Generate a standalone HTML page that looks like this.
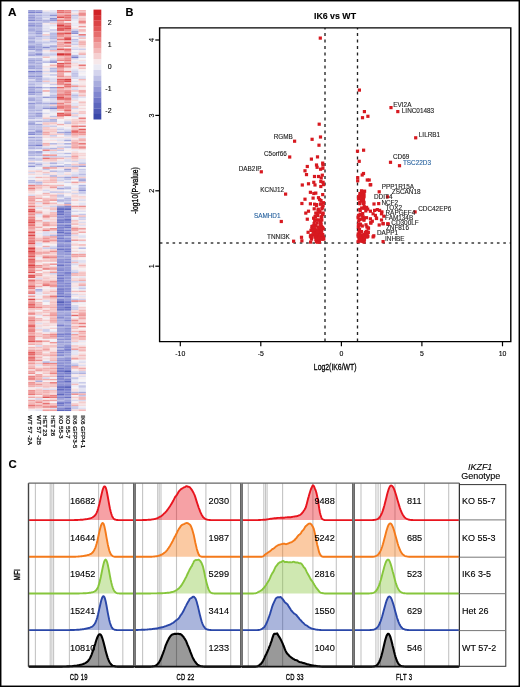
<!DOCTYPE html><html><head><meta charset="utf-8"><style>html,body{margin:0;padding:0;background:#fff;}svg{display:block;filter:blur(0.35px);}text{font-family:"Liberation Sans", sans-serif;stroke:#000;stroke-width:0.12px;}.hm rect{width:7.25px;height:1.65px;}</style></head><body>
<svg width="520" height="687" viewBox="0 0 520 687">
<rect x="0" y="0" width="520" height="687" fill="#fff"/>
<g class="hm"><g transform="translate(28.20,0)"><rect y="10.0" fill="#9a9ed8"/><rect y="11.6" fill="#7c82ce"/><rect y="13.2" fill="#b7bae3"/><rect y="14.8" fill="#999dd7"/><rect y="16.4" fill="#9599d6"/><rect y="18.0" fill="#a6a9dc"/><rect y="19.6" fill="#8186d0"/><rect y="21.2" fill="#c0c2e7"/><rect y="22.8" fill="#9da1d9"/><rect y="24.4" fill="#8b90d3"/><rect y="26.0" fill="#a4a8dc"/><rect y="27.6" fill="#afb3e0"/><rect y="29.2" fill="#9599d6"/><rect y="30.9" fill="#b6b9e3"/><rect y="32.5" fill="#b5b8e2"/><rect y="34.1" fill="#c5c7e9"/><rect y="35.7" fill="#b7b9e3"/><rect y="37.3" fill="#9ea2d9"/><rect y="38.9" fill="#c1c3e7"/><rect y="40.5" fill="#a4a8dc"/><rect y="42.1" fill="#a0a4da"/><rect y="43.7" fill="#c1c4e7"/><rect y="45.3" fill="#9498d6"/><rect y="46.9" fill="#8e93d4"/><rect y="48.5" fill="#969bd6"/><rect y="50.1" fill="#d4d5ed"/><rect y="51.7" fill="#b7bae3"/><rect y="53.3" fill="#a8abdd"/><rect y="54.9" fill="#a2a6db"/><rect y="56.5" fill="#e4e3f2"/><rect y="58.1" fill="#b0b3e0"/><rect y="59.7" fill="#9da2d9"/><rect y="61.3" fill="#9fa3da"/><rect y="62.9" fill="#b1b4e1"/><rect y="64.5" fill="#adb0df"/><rect y="66.1" fill="#9196d5"/><rect y="67.7" fill="#9a9fd8"/><rect y="69.3" fill="#c9cbea"/><rect y="71.0" fill="#747acb"/><rect y="72.6" fill="#adb0df"/><rect y="74.2" fill="#aeb1df"/><rect y="75.8" fill="#8e93d4"/><rect y="77.4" fill="#acafde"/><rect y="79.0" fill="#d9daef"/><rect y="80.6" fill="#b9bbe4"/><rect y="82.2" fill="#bfc2e6"/><rect y="83.8" fill="#b1b4e1"/><rect y="85.4" fill="#bcbfe5"/><rect y="87.0" fill="#9195d5"/><rect y="88.6" fill="#a6aadc"/><rect y="90.2" fill="#a1a4da"/><rect y="91.8" fill="#898ed2"/><rect y="93.4" fill="#9da1d9"/><rect y="95.0" fill="#d8d9ef"/><rect y="96.6" fill="#babce4"/><rect y="98.2" fill="#999dd7"/><rect y="99.8" fill="#a3a7db"/><rect y="101.4" fill="#c8caea"/><rect y="103.0" fill="#8f94d4"/><rect y="104.6" fill="#b7bae3"/><rect y="106.2" fill="#9ea2d9"/><rect y="107.8" fill="#aeb1e0"/><rect y="109.4" fill="#b2b5e1"/><rect y="111.1" fill="#bfc1e6"/><rect y="112.7" fill="#afb2e0"/><rect y="114.3" fill="#b7bae3"/><rect y="115.9" fill="#abaede"/><rect y="117.5" fill="#b1b4e1"/><rect y="119.1" fill="#dedef0"/><rect y="120.7" fill="#b5b8e2"/><rect y="122.3" fill="#9ca0d8"/><rect y="123.9" fill="#a0a4da"/><rect y="125.5" fill="#c0c2e7"/><rect y="127.1" fill="#bbbee5"/><rect y="128.7" fill="#b1b4e1"/><rect y="130.3" fill="#c7c9ea"/><rect y="131.9" fill="#9094d4"/><rect y="133.5" fill="#8489d1"/><rect y="135.1" fill="#e2e2f1"/><rect y="136.7" fill="#9b9fd8"/><rect y="138.3" fill="#c4c6e9"/><rect y="139.9" fill="#b0b3e0"/><rect y="141.5" fill="#b5b8e2"/><rect y="143.1" fill="#b1b4e1"/><rect y="144.7" fill="#9398d6"/><rect y="146.3" fill="#b5b8e2"/><rect y="147.9" fill="#afb2e0"/><rect y="149.5" fill="#e0e0f1"/><rect y="151.2" fill="#9da1d9"/><rect y="152.8" fill="#b3b6e1"/><rect y="154.4" fill="#afb2e0"/><rect y="156.0" fill="#dfdff0"/><rect y="157.6" fill="#afb2e0"/><rect y="159.2" fill="#c1c3e7"/><rect y="160.8" fill="#f6e0e1"/><rect y="162.4" fill="#abaede"/><rect y="164.0" fill="#d7d7ee"/><rect y="165.6" fill="#8c91d3"/><rect y="167.2" fill="#e3e3f2"/><rect y="168.8" fill="#eae9f4"/><rect y="170.4" fill="#f5d4d5"/><rect y="172.0" fill="#d4d5ed"/><rect y="173.6" fill="#f5d7d8"/><rect y="175.2" fill="#f0eff5"/><rect y="176.8" fill="#dedef0"/><rect y="178.4" fill="#eeedf5"/><rect y="180.0" fill="#b4b7e2"/><rect y="181.6" fill="#b2b5e1"/><rect y="183.2" fill="#d6d6ee"/><rect y="184.8" fill="#ea7d7d"/><rect y="186.4" fill="#f1aaaa"/><rect y="188.0" fill="#ea7d7d"/><rect y="189.6" fill="#f4bebe"/><rect y="191.3" fill="#f5d5d6"/><rect y="192.9" fill="#f6e4e6"/><rect y="194.5" fill="#d6d7ee"/><rect y="196.1" fill="#ef9b9b"/><rect y="197.7" fill="#f0a1a1"/><rect y="199.3" fill="#ed9191"/><rect y="200.9" fill="#f3b5b5"/><rect y="202.5" fill="#f0a4a4"/><rect y="204.1" fill="#f4c0c0"/><rect y="205.7" fill="#e77272"/><rect y="207.3" fill="#f4bbbb"/><rect y="208.9" fill="#e35d5e"/><rect y="210.5" fill="#dd494a"/><rect y="212.1" fill="#ed9191"/><rect y="213.7" fill="#ec8a8a"/><rect y="215.3" fill="#f0a6a6"/><rect y="216.9" fill="#ea7f7f"/><rect y="218.5" fill="#ea7d7d"/><rect y="220.1" fill="#e56767"/><rect y="221.7" fill="#df4f50"/><rect y="223.3" fill="#ea7f7f"/><rect y="224.9" fill="#e87373"/><rect y="226.5" fill="#ef9a9a"/><rect y="228.1" fill="#ee9595"/><rect y="229.7" fill="#f3b9b9"/><rect y="231.4" fill="#df5152"/><rect y="233.0" fill="#ee9494"/><rect y="234.6" fill="#dc4648"/><rect y="236.2" fill="#ec8b8b"/><rect y="237.8" fill="#ea8080"/><rect y="239.4" fill="#ea8080"/><rect y="241.0" fill="#e87777"/><rect y="242.6" fill="#e05253"/><rect y="244.2" fill="#f0a6a6"/><rect y="245.8" fill="#f3b6b6"/><rect y="247.4" fill="#da4042"/><rect y="249.0" fill="#e66a6a"/><rect y="250.6" fill="#da4042"/><rect y="252.2" fill="#e25858"/><rect y="253.8" fill="#ea8282"/><rect y="255.4" fill="#e15657"/><rect y="257.0" fill="#ef9f9f"/><rect y="258.6" fill="#e25a5a"/><rect y="260.2" fill="#e35d5d"/><rect y="261.8" fill="#e87373"/><rect y="263.4" fill="#e87474"/><rect y="265.0" fill="#db4244"/><rect y="266.6" fill="#e66a6a"/><rect y="268.2" fill="#eb8787"/><rect y="269.8" fill="#eb8383"/><rect y="271.5" fill="#de4d4e"/><rect y="273.1" fill="#f5c7c7"/><rect y="274.7" fill="#e05253"/><rect y="276.3" fill="#da4043"/><rect y="277.9" fill="#f6dee0"/><rect y="279.5" fill="#e66c6c"/><rect y="281.1" fill="#eb8888"/><rect y="282.7" fill="#f1a6a6"/><rect y="284.3" fill="#ed8f8f"/><rect y="285.9" fill="#e45e5e"/><rect y="287.5" fill="#e97979"/><rect y="289.1" fill="#f4bfbf"/><rect y="290.7" fill="#ed9292"/><rect y="292.3" fill="#e66969"/><rect y="293.9" fill="#e7e6f3"/><rect y="295.5" fill="#ee9696"/><rect y="297.1" fill="#f5dadc"/><rect y="298.7" fill="#dd4a4b"/><rect y="300.3" fill="#f0a3a3"/><rect y="301.9" fill="#ed9292"/><rect y="303.5" fill="#e56262"/><rect y="305.1" fill="#e77070"/><rect y="306.7" fill="#e66969"/><rect y="308.3" fill="#f4bebe"/><rect y="309.9" fill="#f5d7d9"/><rect y="311.6" fill="#f2afaf"/><rect y="313.2" fill="#e87676"/><rect y="314.8" fill="#f6e1e3"/><rect y="316.4" fill="#ef9f9f"/><rect y="318.0" fill="#ee9898"/><rect y="319.6" fill="#e97a7a"/><rect y="321.2" fill="#ee9999"/><rect y="322.8" fill="#f1abab"/><rect y="324.4" fill="#e66969"/><rect y="326.0" fill="#e56363"/><rect y="327.6" fill="#ef9b9b"/><rect y="329.2" fill="#e77070"/><rect y="330.8" fill="#ea7f7f"/><rect y="332.4" fill="#ef9f9f"/><rect y="334.0" fill="#f2b1b1"/><rect y="335.6" fill="#e76e6e"/><rect y="337.2" fill="#e77272"/><rect y="338.8" fill="#eb8686"/><rect y="340.4" fill="#e15657"/><rect y="342.0" fill="#f4baba"/><rect y="343.6" fill="#f1a9a9"/><rect y="345.2" fill="#f6f2f4"/><rect y="346.8" fill="#f2b3b3"/><rect y="348.4" fill="#f4c0c0"/><rect y="350.0" fill="#f0a1a1"/><rect y="351.7" fill="#e45e5e"/><rect y="353.3" fill="#e35c5c"/><rect y="354.9" fill="#ef9f9f"/><rect y="356.5" fill="#e66969"/><rect y="358.1" fill="#e76e6e"/><rect y="359.7" fill="#e87474"/><rect y="361.3" fill="#f3b8b8"/><rect y="362.9" fill="#ef9a9a"/><rect y="364.5" fill="#f5c6c7"/><rect y="366.1" fill="#f2b2b2"/><rect y="367.7" fill="#ef9999"/><rect y="369.3" fill="#f5d3d4"/><rect y="370.9" fill="#f0a4a4"/><rect y="372.5" fill="#ed8f8f"/><rect y="374.1" fill="#f6e9ec"/><rect y="375.7" fill="#ea8383"/><rect y="377.3" fill="#ea7e7e"/><rect y="378.9" fill="#ec8a8a"/><rect y="380.5" fill="#f6ddde"/><rect y="382.1" fill="#ec8888"/><rect y="383.7" fill="#ef9e9e"/><rect y="385.3" fill="#f0a5a5"/><rect y="386.9" fill="#f6e1e3"/><rect y="388.5" fill="#f6e0e1"/><rect y="390.1" fill="#eb8383"/><rect y="391.8" fill="#ef9b9b"/><rect y="393.4" fill="#e87777"/><rect y="395.0" fill="#f5dadc"/><rect y="396.6" fill="#f0a5a5"/><rect y="398.2" fill="#edecf4"/><rect y="399.8" fill="#ef9f9f"/><rect y="401.4" fill="#f4bcbc"/><rect y="403.0" fill="#f3b7b7"/><rect y="404.6" fill="#e87575"/><rect y="406.2" fill="#ef9b9b"/><rect y="407.8" fill="#f5cdcd"/><rect y="409.4" fill="#f2f0f6"/></g><g transform="translate(35.40,0)"><rect y="10.0" fill="#a8acdd"/><rect y="11.6" fill="#8085cf"/><rect y="13.2" fill="#c4c6e9"/><rect y="14.8" fill="#acafdf"/><rect y="16.4" fill="#b9bce4"/><rect y="18.0" fill="#b0b3e0"/><rect y="19.6" fill="#a2a5da"/><rect y="21.2" fill="#bec0e6"/><rect y="22.8" fill="#a5a9dc"/><rect y="24.4" fill="#a0a4da"/><rect y="26.0" fill="#a6a9dc"/><rect y="27.6" fill="#b4b7e2"/><rect y="29.2" fill="#a8acdd"/><rect y="30.9" fill="#9b9fd8"/><rect y="32.5" fill="#969ad6"/><rect y="34.1" fill="#b6b9e3"/><rect y="35.7" fill="#a4a8dc"/><rect y="37.3" fill="#c5c7e9"/><rect y="38.9" fill="#cacceb"/><rect y="40.5" fill="#cfd1ec"/><rect y="42.1" fill="#babde5"/><rect y="43.7" fill="#adb0df"/><rect y="45.3" fill="#a3a7db"/><rect y="46.9" fill="#a7abdd"/><rect y="48.5" fill="#9a9ed8"/><rect y="50.1" fill="#a2a6db"/><rect y="51.7" fill="#c3c5e8"/><rect y="53.3" fill="#7f85cf"/><rect y="54.9" fill="#adb0df"/><rect y="56.5" fill="#ddddf0"/><rect y="58.1" fill="#b3b6e2"/><rect y="59.7" fill="#a4a8db"/><rect y="61.3" fill="#bcbee5"/><rect y="62.9" fill="#aaadde"/><rect y="64.5" fill="#b5b8e2"/><rect y="66.1" fill="#a8acdd"/><rect y="67.7" fill="#a5a8dc"/><rect y="69.3" fill="#babde4"/><rect y="71.0" fill="#8287d0"/><rect y="72.6" fill="#b1b4e1"/><rect y="74.2" fill="#adb0df"/><rect y="75.8" fill="#9196d5"/><rect y="77.4" fill="#abaede"/><rect y="79.0" fill="#aaadde"/><rect y="80.6" fill="#a6aadc"/><rect y="82.2" fill="#c5c7e9"/><rect y="83.8" fill="#c9cbea"/><rect y="85.4" fill="#ccceeb"/><rect y="87.0" fill="#9196d5"/><rect y="88.6" fill="#c8caea"/><rect y="90.2" fill="#afb2e0"/><rect y="91.8" fill="#9b9fd8"/><rect y="93.4" fill="#b5b8e2"/><rect y="95.0" fill="#cacceb"/><rect y="96.6" fill="#bdbfe5"/><rect y="98.2" fill="#b9bce4"/><rect y="99.8" fill="#b5b8e2"/><rect y="101.4" fill="#b1b4e1"/><rect y="103.0" fill="#a7abdd"/><rect y="104.6" fill="#cfd0ec"/><rect y="106.2" fill="#bec1e6"/><rect y="107.8" fill="#c4c6e8"/><rect y="109.4" fill="#adb1df"/><rect y="111.1" fill="#cbcdeb"/><rect y="112.7" fill="#969ad6"/><rect y="114.3" fill="#a0a4da"/><rect y="115.9" fill="#a3a6db"/><rect y="117.5" fill="#c8caea"/><rect y="119.1" fill="#e3e2f2"/><rect y="120.7" fill="#adb0df"/><rect y="122.3" fill="#e6e5f2"/><rect y="123.9" fill="#a0a4da"/><rect y="125.5" fill="#bfc2e6"/><rect y="127.1" fill="#b8bae3"/><rect y="128.7" fill="#b8bbe4"/><rect y="130.3" fill="#8d92d3"/><rect y="131.9" fill="#a2a6db"/><rect y="133.5" fill="#a7abdd"/><rect y="135.1" fill="#d7d7ee"/><rect y="136.7" fill="#afb2e0"/><rect y="138.3" fill="#c3c5e8"/><rect y="139.9" fill="#a7abdd"/><rect y="141.5" fill="#b9bce4"/><rect y="143.1" fill="#b0b3e0"/><rect y="144.7" fill="#767ccc"/><rect y="146.3" fill="#c5c7e9"/><rect y="147.9" fill="#b6b9e3"/><rect y="149.5" fill="#efeef5"/><rect y="151.2" fill="#898ed2"/><rect y="152.8" fill="#b9bce4"/><rect y="154.4" fill="#b1b4e1"/><rect y="156.0" fill="#e3e3f2"/><rect y="157.6" fill="#cbcceb"/><rect y="159.2" fill="#bcbfe5"/><rect y="160.8" fill="#f6eff2"/><rect y="162.4" fill="#c8caea"/><rect y="164.0" fill="#a8abdd"/><rect y="165.6" fill="#d1d2ec"/><rect y="167.2" fill="#f2f0f6"/><rect y="168.8" fill="#e5e4f2"/><rect y="170.4" fill="#f5c7c7"/><rect y="172.0" fill="#f6e1e3"/><rect y="173.6" fill="#f6e0e2"/><rect y="175.2" fill="#eceaf4"/><rect y="176.8" fill="#f3b5b5"/><rect y="178.4" fill="#f6eef1"/><rect y="180.0" fill="#f5d8d9"/><rect y="181.6" fill="#b1b4e1"/><rect y="183.2" fill="#c1c3e7"/><rect y="184.8" fill="#f1abab"/><rect y="186.4" fill="#f4bbbb"/><rect y="188.0" fill="#f5c6c6"/><rect y="189.6" fill="#f6dfe1"/><rect y="191.3" fill="#f6f1f4"/><rect y="192.9" fill="#f6f1f4"/><rect y="194.5" fill="#f5d1d2"/><rect y="196.1" fill="#f5d1d2"/><rect y="197.7" fill="#f0a2a2"/><rect y="199.3" fill="#f6f3f5"/><rect y="200.9" fill="#f3b8b8"/><rect y="202.5" fill="#e0e0f1"/><rect y="204.1" fill="#f6e3e5"/><rect y="205.7" fill="#f5c8c8"/><rect y="207.3" fill="#e2e2f1"/><rect y="208.9" fill="#f6f2f5"/><rect y="210.5" fill="#f4c0c0"/><rect y="212.1" fill="#ef9d9d"/><rect y="213.7" fill="#dedef0"/><rect y="215.3" fill="#e6e6f3"/><rect y="216.9" fill="#f6eaed"/><rect y="218.5" fill="#f6e8ea"/><rect y="220.1" fill="#f0a1a1"/><rect y="221.7" fill="#f5d4d5"/><rect y="223.3" fill="#f5dadb"/><rect y="224.9" fill="#f6e1e3"/><rect y="226.5" fill="#f1a9a9"/><rect y="228.1" fill="#f6e3e5"/><rect y="229.7" fill="#f5cccd"/><rect y="231.4" fill="#f6eaec"/><rect y="233.0" fill="#e7e7f3"/><rect y="234.6" fill="#f6e7e9"/><rect y="236.2" fill="#f6dfe0"/><rect y="237.8" fill="#f5c3c3"/><rect y="239.4" fill="#f1adad"/><rect y="241.0" fill="#f5cfd0"/><rect y="242.6" fill="#dbdbef"/><rect y="244.2" fill="#ddddf0"/><rect y="245.8" fill="#f0eef5"/><rect y="247.4" fill="#f5cbcc"/><rect y="249.0" fill="#f5cdce"/><rect y="250.6" fill="#f5c6c6"/><rect y="252.2" fill="#ee9696"/><rect y="253.8" fill="#f4bdbd"/><rect y="255.4" fill="#f5d7d8"/><rect y="257.0" fill="#eceaf4"/><rect y="258.6" fill="#f6e8ea"/><rect y="260.2" fill="#f2b3b3"/><rect y="261.8" fill="#f6ddde"/><rect y="263.4" fill="#f6e3e5"/><rect y="265.0" fill="#ec8c8c"/><rect y="266.6" fill="#ef9c9c"/><rect y="268.2" fill="#f6e0e1"/><rect y="269.8" fill="#f2aeae"/><rect y="271.5" fill="#f6f3f6"/><rect y="273.1" fill="#f1aaaa"/><rect y="274.7" fill="#f0a2a2"/><rect y="276.3" fill="#f5d4d5"/><rect y="277.9" fill="#dbdbef"/><rect y="279.5" fill="#f2b1b1"/><rect y="281.1" fill="#f5c1c1"/><rect y="282.7" fill="#f4bcbc"/><rect y="284.3" fill="#f5d7d8"/><rect y="285.9" fill="#f1a9a9"/><rect y="287.5" fill="#edecf5"/><rect y="289.1" fill="#a1a5da"/><rect y="290.7" fill="#cbcdeb"/><rect y="292.3" fill="#e5e4f2"/><rect y="293.9" fill="#e5e5f2"/><rect y="295.5" fill="#f6e7e9"/><rect y="297.1" fill="#edecf5"/><rect y="298.7" fill="#f4bfbf"/><rect y="300.3" fill="#f6eff1"/><rect y="301.9" fill="#f3b9b9"/><rect y="303.5" fill="#f3b8b8"/><rect y="305.1" fill="#f3b7b7"/><rect y="306.7" fill="#eb8686"/><rect y="308.3" fill="#f5c2c2"/><rect y="309.9" fill="#f3f1f6"/><rect y="311.6" fill="#f5caca"/><rect y="313.2" fill="#f5c6c6"/><rect y="314.8" fill="#e4e3f2"/><rect y="316.4" fill="#f6ecee"/><rect y="318.0" fill="#f3b7b7"/><rect y="319.6" fill="#f3b6b6"/><rect y="321.2" fill="#f5dadb"/><rect y="322.8" fill="#dfdff0"/><rect y="324.4" fill="#f5dadb"/><rect y="326.0" fill="#f5d8da"/><rect y="327.6" fill="#e2e2f1"/><rect y="329.2" fill="#f5c7c8"/><rect y="330.8" fill="#f6e9ec"/><rect y="332.4" fill="#f5c3c3"/><rect y="334.0" fill="#f5caca"/><rect y="335.6" fill="#f3b8b8"/><rect y="337.2" fill="#f6e0e2"/><rect y="338.8" fill="#f3f1f6"/><rect y="340.4" fill="#e97a7a"/><rect y="342.0" fill="#f4c0c0"/><rect y="343.6" fill="#f4bebe"/><rect y="345.2" fill="#d8d9ef"/><rect y="346.8" fill="#f5c1c1"/><rect y="348.4" fill="#f5cecf"/><rect y="350.0" fill="#f1acac"/><rect y="351.7" fill="#f1acac"/><rect y="353.3" fill="#f0a1a1"/><rect y="354.9" fill="#f5d3d4"/><rect y="356.5" fill="#f2b2b2"/><rect y="358.1" fill="#f5cdce"/><rect y="359.7" fill="#ec8b8b"/><rect y="361.3" fill="#f5dbdd"/><rect y="362.9" fill="#f4bfbf"/><rect y="364.5" fill="#e1e1f1"/><rect y="366.1" fill="#f6e5e7"/><rect y="367.7" fill="#f4bcbc"/><rect y="369.3" fill="#ee9494"/><rect y="370.9" fill="#f5d1d2"/><rect y="372.5" fill="#f6edf0"/><rect y="374.1" fill="#ef9e9e"/><rect y="375.7" fill="#ef9f9f"/><rect y="377.3" fill="#f2aeae"/><rect y="378.9" fill="#f1aaaa"/><rect y="380.5" fill="#abaede"/><rect y="382.1" fill="#f5c9ca"/><rect y="383.7" fill="#ee9797"/><rect y="385.3" fill="#f3b9b9"/><rect y="386.9" fill="#e8e8f3"/><rect y="388.5" fill="#f5cccd"/><rect y="390.1" fill="#f3b7b7"/><rect y="391.8" fill="#f4bdbd"/><rect y="393.4" fill="#f1a8a8"/><rect y="395.0" fill="#f6eef1"/><rect y="396.6" fill="#f3baba"/><rect y="398.2" fill="#cfd1ec"/><rect y="399.8" fill="#f4bcbc"/><rect y="401.4" fill="#ec8989"/><rect y="403.0" fill="#f5cbcb"/><rect y="404.6" fill="#ee9696"/><rect y="406.2" fill="#f1acac"/><rect y="407.8" fill="#f5dadc"/><rect y="409.4" fill="#e2e2f1"/></g><g transform="translate(42.60,0)"><rect y="10.0" fill="#f6ecee"/><rect y="11.6" fill="#d0d2ec"/><rect y="13.2" fill="#cbcdeb"/><rect y="14.8" fill="#c3c5e8"/><rect y="16.4" fill="#cdcfeb"/><rect y="18.0" fill="#e4e3f2"/><rect y="19.6" fill="#adb0df"/><rect y="21.2" fill="#acb0df"/><rect y="22.8" fill="#f6e9eb"/><rect y="24.4" fill="#e7e6f3"/><rect y="26.0" fill="#e7e6f3"/><rect y="27.6" fill="#e0e0f1"/><rect y="29.2" fill="#e0e0f1"/><rect y="30.9" fill="#cecfec"/><rect y="32.5" fill="#f5f3f7"/><rect y="34.1" fill="#f5c7c7"/><rect y="35.7" fill="#cbcdeb"/><rect y="37.3" fill="#d2d3ed"/><rect y="38.9" fill="#f6e0e2"/><rect y="40.5" fill="#d7d8ee"/><rect y="42.1" fill="#c0c2e7"/><rect y="43.7" fill="#e4e3f2"/><rect y="45.3" fill="#cacceb"/><rect y="46.9" fill="#878cd1"/><rect y="48.5" fill="#d0d1ec"/><rect y="50.1" fill="#f6e2e4"/><rect y="51.7" fill="#eeecf5"/><rect y="53.3" fill="#d0d1ec"/><rect y="54.9" fill="#cccdeb"/><rect y="56.5" fill="#f5c3c3"/><rect y="58.1" fill="#f6f4f7"/><rect y="59.7" fill="#e4e4f2"/><rect y="61.3" fill="#b2b5e1"/><rect y="62.9" fill="#f6f4f7"/><rect y="64.5" fill="#f6f3f6"/><rect y="66.1" fill="#f6dfe1"/><rect y="67.7" fill="#eae9f4"/><rect y="69.3" fill="#f6e4e7"/><rect y="71.0" fill="#d5d6ee"/><rect y="72.6" fill="#f6e3e5"/><rect y="74.2" fill="#ddddf0"/><rect y="75.8" fill="#f6eff2"/><rect y="77.4" fill="#d2d3ed"/><rect y="79.0" fill="#cbcceb"/><rect y="80.6" fill="#f5c5c5"/><rect y="82.2" fill="#d4d5ed"/><rect y="83.8" fill="#f6f0f3"/><rect y="85.4" fill="#f6f4f7"/><rect y="87.0" fill="#b9bce4"/><rect y="88.6" fill="#f6f3f6"/><rect y="90.2" fill="#f0a4a4"/><rect y="91.8" fill="#f2f1f6"/><rect y="93.4" fill="#f6ecef"/><rect y="95.0" fill="#f2f0f6"/><rect y="96.6" fill="#9499d6"/><rect y="98.2" fill="#e3e3f2"/><rect y="99.8" fill="#ecebf4"/><rect y="101.4" fill="#d1d2ed"/><rect y="103.0" fill="#adb0df"/><rect y="104.6" fill="#d1d2ec"/><rect y="106.2" fill="#b6b9e3"/><rect y="107.8" fill="#8f94d4"/><rect y="109.4" fill="#f6f2f5"/><rect y="111.1" fill="#f3f1f6"/><rect y="112.7" fill="#dadbef"/><rect y="114.3" fill="#f6ecef"/><rect y="115.9" fill="#f6eaec"/><rect y="117.5" fill="#f5c8c8"/><rect y="119.1" fill="#cacceb"/><rect y="120.7" fill="#bcbee5"/><rect y="122.3" fill="#f5c5c5"/><rect y="123.9" fill="#f5cbcb"/><rect y="125.5" fill="#d2d3ed"/><rect y="127.1" fill="#f5c2c2"/><rect y="128.7" fill="#f5c5c5"/><rect y="130.3" fill="#f5cbcb"/><rect y="131.9" fill="#f0a5a5"/><rect y="133.5" fill="#f2afaf"/><rect y="135.1" fill="#f5dbdd"/><rect y="136.7" fill="#f6dddf"/><rect y="138.3" fill="#f5f3f7"/><rect y="139.9" fill="#f6e3e5"/><rect y="141.5" fill="#f6e7e9"/><rect y="143.1" fill="#f1a7a7"/><rect y="144.7" fill="#f5c5c5"/><rect y="146.3" fill="#e2e2f1"/><rect y="147.9" fill="#c3c5e8"/><rect y="149.5" fill="#eb8383"/><rect y="151.2" fill="#ddddf0"/><rect y="152.8" fill="#f1f0f6"/><rect y="154.4" fill="#ed9090"/><rect y="156.0" fill="#cecfec"/><rect y="157.6" fill="#e77171"/><rect y="159.2" fill="#f5c4c4"/><rect y="160.8" fill="#f6ddde"/><rect y="162.4" fill="#dedef0"/><rect y="164.0" fill="#f6e5e7"/><rect y="165.6" fill="#d8d8ee"/><rect y="167.2" fill="#eb8686"/><rect y="168.8" fill="#c3c5e8"/><rect y="170.4" fill="#f6e6e8"/><rect y="172.0" fill="#f5c3c3"/><rect y="173.6" fill="#d5d6ee"/><rect y="175.2" fill="#f6e4e6"/><rect y="176.8" fill="#f5c6c6"/><rect y="178.4" fill="#f6e0e1"/><rect y="180.0" fill="#f5c8c8"/><rect y="181.6" fill="#f4bdbd"/><rect y="183.2" fill="#f6e5e7"/><rect y="184.8" fill="#f2b1b1"/><rect y="186.4" fill="#f5dadb"/><rect y="188.0" fill="#f6e4e6"/><rect y="189.6" fill="#d8d9ef"/><rect y="191.3" fill="#e6e5f2"/><rect y="192.9" fill="#f2b3b3"/><rect y="194.5" fill="#f5cfd0"/><rect y="196.1" fill="#f4f2f6"/><rect y="197.7" fill="#f5c2c2"/><rect y="199.3" fill="#f1a7a7"/><rect y="200.9" fill="#f4bcbc"/><rect y="202.5" fill="#ee9595"/><rect y="204.1" fill="#f5cecf"/><rect y="205.7" fill="#e7e6f3"/><rect y="207.3" fill="#f5d0d1"/><rect y="208.9" fill="#f6ebee"/><rect y="210.5" fill="#f6e7e9"/><rect y="212.1" fill="#f6e3e5"/><rect y="213.7" fill="#f5cfcf"/><rect y="215.3" fill="#eb8686"/><rect y="216.9" fill="#f1a8a8"/><rect y="218.5" fill="#f5d8d9"/><rect y="220.1" fill="#e8e7f3"/><rect y="221.7" fill="#f1aaaa"/><rect y="223.3" fill="#ee9898"/><rect y="224.9" fill="#ee9898"/><rect y="226.5" fill="#f6eaed"/><rect y="228.1" fill="#f3b8b8"/><rect y="229.7" fill="#e97878"/><rect y="231.4" fill="#dbdbef"/><rect y="233.0" fill="#dcdcf0"/><rect y="234.6" fill="#d4d5ed"/><rect y="236.2" fill="#f2afaf"/><rect y="237.8" fill="#ee9595"/><rect y="239.4" fill="#ef9d9d"/><rect y="241.0" fill="#eb8383"/><rect y="242.6" fill="#f6e7e9"/><rect y="244.2" fill="#f5f3f7"/><rect y="245.8" fill="#f1abab"/><rect y="247.4" fill="#cdceeb"/><rect y="249.0" fill="#f6dfe1"/><rect y="250.6" fill="#f4c1c1"/><rect y="252.2" fill="#ee9696"/><rect y="253.8" fill="#f6e0e1"/><rect y="255.4" fill="#ef9c9c"/><rect y="257.0" fill="#e97d7d"/><rect y="258.6" fill="#f5d5d6"/><rect y="260.2" fill="#f4bbbb"/><rect y="261.8" fill="#f6f3f6"/><rect y="263.4" fill="#f3b9b9"/><rect y="265.0" fill="#f3b6b6"/><rect y="266.6" fill="#f4bebe"/><rect y="268.2" fill="#e76f6f"/><rect y="269.8" fill="#f6f2f5"/><rect y="271.5" fill="#f5c7c7"/><rect y="273.1" fill="#f5d2d3"/><rect y="274.7" fill="#f6eaec"/><rect y="276.3" fill="#f5d1d2"/><rect y="277.9" fill="#f5c8c8"/><rect y="279.5" fill="#f5cccd"/><rect y="281.1" fill="#f2aeae"/><rect y="282.7" fill="#f0a0a0"/><rect y="284.3" fill="#e46060"/><rect y="285.9" fill="#f5dadc"/><rect y="287.5" fill="#f6f0f3"/><rect y="289.1" fill="#f6e3e5"/><rect y="290.7" fill="#f5d6d7"/><rect y="292.3" fill="#f5c1c1"/><rect y="293.9" fill="#edecf4"/><rect y="295.5" fill="#f3b4b4"/><rect y="297.1" fill="#f2b3b3"/><rect y="298.7" fill="#f5dbdd"/><rect y="300.3" fill="#d6d7ee"/><rect y="301.9" fill="#f6f2f5"/><rect y="303.5" fill="#f3f1f6"/><rect y="305.1" fill="#f3b5b5"/><rect y="306.7" fill="#f3baba"/><rect y="308.3" fill="#f6e3e5"/><rect y="309.9" fill="#f3b6b6"/><rect y="311.6" fill="#f5c4c4"/><rect y="313.2" fill="#f6e0e2"/><rect y="314.8" fill="#f2afaf"/><rect y="316.4" fill="#f6e6e8"/><rect y="318.0" fill="#f6eff2"/><rect y="319.6" fill="#f5cecf"/><rect y="321.2" fill="#f6e5e7"/><rect y="322.8" fill="#f5d8d9"/><rect y="324.4" fill="#f5d1d2"/><rect y="326.0" fill="#f6e9eb"/><rect y="327.6" fill="#f6e1e3"/><rect y="329.2" fill="#c5c7e9"/><rect y="330.8" fill="#d2d3ed"/><rect y="332.4" fill="#f6e3e5"/><rect y="334.0" fill="#f0a2a2"/><rect y="335.6" fill="#f3b5b5"/><rect y="337.2" fill="#ef9f9f"/><rect y="338.8" fill="#f1eff5"/><rect y="340.4" fill="#f0a6a6"/><rect y="342.0" fill="#f6e7e9"/><rect y="343.6" fill="#f6eef0"/><rect y="345.2" fill="#f3b9b9"/><rect y="346.8" fill="#f5c4c4"/><rect y="348.4" fill="#f0a0a0"/><rect y="350.0" fill="#f4bdbd"/><rect y="351.7" fill="#f6eaec"/><rect y="353.3" fill="#f5c7c7"/><rect y="354.9" fill="#f3b7b7"/><rect y="356.5" fill="#f6eef1"/><rect y="358.1" fill="#f5d7d8"/><rect y="359.7" fill="#f1eff6"/><rect y="361.3" fill="#b4b7e2"/><rect y="362.9" fill="#ea7e7e"/><rect y="364.5" fill="#f3b5b5"/><rect y="366.1" fill="#f6dcde"/><rect y="367.7" fill="#f1acac"/><rect y="369.3" fill="#f3b4b4"/><rect y="370.9" fill="#f5cdcd"/><rect y="372.5" fill="#f5c3c3"/><rect y="374.1" fill="#f6e9eb"/><rect y="375.7" fill="#f4bcbc"/><rect y="377.3" fill="#d3d4ed"/><rect y="378.9" fill="#f1acac"/><rect y="380.5" fill="#f6f0f3"/><rect y="382.1" fill="#f3baba"/><rect y="383.7" fill="#f5cccc"/><rect y="385.3" fill="#f4bcbc"/><rect y="386.9" fill="#f5cecf"/><rect y="388.5" fill="#dbdcef"/><rect y="390.1" fill="#f1a7a7"/><rect y="391.8" fill="#f2b2b2"/><rect y="393.4" fill="#f4bdbd"/><rect y="395.0" fill="#f0a5a5"/><rect y="396.6" fill="#e2595a"/><rect y="398.2" fill="#f6f3f6"/><rect y="399.8" fill="#ee9898"/><rect y="401.4" fill="#f5c6c7"/><rect y="403.0" fill="#e77171"/><rect y="404.6" fill="#f4bbbb"/><rect y="406.2" fill="#e97a7a"/><rect y="407.8" fill="#f6dfe0"/><rect y="409.4" fill="#ef9d9d"/></g><g transform="translate(49.80,0)"><rect y="10.0" fill="#e6e6f3"/><rect y="11.6" fill="#d7d8ee"/><rect y="13.2" fill="#c3c6e8"/><rect y="14.8" fill="#8f94d4"/><rect y="16.4" fill="#d0d1ec"/><rect y="18.0" fill="#8b90d3"/><rect y="19.6" fill="#9196d5"/><rect y="21.2" fill="#cacceb"/><rect y="22.8" fill="#f5d0d1"/><rect y="24.4" fill="#dedff0"/><rect y="26.0" fill="#eeedf5"/><rect y="27.6" fill="#f6f4f7"/><rect y="29.2" fill="#c5c7e9"/><rect y="30.9" fill="#e5e5f2"/><rect y="32.5" fill="#b6b9e3"/><rect y="34.1" fill="#b3b6e1"/><rect y="35.7" fill="#b7bae3"/><rect y="37.3" fill="#abaede"/><rect y="38.9" fill="#d3d4ed"/><rect y="40.5" fill="#b6b9e3"/><rect y="42.1" fill="#cbcdeb"/><rect y="43.7" fill="#e7e7f3"/><rect y="45.3" fill="#9fa3da"/><rect y="46.9" fill="#c1c3e7"/><rect y="48.5" fill="#bec1e6"/><rect y="50.1" fill="#f3b4b4"/><rect y="51.7" fill="#e0e0f1"/><rect y="53.3" fill="#c3c5e8"/><rect y="54.9" fill="#d7d7ee"/><rect y="56.5" fill="#f6eaec"/><rect y="58.1" fill="#e1e1f1"/><rect y="59.7" fill="#b9bce4"/><rect y="61.3" fill="#8085cf"/><rect y="62.9" fill="#f6f1f3"/><rect y="64.5" fill="#f2b3b3"/><rect y="66.1" fill="#f5d7d8"/><rect y="67.7" fill="#b5b8e2"/><rect y="69.3" fill="#c1c4e7"/><rect y="71.0" fill="#b4b7e2"/><rect y="72.6" fill="#f6eff2"/><rect y="74.2" fill="#c0c2e7"/><rect y="75.8" fill="#f1eff6"/><rect y="77.4" fill="#dfdff1"/><rect y="79.0" fill="#d8d9ef"/><rect y="80.6" fill="#d8d9ef"/><rect y="82.2" fill="#f6dedf"/><rect y="83.8" fill="#c7c9ea"/><rect y="85.4" fill="#f6f1f4"/><rect y="87.0" fill="#9599d6"/><rect y="88.6" fill="#d1d2ec"/><rect y="90.2" fill="#b7bae3"/><rect y="91.8" fill="#c8caea"/><rect y="93.4" fill="#d4d5ed"/><rect y="95.0" fill="#b9bce4"/><rect y="96.6" fill="#a7abdd"/><rect y="98.2" fill="#d1d2ed"/><rect y="99.8" fill="#dfdff0"/><rect y="101.4" fill="#cbcdeb"/><rect y="103.0" fill="#989cd7"/><rect y="104.6" fill="#f5d1d2"/><rect y="106.2" fill="#aaaede"/><rect y="107.8" fill="#7d83ce"/><rect y="109.4" fill="#d8d9ef"/><rect y="111.1" fill="#e0e0f1"/><rect y="112.7" fill="#efeef5"/><rect y="114.3" fill="#edebf4"/><rect y="115.9" fill="#bec1e6"/><rect y="117.5" fill="#f5d1d2"/><rect y="119.1" fill="#a5a9dc"/><rect y="120.7" fill="#b7bae3"/><rect y="122.3" fill="#f5c4c4"/><rect y="123.9" fill="#f6dfe1"/><rect y="125.5" fill="#caccea"/><rect y="127.1" fill="#f6dedf"/><rect y="128.7" fill="#f5c9c9"/><rect y="130.3" fill="#f5c3c3"/><rect y="131.9" fill="#f5d8d9"/><rect y="133.5" fill="#f5c6c6"/><rect y="135.1" fill="#c6c8e9"/><rect y="136.7" fill="#f5d8d9"/><rect y="138.3" fill="#ebeaf4"/><rect y="139.9" fill="#f6e0e1"/><rect y="141.5" fill="#f6f2f5"/><rect y="143.1" fill="#b0b3e0"/><rect y="144.7" fill="#f6e6e8"/><rect y="146.3" fill="#e7e6f3"/><rect y="147.9" fill="#b0b3e0"/><rect y="149.5" fill="#f4bfbf"/><rect y="151.2" fill="#d8d9ef"/><rect y="152.8" fill="#dedef0"/><rect y="154.4" fill="#ef9d9d"/><rect y="156.0" fill="#c9cbea"/><rect y="157.6" fill="#f0a5a5"/><rect y="159.2" fill="#f3b8b8"/><rect y="160.8" fill="#f5dbdc"/><rect y="162.4" fill="#afb2e0"/><rect y="164.0" fill="#e3e3f2"/><rect y="165.6" fill="#afb2e0"/><rect y="167.2" fill="#ef9c9c"/><rect y="168.8" fill="#f6e8eb"/><rect y="170.4" fill="#b6b9e3"/><rect y="172.0" fill="#f6e0e2"/><rect y="173.6" fill="#f6dfe0"/><rect y="175.2" fill="#adb0df"/><rect y="176.8" fill="#f3b8b8"/><rect y="178.4" fill="#f5c1c1"/><rect y="180.0" fill="#f3b6b6"/><rect y="181.6" fill="#f4bbbb"/><rect y="183.2" fill="#f6ebed"/><rect y="184.8" fill="#f4c0c0"/><rect y="186.4" fill="#ef9e9e"/><rect y="188.0" fill="#f5d8d9"/><rect y="189.6" fill="#f6e8ea"/><rect y="191.3" fill="#c1c3e7"/><rect y="192.9" fill="#f6e9eb"/><rect y="194.5" fill="#f3baba"/><rect y="196.1" fill="#f5c4c4"/><rect y="197.7" fill="#f5caca"/><rect y="199.3" fill="#ee9494"/><rect y="200.9" fill="#f6f2f5"/><rect y="202.5" fill="#f4bcbc"/><rect y="204.1" fill="#f5dbdc"/><rect y="205.7" fill="#d1d2ec"/><rect y="207.3" fill="#f5c2c2"/><rect y="208.9" fill="#f4c0c0"/><rect y="210.5" fill="#e2e2f1"/><rect y="212.1" fill="#f3b6b6"/><rect y="213.7" fill="#f3b9b9"/><rect y="215.3" fill="#f1a9a9"/><rect y="216.9" fill="#f6dddf"/><rect y="218.5" fill="#f5d4d5"/><rect y="220.1" fill="#f5dadc"/><rect y="221.7" fill="#f5c3c3"/><rect y="223.3" fill="#f4c1c1"/><rect y="224.9" fill="#f3b6b6"/><rect y="226.5" fill="#f6eef0"/><rect y="228.1" fill="#ea8181"/><rect y="229.7" fill="#f4bbbb"/><rect y="231.4" fill="#e0e0f1"/><rect y="233.0" fill="#f5dbdd"/><rect y="234.6" fill="#b6b9e3"/><rect y="236.2" fill="#ee9999"/><rect y="237.8" fill="#f5c5c5"/><rect y="239.4" fill="#ef9b9b"/><rect y="241.0" fill="#f5c7c7"/><rect y="242.6" fill="#f6dfe0"/><rect y="244.2" fill="#f6eef1"/><rect y="245.8" fill="#d8d8ee"/><rect y="247.4" fill="#bec1e6"/><rect y="249.0" fill="#f5d0d0"/><rect y="250.6" fill="#ec8c8c"/><rect y="252.2" fill="#f4c0c0"/><rect y="253.8" fill="#f5d9db"/><rect y="255.4" fill="#f0a3a3"/><rect y="257.0" fill="#ec8d8d"/><rect y="258.6" fill="#f5c5c5"/><rect y="260.2" fill="#f2b2b2"/><rect y="261.8" fill="#f4f3f7"/><rect y="263.4" fill="#ee9898"/><rect y="265.0" fill="#eeedf5"/><rect y="266.6" fill="#f3b5b5"/><rect y="268.2" fill="#ed9191"/><rect y="269.8" fill="#f5dcdd"/><rect y="271.5" fill="#ef9999"/><rect y="273.1" fill="#cdcfeb"/><rect y="274.7" fill="#f6dcde"/><rect y="276.3" fill="#f5d7d8"/><rect y="277.9" fill="#f6e1e3"/><rect y="279.5" fill="#f5c7c8"/><rect y="281.1" fill="#ec8b8b"/><rect y="282.7" fill="#f3b4b4"/><rect y="284.3" fill="#ec8d8d"/><rect y="285.9" fill="#ef9b9b"/><rect y="287.5" fill="#ebeaf4"/><rect y="289.1" fill="#f5d9db"/><rect y="290.7" fill="#f2b2b2"/><rect y="292.3" fill="#f5d4d5"/><rect y="293.9" fill="#f5dadb"/><rect y="295.5" fill="#e97979"/><rect y="297.1" fill="#f0a5a5"/><rect y="298.7" fill="#f5d0d1"/><rect y="300.3" fill="#f5cbcb"/><rect y="301.9" fill="#f4c0c0"/><rect y="303.5" fill="#f5c5c5"/><rect y="305.1" fill="#f4bebe"/><rect y="306.7" fill="#f1adad"/><rect y="308.3" fill="#f5c3c3"/><rect y="309.9" fill="#f5cdcd"/><rect y="311.6" fill="#f2b2b2"/><rect y="313.2" fill="#ee9797"/><rect y="314.8" fill="#ee9898"/><rect y="316.4" fill="#f5c1c1"/><rect y="318.0" fill="#f2b2b2"/><rect y="319.6" fill="#f1a8a8"/><rect y="321.2" fill="#f1a8a8"/><rect y="322.8" fill="#f5d9da"/><rect y="324.4" fill="#f6dddf"/><rect y="326.0" fill="#f6f2f5"/><rect y="327.6" fill="#f5cece"/><rect y="329.2" fill="#f5f3f7"/><rect y="330.8" fill="#e5e5f2"/><rect y="332.4" fill="#f5c2c2"/><rect y="334.0" fill="#ec8c8c"/><rect y="335.6" fill="#ee9696"/><rect y="337.2" fill="#f1aaaa"/><rect y="338.8" fill="#f4f2f6"/><rect y="340.4" fill="#efeef5"/><rect y="342.0" fill="#ee9797"/><rect y="343.6" fill="#f6e2e4"/><rect y="345.2" fill="#f3b6b6"/><rect y="346.8" fill="#f5d3d4"/><rect y="348.4" fill="#f6e3e5"/><rect y="350.0" fill="#f6e1e2"/><rect y="351.7" fill="#f2b0b0"/><rect y="353.3" fill="#f3b5b5"/><rect y="354.9" fill="#f0a4a4"/><rect y="356.5" fill="#f5d1d2"/><rect y="358.1" fill="#f4c0c0"/><rect y="359.7" fill="#f3b6b6"/><rect y="361.3" fill="#d2d3ed"/><rect y="362.9" fill="#eb8585"/><rect y="364.5" fill="#f4bbbb"/><rect y="366.1" fill="#f5c9c9"/><rect y="367.7" fill="#f0a2a2"/><rect y="369.3" fill="#f4bebe"/><rect y="370.9" fill="#f2b2b2"/><rect y="372.5" fill="#eb8484"/><rect y="374.1" fill="#f5caca"/><rect y="375.7" fill="#f3b9b9"/><rect y="377.3" fill="#f3f1f6"/><rect y="378.9" fill="#f0a4a4"/><rect y="380.5" fill="#f6eef0"/><rect y="382.1" fill="#e87676"/><rect y="383.7" fill="#f5c6c6"/><rect y="385.3" fill="#f3b8b8"/><rect y="386.9" fill="#f6e3e5"/><rect y="388.5" fill="#dcdcf0"/><rect y="390.1" fill="#f3b9b9"/><rect y="391.8" fill="#f5cbcb"/><rect y="393.4" fill="#f5d2d3"/><rect y="395.0" fill="#ea8282"/><rect y="396.6" fill="#e97b7b"/><rect y="398.2" fill="#f5dbdc"/><rect y="399.8" fill="#f0a1a1"/><rect y="401.4" fill="#f6f4f7"/><rect y="403.0" fill="#f4c1c1"/><rect y="404.6" fill="#f2aeae"/><rect y="406.2" fill="#e66c6c"/><rect y="407.8" fill="#dedef0"/><rect y="409.4" fill="#f0a0a0"/></g><g transform="translate(57.00,0)"><rect y="10.0" fill="#e77070"/><rect y="11.6" fill="#e77070"/><rect y="13.2" fill="#f1a9a9"/><rect y="14.8" fill="#ef9a9a"/><rect y="16.4" fill="#e05253"/><rect y="18.0" fill="#f5c2c2"/><rect y="19.6" fill="#e87777"/><rect y="21.2" fill="#f0a1a1"/><rect y="22.8" fill="#ed8f8f"/><rect y="24.4" fill="#d93f41"/><rect y="26.0" fill="#e66c6c"/><rect y="27.6" fill="#e25858"/><rect y="29.2" fill="#da4042"/><rect y="30.9" fill="#f4c0c0"/><rect y="32.5" fill="#e46161"/><rect y="34.1" fill="#e77070"/><rect y="35.7" fill="#ee9494"/><rect y="37.3" fill="#f2aeae"/><rect y="38.9" fill="#e77272"/><rect y="40.5" fill="#f5cdcd"/><rect y="42.1" fill="#ef9a9a"/><rect y="43.7" fill="#f0a3a3"/><rect y="45.3" fill="#ef9c9c"/><rect y="46.9" fill="#f5c9c9"/><rect y="48.5" fill="#e25959"/><rect y="50.1" fill="#f2afaf"/><rect y="51.7" fill="#f5c2c2"/><rect y="53.3" fill="#cf2024"/><rect y="54.9" fill="#e87777"/><rect y="56.5" fill="#f5c6c6"/><rect y="58.1" fill="#f1aaaa"/><rect y="59.7" fill="#eb8686"/><rect y="61.3" fill="#f6e4e6"/><rect y="62.9" fill="#e05152"/><rect y="64.5" fill="#e77171"/><rect y="66.1" fill="#e2595a"/><rect y="67.7" fill="#f0a4a4"/><rect y="69.3" fill="#ef9d9d"/><rect y="71.0" fill="#e97b7b"/><rect y="72.6" fill="#f1a8a8"/><rect y="74.2" fill="#ee9898"/><rect y="75.8" fill="#ec8d8d"/><rect y="77.4" fill="#f2b3b3"/><rect y="79.0" fill="#e35b5b"/><rect y="80.6" fill="#e87777"/><rect y="82.2" fill="#e87474"/><rect y="83.8" fill="#ed9191"/><rect y="85.4" fill="#f5d1d1"/><rect y="87.0" fill="#e66969"/><rect y="88.6" fill="#f3b7b7"/><rect y="90.2" fill="#ed8f8f"/><rect y="91.8" fill="#f1adad"/><rect y="93.4" fill="#eb8383"/><rect y="95.0" fill="#ec8c8c"/><rect y="96.6" fill="#df5051"/><rect y="98.2" fill="#df5051"/><rect y="99.8" fill="#f4bfbf"/><rect y="101.4" fill="#f3b9b9"/><rect y="103.0" fill="#ea7f7f"/><rect y="104.6" fill="#ef9b9b"/><rect y="106.2" fill="#e45e5e"/><rect y="107.8" fill="#eb8686"/><rect y="109.4" fill="#f4bbbb"/><rect y="111.1" fill="#f6eef0"/><rect y="112.7" fill="#e25858"/><rect y="114.3" fill="#e35c5d"/><rect y="115.9" fill="#ef9e9e"/><rect y="117.5" fill="#f5cecf"/><rect y="119.1" fill="#f6f2f5"/><rect y="120.7" fill="#edecf5"/><rect y="122.3" fill="#efedf5"/><rect y="123.9" fill="#f2adad"/><rect y="125.5" fill="#f6f2f4"/><rect y="127.1" fill="#e4e4f2"/><rect y="128.7" fill="#c7c9ea"/><rect y="130.3" fill="#e2e1f1"/><rect y="131.9" fill="#a4a7db"/><rect y="133.5" fill="#f5cccd"/><rect y="135.1" fill="#f4f2f7"/><rect y="136.7" fill="#f5dcdd"/><rect y="138.3" fill="#e6e5f2"/><rect y="139.9" fill="#dedef0"/><rect y="141.5" fill="#f6e7e9"/><rect y="143.1" fill="#d5d6ee"/><rect y="144.7" fill="#f6e4e6"/><rect y="146.3" fill="#c9cbea"/><rect y="147.9" fill="#f5c2c2"/><rect y="149.5" fill="#c5c7e9"/><rect y="151.2" fill="#f6ebee"/><rect y="152.8" fill="#d5d6ee"/><rect y="154.4" fill="#e7e6f3"/><rect y="156.0" fill="#d2d3ed"/><rect y="157.6" fill="#f2aeae"/><rect y="159.2" fill="#f6e4e6"/><rect y="160.8" fill="#e4e3f2"/><rect y="162.4" fill="#dbdbef"/><rect y="164.0" fill="#f4f2f7"/><rect y="165.6" fill="#999dd7"/><rect y="167.2" fill="#f5d8da"/><rect y="168.8" fill="#edecf5"/><rect y="170.4" fill="#d0d1ec"/><rect y="172.0" fill="#dcdcf0"/><rect y="173.6" fill="#e2e2f1"/><rect y="175.2" fill="#f6dee0"/><rect y="176.8" fill="#bdbfe5"/><rect y="178.4" fill="#ddddf0"/><rect y="180.0" fill="#d1d2ec"/><rect y="181.6" fill="#f6e3e4"/><rect y="183.2" fill="#ecebf4"/><rect y="184.8" fill="#f3baba"/><rect y="186.4" fill="#d5d5ee"/><rect y="188.0" fill="#9ea2d9"/><rect y="189.6" fill="#f6e8ea"/><rect y="191.3" fill="#c7c9ea"/><rect y="192.9" fill="#f5d9da"/><rect y="194.5" fill="#bec0e6"/><rect y="196.1" fill="#c1c3e7"/><rect y="197.7" fill="#e9e8f3"/><rect y="199.3" fill="#aeb1e0"/><rect y="200.9" fill="#bfc1e6"/><rect y="202.5" fill="#ebeaf4"/><rect y="204.1" fill="#f5cfcf"/><rect y="205.7" fill="#9a9ed8"/><rect y="207.3" fill="#6971c5"/><rect y="208.9" fill="#626bc1"/><rect y="210.5" fill="#6971c5"/><rect y="212.1" fill="#6d74c7"/><rect y="213.7" fill="#6970c4"/><rect y="215.3" fill="#8d92d4"/><rect y="216.9" fill="#888dd2"/><rect y="218.5" fill="#8388d0"/><rect y="220.1" fill="#6a72c5"/><rect y="221.7" fill="#7279ca"/><rect y="223.3" fill="#9a9ed8"/><rect y="224.9" fill="#7e84cf"/><rect y="226.5" fill="#7b81ce"/><rect y="228.1" fill="#8186cf"/><rect y="229.7" fill="#7379ca"/><rect y="231.4" fill="#666ec3"/><rect y="233.0" fill="#959ad6"/><rect y="234.6" fill="#797fcd"/><rect y="236.2" fill="#8e93d4"/><rect y="237.8" fill="#767ccc"/><rect y="239.4" fill="#888dd2"/><rect y="241.0" fill="#868bd1"/><rect y="242.6" fill="#9fa3d9"/><rect y="244.2" fill="#7f85cf"/><rect y="245.8" fill="#8086cf"/><rect y="247.4" fill="#8f94d4"/><rect y="249.0" fill="#6c74c6"/><rect y="250.6" fill="#979cd7"/><rect y="252.2" fill="#8b90d3"/><rect y="253.8" fill="#9da1d9"/><rect y="255.4" fill="#979cd7"/><rect y="257.0" fill="#a4a7db"/><rect y="258.6" fill="#8f93d4"/><rect y="260.2" fill="#7e84cf"/><rect y="261.8" fill="#888dd2"/><rect y="263.4" fill="#8a8fd2"/><rect y="265.0" fill="#6b73c6"/><rect y="266.6" fill="#9b9fd8"/><rect y="268.2" fill="#797fcd"/><rect y="269.8" fill="#8388d0"/><rect y="271.5" fill="#8b90d3"/><rect y="273.1" fill="#8d92d4"/><rect y="274.7" fill="#747acb"/><rect y="276.3" fill="#8d92d3"/><rect y="277.9" fill="#747acb"/><rect y="279.5" fill="#7c82ce"/><rect y="281.1" fill="#7b81ce"/><rect y="282.7" fill="#8b90d3"/><rect y="284.3" fill="#888dd2"/><rect y="285.9" fill="#8489d0"/><rect y="287.5" fill="#8489d0"/><rect y="289.1" fill="#6971c5"/><rect y="290.7" fill="#7e83ce"/><rect y="292.3" fill="#7279ca"/><rect y="293.9" fill="#9196d5"/><rect y="295.5" fill="#656dc2"/><rect y="297.1" fill="#a8acdd"/><rect y="298.7" fill="#8489d0"/><rect y="300.3" fill="#646cc2"/><rect y="301.9" fill="#5660b9"/><rect y="303.5" fill="#7177c9"/><rect y="305.1" fill="#757bcb"/><rect y="306.7" fill="#7c82ce"/><rect y="308.3" fill="#676fc3"/><rect y="309.9" fill="#8c91d3"/><rect y="311.6" fill="#a5a8dc"/><rect y="313.2" fill="#9ea2d9"/><rect y="314.8" fill="#989cd7"/><rect y="316.4" fill="#888dd2"/><rect y="318.0" fill="#9b9fd8"/><rect y="319.6" fill="#a2a6db"/><rect y="321.2" fill="#a3a7db"/><rect y="322.8" fill="#aeb1df"/><rect y="324.4" fill="#7a7fcd"/><rect y="326.0" fill="#a4a8db"/><rect y="327.6" fill="#9b9fd8"/><rect y="329.2" fill="#8e93d4"/><rect y="330.8" fill="#9da1d9"/><rect y="332.4" fill="#989dd7"/><rect y="334.0" fill="#797fcd"/><rect y="335.6" fill="#868bd1"/><rect y="337.2" fill="#a6a9dc"/><rect y="338.8" fill="#8a8fd3"/><rect y="340.4" fill="#a4a8db"/><rect y="342.0" fill="#989cd7"/><rect y="343.6" fill="#a9acdd"/><rect y="345.2" fill="#a4a8db"/><rect y="346.8" fill="#8b90d3"/><rect y="348.4" fill="#adb0df"/><rect y="350.0" fill="#8388d0"/><rect y="351.7" fill="#7d83ce"/><rect y="353.3" fill="#9599d6"/><rect y="354.9" fill="#858ad1"/><rect y="356.5" fill="#babde4"/><rect y="358.1" fill="#8f94d4"/><rect y="359.7" fill="#8b90d3"/><rect y="361.3" fill="#9599d6"/><rect y="362.9" fill="#8e93d4"/><rect y="364.5" fill="#868bd1"/><rect y="366.1" fill="#9095d4"/><rect y="367.7" fill="#7379ca"/><rect y="369.3" fill="#777dcc"/><rect y="370.9" fill="#6e75c7"/><rect y="372.5" fill="#858ad1"/><rect y="374.1" fill="#8a8fd2"/><rect y="375.7" fill="#6e75c7"/><rect y="377.3" fill="#7f85cf"/><rect y="378.9" fill="#8489d1"/><rect y="380.5" fill="#8388d0"/><rect y="382.1" fill="#8489d0"/><rect y="383.7" fill="#8e93d4"/><rect y="385.3" fill="#6f76c8"/><rect y="386.9" fill="#6870c4"/><rect y="388.5" fill="#636cc1"/><rect y="390.1" fill="#767ccc"/><rect y="391.8" fill="#8c90d3"/><rect y="393.4" fill="#5f68bf"/><rect y="395.0" fill="#9196d5"/><rect y="396.6" fill="#8287d0"/><rect y="398.2" fill="#9095d4"/><rect y="399.8" fill="#babde4"/><rect y="401.4" fill="#7f85cf"/><rect y="403.0" fill="#6b72c6"/><rect y="404.6" fill="#7d83ce"/><rect y="406.2" fill="#9ea2d9"/><rect y="407.8" fill="#868bd1"/><rect y="409.4" fill="#6069bf"/></g><g transform="translate(64.20,0)"><rect y="10.0" fill="#ec8a8a"/><rect y="11.6" fill="#e97c7c"/><rect y="13.2" fill="#f0a2a2"/><rect y="14.8" fill="#e77171"/><rect y="16.4" fill="#e76f6f"/><rect y="18.0" fill="#ed9292"/><rect y="19.6" fill="#e77171"/><rect y="21.2" fill="#f6ecee"/><rect y="22.8" fill="#eb8686"/><rect y="24.4" fill="#e97d7d"/><rect y="26.0" fill="#e35d5e"/><rect y="27.6" fill="#dd494a"/><rect y="29.2" fill="#e77272"/><rect y="30.9" fill="#f2afaf"/><rect y="32.5" fill="#dd4b4c"/><rect y="34.1" fill="#ee9797"/><rect y="35.7" fill="#f0a2a2"/><rect y="37.3" fill="#de4d4f"/><rect y="38.9" fill="#dc4648"/><rect y="40.5" fill="#f3b5b5"/><rect y="42.1" fill="#dc4547"/><rect y="43.7" fill="#f4c0c0"/><rect y="45.3" fill="#ea7f7f"/><rect y="46.9" fill="#f6eef1"/><rect y="48.5" fill="#e66c6c"/><rect y="50.1" fill="#ea7e7e"/><rect y="51.7" fill="#f2b0b0"/><rect y="53.3" fill="#d83a3d"/><rect y="54.9" fill="#e97a7a"/><rect y="56.5" fill="#f1a7a7"/><rect y="58.1" fill="#ec8989"/><rect y="59.7" fill="#e97c7c"/><rect y="61.3" fill="#f0a3a3"/><rect y="62.9" fill="#e66b6b"/><rect y="64.5" fill="#f1a9a9"/><rect y="66.1" fill="#e97a7a"/><rect y="67.7" fill="#f5dadb"/><rect y="69.3" fill="#f5d4d5"/><rect y="71.0" fill="#ea7e7e"/><rect y="72.6" fill="#f6ecef"/><rect y="74.2" fill="#f6e9eb"/><rect y="75.8" fill="#f2aeae"/><rect y="77.4" fill="#f1acac"/><rect y="79.0" fill="#d93d40"/><rect y="80.6" fill="#de4e4f"/><rect y="82.2" fill="#f2b0b0"/><rect y="83.8" fill="#e66a6a"/><rect y="85.4" fill="#e77272"/><rect y="87.0" fill="#f0a2a2"/><rect y="88.6" fill="#f5c7c7"/><rect y="90.2" fill="#eb8383"/><rect y="91.8" fill="#eb8585"/><rect y="93.4" fill="#e77272"/><rect y="95.0" fill="#ee9797"/><rect y="96.6" fill="#ee9696"/><rect y="98.2" fill="#e15657"/><rect y="99.8" fill="#f0a2a2"/><rect y="101.4" fill="#ee9898"/><rect y="103.0" fill="#f5c5c5"/><rect y="104.6" fill="#ed9191"/><rect y="106.2" fill="#e97b7b"/><rect y="107.8" fill="#ef9b9b"/><rect y="109.4" fill="#e66c6c"/><rect y="111.1" fill="#f0a6a6"/><rect y="112.7" fill="#ec8c8c"/><rect y="114.3" fill="#dc4749"/><rect y="115.9" fill="#f6dfe1"/><rect y="117.5" fill="#f6f4f7"/><rect y="119.1" fill="#f6e1e3"/><rect y="120.7" fill="#d3d4ed"/><rect y="122.3" fill="#b4b7e2"/><rect y="123.9" fill="#f6e2e3"/><rect y="125.5" fill="#f6e6e8"/><rect y="127.1" fill="#f3f1f6"/><rect y="128.7" fill="#ddddf0"/><rect y="130.3" fill="#c8caea"/><rect y="131.9" fill="#9498d6"/><rect y="133.5" fill="#b8bbe4"/><rect y="135.1" fill="#d5d6ee"/><rect y="136.7" fill="#f6e6e8"/><rect y="138.3" fill="#dcdcf0"/><rect y="139.9" fill="#a4a8dc"/><rect y="141.5" fill="#f6f1f4"/><rect y="143.1" fill="#a3a7db"/><rect y="144.7" fill="#ebeaf4"/><rect y="146.3" fill="#b5b8e2"/><rect y="147.9" fill="#ebeaf4"/><rect y="149.5" fill="#f6ecee"/><rect y="151.2" fill="#f6f3f6"/><rect y="152.8" fill="#b5b8e2"/><rect y="154.4" fill="#edebf4"/><rect y="156.0" fill="#c4c6e8"/><rect y="157.6" fill="#f5d9da"/><rect y="159.2" fill="#d7d7ee"/><rect y="160.8" fill="#ddddf0"/><rect y="162.4" fill="#f6f2f5"/><rect y="164.0" fill="#c4c6e8"/><rect y="165.6" fill="#c1c3e7"/><rect y="167.2" fill="#f5d1d1"/><rect y="168.8" fill="#979cd7"/><rect y="170.4" fill="#bfc1e6"/><rect y="172.0" fill="#f6e8ea"/><rect y="173.6" fill="#f5d9da"/><rect y="175.2" fill="#dedef0"/><rect y="176.8" fill="#9da1d9"/><rect y="178.4" fill="#bfc2e7"/><rect y="180.0" fill="#e7e6f3"/><rect y="181.6" fill="#d0d1ec"/><rect y="183.2" fill="#f6f3f6"/><rect y="184.8" fill="#f4f2f6"/><rect y="186.4" fill="#bec0e6"/><rect y="188.0" fill="#b3b6e1"/><rect y="189.6" fill="#f6f4f7"/><rect y="191.3" fill="#d6d7ee"/><rect y="192.9" fill="#f6e6e8"/><rect y="194.5" fill="#f6f0f3"/><rect y="196.1" fill="#dadaef"/><rect y="197.7" fill="#b4b7e2"/><rect y="199.3" fill="#b3b6e1"/><rect y="200.9" fill="#d2d3ed"/><rect y="202.5" fill="#a7aadd"/><rect y="204.1" fill="#f1a8a8"/><rect y="205.7" fill="#7f84cf"/><rect y="207.3" fill="#7178c9"/><rect y="208.9" fill="#5e67be"/><rect y="210.5" fill="#9fa3d9"/><rect y="212.1" fill="#8288d0"/><rect y="213.7" fill="#8e93d4"/><rect y="215.3" fill="#797fcd"/><rect y="216.9" fill="#8e92d4"/><rect y="218.5" fill="#676fc4"/><rect y="220.1" fill="#6a71c5"/><rect y="221.7" fill="#7f85cf"/><rect y="223.3" fill="#9da1d9"/><rect y="224.9" fill="#6f76c8"/><rect y="226.5" fill="#6f76c8"/><rect y="228.1" fill="#9fa3da"/><rect y="229.7" fill="#7c81ce"/><rect y="231.4" fill="#8d92d4"/><rect y="233.0" fill="#747acb"/><rect y="234.6" fill="#858ad1"/><rect y="236.2" fill="#aaaede"/><rect y="237.8" fill="#8e93d4"/><rect y="239.4" fill="#7e84cf"/><rect y="241.0" fill="#747bcb"/><rect y="242.6" fill="#a9acdd"/><rect y="244.2" fill="#8287d0"/><rect y="245.8" fill="#878cd2"/><rect y="247.4" fill="#8f94d4"/><rect y="249.0" fill="#787ecd"/><rect y="250.6" fill="#737acb"/><rect y="252.2" fill="#8f94d4"/><rect y="253.8" fill="#9195d5"/><rect y="255.4" fill="#a8acdd"/><rect y="257.0" fill="#9ea2d9"/><rect y="258.6" fill="#868bd1"/><rect y="260.2" fill="#8d92d3"/><rect y="261.8" fill="#7c82ce"/><rect y="263.4" fill="#999dd7"/><rect y="265.0" fill="#8a8fd2"/><rect y="266.6" fill="#9398d6"/><rect y="268.2" fill="#848ad1"/><rect y="269.8" fill="#9195d5"/><rect y="271.5" fill="#787ecd"/><rect y="273.1" fill="#7076c8"/><rect y="274.7" fill="#8d92d3"/><rect y="276.3" fill="#8f94d4"/><rect y="277.9" fill="#9196d5"/><rect y="279.5" fill="#9296d5"/><rect y="281.1" fill="#9499d6"/><rect y="282.7" fill="#8187d0"/><rect y="284.3" fill="#858ad1"/><rect y="285.9" fill="#8a8fd2"/><rect y="287.5" fill="#868bd1"/><rect y="289.1" fill="#7e83cf"/><rect y="290.7" fill="#888dd2"/><rect y="292.3" fill="#9ea2d9"/><rect y="293.9" fill="#8e93d4"/><rect y="295.5" fill="#7379ca"/><rect y="297.1" fill="#8f94d4"/><rect y="298.7" fill="#979bd7"/><rect y="300.3" fill="#7f85cf"/><rect y="301.9" fill="#787ecd"/><rect y="303.5" fill="#767ccc"/><rect y="305.1" fill="#7d83ce"/><rect y="306.7" fill="#6169c0"/><rect y="308.3" fill="#646cc2"/><rect y="309.9" fill="#9095d4"/><rect y="311.6" fill="#a8acdd"/><rect y="313.2" fill="#9398d6"/><rect y="314.8" fill="#9195d5"/><rect y="316.4" fill="#a2a6db"/><rect y="318.0" fill="#999dd7"/><rect y="319.6" fill="#8287d0"/><rect y="321.2" fill="#9ca0d8"/><rect y="322.8" fill="#b1b4e1"/><rect y="324.4" fill="#9599d6"/><rect y="326.0" fill="#a1a5da"/><rect y="327.6" fill="#898ed2"/><rect y="329.2" fill="#858ad1"/><rect y="330.8" fill="#959ad6"/><rect y="332.4" fill="#888dd2"/><rect y="334.0" fill="#7d82ce"/><rect y="335.6" fill="#8e93d4"/><rect y="337.2" fill="#9296d5"/><rect y="338.8" fill="#888dd2"/><rect y="340.4" fill="#aeb1df"/><rect y="342.0" fill="#9ba0d8"/><rect y="343.6" fill="#abaede"/><rect y="345.2" fill="#7f84cf"/><rect y="346.8" fill="#7f85cf"/><rect y="348.4" fill="#787ecd"/><rect y="350.0" fill="#8186cf"/><rect y="351.7" fill="#9498d6"/><rect y="353.3" fill="#9da1d9"/><rect y="354.9" fill="#a9acdd"/><rect y="356.5" fill="#a4a7db"/><rect y="358.1" fill="#858ad1"/><rect y="359.7" fill="#7f84cf"/><rect y="361.3" fill="#9196d5"/><rect y="362.9" fill="#979cd7"/><rect y="364.5" fill="#9095d5"/><rect y="366.1" fill="#7d83ce"/><rect y="367.7" fill="#888dd2"/><rect y="369.3" fill="#747acb"/><rect y="370.9" fill="#525db7"/><rect y="372.5" fill="#767ccc"/><rect y="374.1" fill="#9398d6"/><rect y="375.7" fill="#7b81ce"/><rect y="377.3" fill="#a0a4da"/><rect y="378.9" fill="#7e83ce"/><rect y="380.5" fill="#626bc1"/><rect y="382.1" fill="#8186cf"/><rect y="383.7" fill="#9195d5"/><rect y="385.3" fill="#6a71c5"/><rect y="386.9" fill="#5a64bc"/><rect y="388.5" fill="#777ccc"/><rect y="390.1" fill="#7b81ce"/><rect y="391.8" fill="#7a80cd"/><rect y="393.4" fill="#8186cf"/><rect y="395.0" fill="#999dd7"/><rect y="396.6" fill="#6a72c5"/><rect y="398.2" fill="#a4a8dc"/><rect y="399.8" fill="#9da1d9"/><rect y="401.4" fill="#7b81ce"/><rect y="403.0" fill="#8e92d4"/><rect y="404.6" fill="#9498d6"/><rect y="406.2" fill="#9397d5"/><rect y="407.8" fill="#6971c5"/><rect y="409.4" fill="#646cc1"/></g><g transform="translate(71.40,0)"><rect y="10.0" fill="#d3d4ed"/><rect y="11.6" fill="#edecf5"/><rect y="13.2" fill="#f5d7d8"/><rect y="14.8" fill="#bcbfe5"/><rect y="16.4" fill="#d3d4ed"/><rect y="18.0" fill="#d6d7ee"/><rect y="19.6" fill="#e9e8f3"/><rect y="21.2" fill="#efeef5"/><rect y="22.8" fill="#eae9f4"/><rect y="24.4" fill="#e8e7f3"/><rect y="26.0" fill="#f6f1f4"/><rect y="27.6" fill="#f6dcde"/><rect y="29.2" fill="#c8caea"/><rect y="30.9" fill="#999ed8"/><rect y="32.5" fill="#8a8fd3"/><rect y="34.1" fill="#f6eaed"/><rect y="35.7" fill="#d0d1ec"/><rect y="37.3" fill="#f6eff2"/><rect y="38.9" fill="#babce4"/><rect y="40.5" fill="#c9cbea"/><rect y="42.1" fill="#dcdcf0"/><rect y="43.7" fill="#c8caea"/><rect y="45.3" fill="#f6e9eb"/><rect y="46.9" fill="#e2e2f1"/><rect y="48.5" fill="#d1d2ed"/><rect y="50.1" fill="#f6f2f4"/><rect y="51.7" fill="#e7e7f3"/><rect y="53.3" fill="#efedf5"/><rect y="54.9" fill="#b5b8e2"/><rect y="56.5" fill="#7a80cd"/><rect y="58.1" fill="#cfd1ec"/><rect y="59.7" fill="#f6edef"/><rect y="61.3" fill="#e4e3f2"/><rect y="62.9" fill="#f5dbdc"/><rect y="64.5" fill="#f6dcde"/><rect y="66.1" fill="#f6e5e7"/><rect y="67.7" fill="#edecf4"/><rect y="69.3" fill="#dbdcef"/><rect y="71.0" fill="#cecfec"/><rect y="72.6" fill="#bec0e6"/><rect y="74.2" fill="#bec0e6"/><rect y="75.8" fill="#c3c5e8"/><rect y="77.4" fill="#d6d7ee"/><rect y="79.0" fill="#f6f1f4"/><rect y="80.6" fill="#e2e2f1"/><rect y="82.2" fill="#f6eef1"/><rect y="83.8" fill="#dedef0"/><rect y="85.4" fill="#ee9696"/><rect y="87.0" fill="#dedef0"/><rect y="88.6" fill="#d7d8ee"/><rect y="90.2" fill="#f4bdbd"/><rect y="91.8" fill="#f0eff5"/><rect y="93.4" fill="#d2d3ed"/><rect y="95.0" fill="#b9bce4"/><rect y="96.6" fill="#cdcfeb"/><rect y="98.2" fill="#ddddf0"/><rect y="99.8" fill="#f5dbdd"/><rect y="101.4" fill="#efedf5"/><rect y="103.0" fill="#e1e1f1"/><rect y="104.6" fill="#dfdff1"/><rect y="106.2" fill="#f3b7b7"/><rect y="107.8" fill="#d1d2ed"/><rect y="109.4" fill="#f6e9eb"/><rect y="111.1" fill="#f6e2e3"/><rect y="112.7" fill="#cdceeb"/><rect y="114.3" fill="#f5cbcb"/><rect y="115.9" fill="#d5d6ee"/><rect y="117.5" fill="#f6ebed"/><rect y="119.1" fill="#f5cece"/><rect y="120.7" fill="#f5c7c7"/><rect y="122.3" fill="#f3baba"/><rect y="123.9" fill="#f5d7d8"/><rect y="125.5" fill="#e97b7b"/><rect y="127.1" fill="#f4c0c0"/><rect y="128.7" fill="#f4bebe"/><rect y="130.3" fill="#e46060"/><rect y="131.9" fill="#e87575"/><rect y="133.5" fill="#f0a4a4"/><rect y="135.1" fill="#f3b5b5"/><rect y="136.7" fill="#f5d4d5"/><rect y="138.3" fill="#f6e4e6"/><rect y="139.9" fill="#f5c2c2"/><rect y="141.5" fill="#f1abab"/><rect y="143.1" fill="#f0a0a0"/><rect y="144.7" fill="#f2b2b2"/><rect y="146.3" fill="#ef9999"/><rect y="147.9" fill="#f5c3c3"/><rect y="149.5" fill="#edecf5"/><rect y="151.2" fill="#f5dbdd"/><rect y="152.8" fill="#f5c7c7"/><rect y="154.4" fill="#f4c0c0"/><rect y="156.0" fill="#f0a0a0"/><rect y="157.6" fill="#f4bfbf"/><rect y="159.2" fill="#f5d0d0"/><rect y="160.8" fill="#d2d3ed"/><rect y="162.4" fill="#f6e3e5"/><rect y="164.0" fill="#f5c7c8"/><rect y="165.6" fill="#b3b6e1"/><rect y="167.2" fill="#f4bbbb"/><rect y="168.8" fill="#f5d8da"/><rect y="170.4" fill="#f6e5e7"/><rect y="172.0" fill="#e5e5f2"/><rect y="173.6" fill="#d7d8ee"/><rect y="175.2" fill="#c8caea"/><rect y="176.8" fill="#ee9797"/><rect y="178.4" fill="#dfdff1"/><rect y="180.0" fill="#f6f4f7"/><rect y="181.6" fill="#ef9e9e"/><rect y="183.2" fill="#f5dbdc"/><rect y="184.8" fill="#ecebf4"/><rect y="186.4" fill="#edecf4"/><rect y="188.0" fill="#f6e4e6"/><rect y="189.6" fill="#dedef0"/><rect y="191.3" fill="#f6e0e2"/><rect y="192.9" fill="#d4d5ed"/><rect y="194.5" fill="#f5d7d8"/><rect y="196.1" fill="#f5d0d0"/><rect y="197.7" fill="#f6e6e8"/><rect y="199.3" fill="#f5c6c6"/><rect y="200.9" fill="#f6eff2"/><rect y="202.5" fill="#f6e8eb"/><rect y="204.1" fill="#f2f0f6"/><rect y="205.7" fill="#ee9696"/><rect y="207.3" fill="#f5d1d1"/><rect y="208.9" fill="#f0eef5"/><rect y="210.5" fill="#d4d5ed"/><rect y="212.1" fill="#f3f1f6"/><rect y="213.7" fill="#e2e1f1"/><rect y="215.3" fill="#ef9d9d"/><rect y="216.9" fill="#f3f2f6"/><rect y="218.5" fill="#e8e8f3"/><rect y="220.1" fill="#f4bdbd"/><rect y="221.7" fill="#f5dadb"/><rect y="223.3" fill="#f3b6b6"/><rect y="224.9" fill="#f6eef0"/><rect y="226.5" fill="#f5c2c2"/><rect y="228.1" fill="#eb8686"/><rect y="229.7" fill="#f0a6a6"/><rect y="231.4" fill="#f5d4d5"/><rect y="233.0" fill="#f3b9b9"/><rect y="234.6" fill="#d9daef"/><rect y="236.2" fill="#f5d8d9"/><rect y="237.8" fill="#f6e5e7"/><rect y="239.4" fill="#ef9d9d"/><rect y="241.0" fill="#efeef5"/><rect y="242.6" fill="#f6dfe1"/><rect y="244.2" fill="#f5c7c7"/><rect y="245.8" fill="#f6f1f4"/><rect y="247.4" fill="#f6ddde"/><rect y="249.0" fill="#f6f0f3"/><rect y="250.6" fill="#f5d6d7"/><rect y="252.2" fill="#f3f1f6"/><rect y="253.8" fill="#ef9b9b"/><rect y="255.4" fill="#f0a5a5"/><rect y="257.0" fill="#f5d3d4"/><rect y="258.6" fill="#f6e4e6"/><rect y="260.2" fill="#d1d2ed"/><rect y="261.8" fill="#f4bcbc"/><rect y="263.4" fill="#d9daef"/><rect y="265.0" fill="#edecf4"/><rect y="266.6" fill="#f6eaec"/><rect y="268.2" fill="#f6e7e9"/><rect y="269.8" fill="#dadaef"/><rect y="271.5" fill="#c0c2e7"/><rect y="273.1" fill="#f1acac"/><rect y="274.7" fill="#f3b8b8"/><rect y="276.3" fill="#ebeaf4"/><rect y="277.9" fill="#f5d9da"/><rect y="279.5" fill="#f5cbcb"/><rect y="281.1" fill="#ccceeb"/><rect y="282.7" fill="#f6e3e5"/><rect y="284.3" fill="#f6e2e4"/><rect y="285.9" fill="#f6e2e4"/><rect y="287.5" fill="#e8e7f3"/><rect y="289.1" fill="#f3f2f6"/><rect y="290.7" fill="#f4bebe"/><rect y="292.3" fill="#f6e9eb"/><rect y="293.9" fill="#d6d7ee"/><rect y="295.5" fill="#f6e5e7"/><rect y="297.1" fill="#f6f4f7"/><rect y="298.7" fill="#bfc2e7"/><rect y="300.3" fill="#eb8484"/><rect y="301.9" fill="#dbdbef"/><rect y="303.5" fill="#f6eff2"/><rect y="305.1" fill="#d1d2ec"/><rect y="306.7" fill="#caccea"/><rect y="308.3" fill="#c6c8e9"/><rect y="309.9" fill="#f5d8d9"/><rect y="311.6" fill="#f3b6b6"/><rect y="313.2" fill="#f6ddde"/><rect y="314.8" fill="#e56666"/><rect y="316.4" fill="#f1eff5"/><rect y="318.0" fill="#f5dcdd"/><rect y="319.6" fill="#ed9191"/><rect y="321.2" fill="#f3b7b7"/><rect y="322.8" fill="#f2aeae"/><rect y="324.4" fill="#f6dcde"/><rect y="326.0" fill="#f3b6b6"/><rect y="327.6" fill="#f5c1c1"/><rect y="329.2" fill="#f6e4e6"/><rect y="330.8" fill="#f4baba"/><rect y="332.4" fill="#e2e1f1"/><rect y="334.0" fill="#ef9c9c"/><rect y="335.6" fill="#f5cdce"/><rect y="337.2" fill="#f2b3b3"/><rect y="338.8" fill="#f5cecf"/><rect y="340.4" fill="#f5cbcc"/><rect y="342.0" fill="#e2e2f1"/><rect y="343.6" fill="#efeef5"/><rect y="345.2" fill="#f5c2c2"/><rect y="346.8" fill="#f5d9db"/><rect y="348.4" fill="#ef9d9d"/><rect y="350.0" fill="#d9daef"/><rect y="351.7" fill="#e6e6f3"/><rect y="353.3" fill="#e2e1f1"/><rect y="354.9" fill="#f6e2e4"/><rect y="356.5" fill="#f5cece"/><rect y="358.1" fill="#ee9595"/><rect y="359.7" fill="#f6f3f6"/><rect y="361.3" fill="#eeecf5"/><rect y="362.9" fill="#d6d7ee"/><rect y="364.5" fill="#b1b4e1"/><rect y="366.1" fill="#f0a0a0"/><rect y="367.7" fill="#f5c3c3"/><rect y="369.3" fill="#f6eaed"/><rect y="370.9" fill="#d9d9ef"/><rect y="372.5" fill="#babde4"/><rect y="374.1" fill="#f6eaec"/><rect y="375.7" fill="#f6e7e9"/><rect y="377.3" fill="#bdbfe6"/><rect y="378.9" fill="#e3e3f2"/><rect y="380.5" fill="#e8e8f3"/><rect y="382.1" fill="#d9d9ef"/><rect y="383.7" fill="#f4bebe"/><rect y="385.3" fill="#edecf5"/><rect y="386.9" fill="#f5f3f7"/><rect y="388.5" fill="#f6e0e1"/><rect y="390.1" fill="#f6dddf"/><rect y="391.8" fill="#b3b6e1"/><rect y="393.4" fill="#ed9292"/><rect y="395.0" fill="#f4f2f7"/><rect y="396.6" fill="#f5cbcc"/><rect y="398.2" fill="#f6e5e7"/><rect y="399.8" fill="#d6d7ee"/><rect y="401.4" fill="#f6f1f4"/><rect y="403.0" fill="#f5d3d4"/><rect y="404.6" fill="#f1adad"/><rect y="406.2" fill="#c4c6e8"/><rect y="407.8" fill="#c7c9e9"/><rect y="409.4" fill="#f5d9da"/></g><g transform="translate(78.60,0)"><rect y="10.0" fill="#f3b5b5"/><rect y="11.6" fill="#f3b6b6"/><rect y="13.2" fill="#e87676"/><rect y="14.8" fill="#ee9999"/><rect y="16.4" fill="#f5d8d9"/><rect y="18.0" fill="#f5c5c5"/><rect y="19.6" fill="#f3b5b5"/><rect y="21.2" fill="#e66b6b"/><rect y="22.8" fill="#f3b5b5"/><rect y="24.4" fill="#f6e2e4"/><rect y="26.0" fill="#ef9a9a"/><rect y="27.6" fill="#f6f1f4"/><rect y="29.2" fill="#f2aeae"/><rect y="30.9" fill="#f5c9c9"/><rect y="32.5" fill="#f2f0f6"/><rect y="34.1" fill="#e76d6d"/><rect y="35.7" fill="#ced0ec"/><rect y="37.3" fill="#f4bbbb"/><rect y="38.9" fill="#f6f1f4"/><rect y="40.5" fill="#f4bcbc"/><rect y="42.1" fill="#f1aaaa"/><rect y="43.7" fill="#f2b2b2"/><rect y="45.3" fill="#f5d1d1"/><rect y="46.9" fill="#f6e3e4"/><rect y="48.5" fill="#cbcdeb"/><rect y="50.1" fill="#f6e8ea"/><rect y="51.7" fill="#f5d7d8"/><rect y="53.3" fill="#f1a9a9"/><rect y="54.9" fill="#e3e3f2"/><rect y="56.5" fill="#d8d8ee"/><rect y="58.1" fill="#f6f3f5"/><rect y="59.7" fill="#f6e2e4"/><rect y="61.3" fill="#e4e4f2"/><rect y="62.9" fill="#efeef5"/><rect y="64.5" fill="#e87575"/><rect y="66.1" fill="#f5d1d2"/><rect y="67.7" fill="#f4bdbd"/><rect y="69.3" fill="#f6eff1"/><rect y="71.0" fill="#ebeaf4"/><rect y="72.6" fill="#f6f0f3"/><rect y="74.2" fill="#f4f3f7"/><rect y="75.8" fill="#e1e0f1"/><rect y="77.4" fill="#d8d8ee"/><rect y="79.0" fill="#f3b9b9"/><rect y="80.6" fill="#f6e5e7"/><rect y="82.2" fill="#f6e6e8"/><rect y="83.8" fill="#f6e6e8"/><rect y="85.4" fill="#f5c2c2"/><rect y="87.0" fill="#f6e5e7"/><rect y="88.6" fill="#f6e6e9"/><rect y="90.2" fill="#ef9a9a"/><rect y="91.8" fill="#f3b9b9"/><rect y="93.4" fill="#f5d1d2"/><rect y="95.0" fill="#f4bcbc"/><rect y="96.6" fill="#dfdff1"/><rect y="98.2" fill="#f4f2f6"/><rect y="99.8" fill="#f6f1f4"/><rect y="101.4" fill="#f4c1c1"/><rect y="103.0" fill="#f5dadb"/><rect y="104.6" fill="#f5d6d7"/><rect y="106.2" fill="#f6eef0"/><rect y="107.8" fill="#f5d9da"/><rect y="109.4" fill="#f6ecee"/><rect y="111.1" fill="#f5c4c4"/><rect y="112.7" fill="#f5c7c8"/><rect y="114.3" fill="#eeedf5"/><rect y="115.9" fill="#f6ecef"/><rect y="117.5" fill="#e97d7d"/><rect y="119.1" fill="#f5cccc"/><rect y="120.7" fill="#f2b2b2"/><rect y="122.3" fill="#f5c7c7"/><rect y="123.9" fill="#eeedf5"/><rect y="125.5" fill="#e87878"/><rect y="127.1" fill="#f6edf0"/><rect y="128.7" fill="#e35d5d"/><rect y="130.3" fill="#f0a2a2"/><rect y="131.9" fill="#eb8484"/><rect y="133.5" fill="#ef9b9b"/><rect y="135.1" fill="#f5cdce"/><rect y="136.7" fill="#e4e3f2"/><rect y="138.3" fill="#f2b1b1"/><rect y="139.9" fill="#f1adad"/><rect y="141.5" fill="#f5d6d7"/><rect y="143.1" fill="#e66b6b"/><rect y="144.7" fill="#f5d1d2"/><rect y="146.3" fill="#ea8181"/><rect y="147.9" fill="#f1acac"/><rect y="149.5" fill="#f6eff2"/><rect y="151.2" fill="#f6f1f4"/><rect y="152.8" fill="#f5d5d6"/><rect y="154.4" fill="#f5d4d5"/><rect y="156.0" fill="#f6e6e8"/><rect y="157.6" fill="#f6ddde"/><rect y="159.2" fill="#dcdcf0"/><rect y="160.8" fill="#e3e3f2"/><rect y="162.4" fill="#c2c4e7"/><rect y="164.0" fill="#f4bdbd"/><rect y="165.6" fill="#9498d6"/><rect y="167.2" fill="#f6f2f4"/><rect y="168.8" fill="#c6c8e9"/><rect y="170.4" fill="#d5d6ee"/><rect y="172.0" fill="#dadaef"/><rect y="173.6" fill="#b9bbe4"/><rect y="175.2" fill="#cecfec"/><rect y="176.8" fill="#f5cacb"/><rect y="178.4" fill="#abafde"/><rect y="180.0" fill="#a3a7db"/><rect y="181.6" fill="#f5cccd"/><rect y="183.2" fill="#eeedf5"/><rect y="184.8" fill="#afb2e0"/><rect y="186.4" fill="#c6c8e9"/><rect y="188.0" fill="#b5b8e2"/><rect y="189.6" fill="#8c91d3"/><rect y="191.3" fill="#c5c7e9"/><rect y="192.9" fill="#ced0ec"/><rect y="194.5" fill="#ebeaf4"/><rect y="196.1" fill="#f5cfd0"/><rect y="197.7" fill="#f6e0e2"/><rect y="199.3" fill="#dadbef"/><rect y="200.9" fill="#f6ecee"/><rect y="202.5" fill="#e3e3f2"/><rect y="204.1" fill="#e3e3f2"/><rect y="205.7" fill="#ec8d8d"/><rect y="207.3" fill="#f5d1d1"/><rect y="208.9" fill="#f6e3e5"/><rect y="210.5" fill="#dfdff1"/><rect y="212.1" fill="#f6f4f7"/><rect y="213.7" fill="#c3c5e8"/><rect y="215.3" fill="#f4bfbf"/><rect y="216.9" fill="#cacceb"/><rect y="218.5" fill="#cfd0ec"/><rect y="220.1" fill="#f6e6e8"/><rect y="221.7" fill="#dadaef"/><rect y="223.3" fill="#f5dcdd"/><rect y="224.9" fill="#e0dff1"/><rect y="226.5" fill="#f6e5e7"/><rect y="228.1" fill="#ed9292"/><rect y="229.7" fill="#f6e3e5"/><rect y="231.4" fill="#f1abab"/><rect y="233.0" fill="#f6f2f5"/><rect y="234.6" fill="#e5e5f2"/><rect y="236.2" fill="#d9daef"/><rect y="237.8" fill="#f6eef0"/><rect y="239.4" fill="#f3b6b6"/><rect y="241.0" fill="#e8e7f3"/><rect y="242.6" fill="#f4f2f6"/><rect y="244.2" fill="#f3b4b4"/><rect y="245.8" fill="#f6e9eb"/><rect y="247.4" fill="#b8bbe4"/><rect y="249.0" fill="#f5f3f7"/><rect y="250.6" fill="#f6e5e7"/><rect y="252.2" fill="#e8e7f3"/><rect y="253.8" fill="#f0a1a1"/><rect y="255.4" fill="#f0a4a4"/><rect y="257.0" fill="#f6ecee"/><rect y="258.6" fill="#f6f0f3"/><rect y="260.2" fill="#dbdbef"/><rect y="261.8" fill="#e4e3f2"/><rect y="263.4" fill="#f5d6d7"/><rect y="265.0" fill="#f3b5b5"/><rect y="266.6" fill="#f6dee0"/><rect y="268.2" fill="#f6ebee"/><rect y="269.8" fill="#eeedf5"/><rect y="271.5" fill="#f5c8c9"/><rect y="273.1" fill="#f4bcbc"/><rect y="274.7" fill="#f5c1c1"/><rect y="276.3" fill="#e5e5f2"/><rect y="277.9" fill="#f5d5d6"/><rect y="279.5" fill="#f1adad"/><rect y="281.1" fill="#d4d5ed"/><rect y="282.7" fill="#f5cacb"/><rect y="284.3" fill="#f0a1a1"/><rect y="285.9" fill="#dfdff0"/><rect y="287.5" fill="#c5c7e9"/><rect y="289.1" fill="#e5e5f2"/><rect y="290.7" fill="#f2b3b3"/><rect y="292.3" fill="#f6ecef"/><rect y="293.9" fill="#f5dadc"/><rect y="295.5" fill="#e3e3f2"/><rect y="297.1" fill="#f6e3e4"/><rect y="298.7" fill="#cdceeb"/><rect y="300.3" fill="#ee9999"/><rect y="301.9" fill="#ecebf4"/><rect y="303.5" fill="#f6edef"/><rect y="305.1" fill="#f6f2f5"/><rect y="306.7" fill="#f5cccd"/><rect y="308.3" fill="#f5d6d7"/><rect y="309.9" fill="#f3b9b9"/><rect y="311.6" fill="#f3b6b6"/><rect y="313.2" fill="#ee9494"/><rect y="314.8" fill="#ee9898"/><rect y="316.4" fill="#f3b5b5"/><rect y="318.0" fill="#f0a4a4"/><rect y="319.6" fill="#f5d7d9"/><rect y="321.2" fill="#f5d2d3"/><rect y="322.8" fill="#ea7e7e"/><rect y="324.4" fill="#f5d1d2"/><rect y="326.0" fill="#e97d7d"/><rect y="327.6" fill="#f6f2f5"/><rect y="329.2" fill="#f6e3e5"/><rect y="330.8" fill="#ee9898"/><rect y="332.4" fill="#f3b5b5"/><rect y="334.0" fill="#f5cccd"/><rect y="335.6" fill="#ef9a9a"/><rect y="337.2" fill="#f2aeae"/><rect y="338.8" fill="#f3b6b6"/><rect y="340.4" fill="#e9e8f3"/><rect y="342.0" fill="#f6ebed"/><rect y="343.6" fill="#efeef5"/><rect y="345.2" fill="#f6dddf"/><rect y="346.8" fill="#f1aaaa"/><rect y="348.4" fill="#f5c2c2"/><rect y="350.0" fill="#f3b6b6"/><rect y="351.7" fill="#f6ecee"/><rect y="353.3" fill="#f5d9da"/><rect y="354.9" fill="#f4bcbc"/><rect y="356.5" fill="#f5d6d7"/><rect y="358.1" fill="#f5c2c2"/><rect y="359.7" fill="#edecf4"/><rect y="361.3" fill="#dbdbef"/><rect y="362.9" fill="#f6eaec"/><rect y="364.5" fill="#ddddf0"/><rect y="366.1" fill="#f6e0e2"/><rect y="367.7" fill="#f1a8a8"/><rect y="369.3" fill="#f5cdce"/><rect y="370.9" fill="#cdceeb"/><rect y="372.5" fill="#afb2e0"/><rect y="374.1" fill="#f6dedf"/><rect y="375.7" fill="#dcdcf0"/><rect y="377.3" fill="#f6edef"/><rect y="378.9" fill="#f4f2f6"/><rect y="380.5" fill="#f4f2f6"/><rect y="382.1" fill="#c4c6e8"/><rect y="383.7" fill="#f1eff6"/><rect y="385.3" fill="#bfc2e6"/><rect y="386.9" fill="#d1d2ed"/><rect y="388.5" fill="#e3e2f2"/><rect y="390.1" fill="#e0e0f1"/><rect y="391.8" fill="#a8abdd"/><rect y="393.4" fill="#f2b0b0"/><rect y="395.0" fill="#c2c4e8"/><rect y="396.6" fill="#f3b7b7"/><rect y="398.2" fill="#f1aaaa"/><rect y="399.8" fill="#d7d8ee"/><rect y="401.4" fill="#f5cdcd"/><rect y="403.0" fill="#f6dedf"/><rect y="404.6" fill="#f5dadb"/><rect y="406.2" fill="#ebeaf4"/><rect y="407.8" fill="#dfdff1"/><rect y="409.4" fill="#f4baba"/></g></g>
<rect x="93.50" y="9.60" width="7.80" height="5.59" fill="#d02226"/>
<rect x="93.50" y="15.09" width="7.80" height="5.59" fill="#d63336"/>
<rect x="93.50" y="20.58" width="7.80" height="5.59" fill="#db4547"/>
<rect x="93.50" y="26.07" width="7.80" height="5.59" fill="#e15657"/>
<rect x="93.50" y="31.56" width="7.80" height="5.59" fill="#e66d6d"/>
<rect x="93.50" y="37.05" width="7.80" height="5.59" fill="#ec8888"/>
<rect x="93.50" y="42.54" width="7.80" height="5.59" fill="#f0a2a2"/>
<rect x="93.50" y="48.03" width="7.80" height="5.59" fill="#f3b8b8"/>
<rect x="93.50" y="53.52" width="7.80" height="5.59" fill="#f5d0d1"/>
<rect x="93.50" y="59.01" width="7.80" height="5.59" fill="#f6e8ea"/>
<rect x="93.50" y="64.50" width="7.80" height="5.59" fill="#eaeaf4"/>
<rect x="93.50" y="69.99" width="7.80" height="5.59" fill="#d4d4ed"/>
<rect x="93.50" y="75.48" width="7.80" height="5.59" fill="#bec0e6"/>
<rect x="93.50" y="80.97" width="7.80" height="5.59" fill="#a8acdd"/>
<rect x="93.50" y="86.46" width="7.80" height="5.59" fill="#9498d6"/>
<rect x="93.50" y="91.95" width="7.80" height="5.59" fill="#8086cf"/>
<rect x="93.50" y="97.44" width="7.80" height="5.59" fill="#6e75c7"/>
<rect x="93.50" y="102.93" width="7.80" height="5.59" fill="#5c66bd"/>
<rect x="93.50" y="108.42" width="7.80" height="5.59" fill="#4c57b4"/>
<rect x="93.50" y="113.91" width="7.80" height="5.59" fill="#3a48aa"/>
<text x="111.6" y="24.7" font-size="7" text-anchor="end">2</text>
<text x="111.6" y="47.0" font-size="7" text-anchor="end">1</text>
<text x="111.6" y="68.9" font-size="7" text-anchor="end">0</text>
<text x="111.6" y="91.0" font-size="7" text-anchor="end">-1</text>
<text x="111.6" y="113.0" font-size="7" text-anchor="end">-2</text>
<text transform="translate(28.0,415.2) rotate(90)" font-size="6.25" style="stroke-width:0.2px">WT 57 -2A</text>
<text transform="translate(36.5,415.2) rotate(90)" font-size="6.25" style="stroke-width:0.2px">WT 57 -2B</text>
<text transform="translate(43.1,415.2) rotate(90)" font-size="6.25" style="stroke-width:0.2px">HET 23</text>
<text transform="translate(51.1,415.2) rotate(90)" font-size="6.25" style="stroke-width:0.2px">HET 26</text>
<text transform="translate(58.8,415.2) rotate(90)" font-size="6.25" style="stroke-width:0.2px">KO 55-3</text>
<text transform="translate(65.5,415.2) rotate(90)" font-size="6.25" style="stroke-width:0.2px">KO 55-7</text>
<text transform="translate(73.1,415.2) rotate(90)" font-size="6.25" style="stroke-width:0.2px">IK6 GFP3-5</text>
<text transform="translate(81.3,415.2) rotate(90)" font-size="6.25" style="stroke-width:0.2px">IK6 GFP4-1</text>
<text x="8" y="16.4" font-size="11.8" font-weight="bold">A</text>
<text x="125.6" y="16.4" font-size="11" font-weight="bold">B</text>
<text x="8.5" y="467.5" font-size="11.4" font-weight="bold">C</text>
<text x="335" y="19.1" font-size="8.8" font-weight="bold" text-anchor="middle">IK6 vs WT</text>
<line x1="325.00" y1="27.90" x2="325.00" y2="341.60" stroke="#222" stroke-width="1.35" stroke-dasharray="2.8 3.7" stroke-dashoffset="1.3"/>
<line x1="357.50" y1="27.90" x2="357.50" y2="341.60" stroke="#222" stroke-width="1.35" stroke-dasharray="2.8 3.7" stroke-dashoffset="1.3"/>
<line x1="159.60" y1="243.0" x2="510.80" y2="243.0" stroke="#3a3a3a" stroke-width="1.35" stroke-dasharray="2.6 3.76" stroke-dashoffset="-0.24"/>
<g fill="#d71920">
<rect x="318.7" y="36.5" width="3.2" height="3.2"/>
<rect x="317.6" y="122.6" width="3.2" height="3.2"/>
<rect x="318.9" y="135.4" width="3.2" height="3.2"/>
<rect x="310.5" y="137.7" width="3.2" height="3.2"/>
<rect x="293.0" y="139.6" width="3.2" height="3.2"/>
<rect x="317.4" y="143.6" width="3.2" height="3.2"/>
<rect x="288.1" y="155.4" width="3.2" height="3.2"/>
<rect x="259.7" y="170.2" width="3.2" height="3.2"/>
<rect x="284.0" y="192.5" width="3.2" height="3.2"/>
<rect x="279.7" y="219.9" width="3.2" height="3.2"/>
<rect x="292.0" y="239.6" width="3.2" height="3.2"/>
<rect x="309.8" y="157.5" width="3.2" height="3.2"/>
<rect x="315.9" y="155.3" width="3.2" height="3.2"/>
<rect x="321.1" y="161.5" width="3.2" height="3.2"/>
<rect x="321.3" y="163.4" width="3.2" height="3.2"/>
<rect x="314.9" y="163.4" width="3.2" height="3.2"/>
<rect x="315.5" y="165.7" width="3.2" height="3.2"/>
<rect x="305.7" y="164.9" width="3.2" height="3.2"/>
<rect x="319.0" y="167.6" width="3.2" height="3.2"/>
<rect x="321.3" y="166.7" width="3.2" height="3.2"/>
<rect x="303.4" y="169.2" width="3.2" height="3.2"/>
<rect x="304.9" y="173.0" width="3.2" height="3.2"/>
<rect x="312.9" y="174.9" width="3.2" height="3.2"/>
<rect x="317.0" y="174.9" width="3.2" height="3.2"/>
<rect x="320.7" y="173.6" width="3.2" height="3.2"/>
<rect x="319.6" y="176.4" width="3.2" height="3.2"/>
<rect x="312.2" y="180.7" width="3.2" height="3.2"/>
<rect x="319.2" y="179.9" width="3.2" height="3.2"/>
<rect x="321.5" y="180.7" width="3.2" height="3.2"/>
<rect x="300.7" y="183.4" width="3.2" height="3.2"/>
<rect x="306.9" y="182.2" width="3.2" height="3.2"/>
<rect x="313.4" y="183.4" width="3.2" height="3.2"/>
<rect x="319.2" y="184.9" width="3.2" height="3.2"/>
<rect x="321.9" y="183.0" width="3.2" height="3.2"/>
<rect x="308.8" y="190.7" width="3.2" height="3.2"/>
<rect x="312.2" y="191.9" width="3.2" height="3.2"/>
<rect x="314.2" y="191.5" width="3.2" height="3.2"/>
<rect x="321.1" y="193.0" width="3.2" height="3.2"/>
<rect x="311.5" y="196.5" width="3.2" height="3.2"/>
<rect x="316.9" y="196.1" width="3.2" height="3.2"/>
<rect x="303.4" y="197.6" width="3.2" height="3.2"/>
<rect x="318.0" y="198.0" width="3.2" height="3.2"/>
<rect x="300.3" y="201.9" width="3.2" height="3.2"/>
<rect x="308.8" y="202.2" width="3.2" height="3.2"/>
<rect x="313.0" y="202.6" width="3.2" height="3.2"/>
<rect x="314.9" y="203.0" width="3.2" height="3.2"/>
<rect x="319.6" y="202.2" width="3.2" height="3.2"/>
<rect x="321.9" y="201.1" width="3.2" height="3.2"/>
<rect x="321.5" y="204.2" width="3.2" height="3.2"/>
<rect x="312.6" y="207.2" width="3.2" height="3.2"/>
<rect x="320.3" y="207.2" width="3.2" height="3.2"/>
<rect x="306.9" y="209.6" width="3.2" height="3.2"/>
<rect x="304.2" y="211.5" width="3.2" height="3.2"/>
<rect x="314.2" y="211.5" width="3.2" height="3.2"/>
<rect x="318.4" y="210.3" width="3.2" height="3.2"/>
<rect x="321.5" y="211.5" width="3.2" height="3.2"/>
<rect x="305.7" y="217.6" width="3.2" height="3.2"/>
<rect x="306.5" y="230.7" width="3.2" height="3.2"/>
<rect x="299.9" y="235.7" width="3.2" height="3.2"/>
<rect x="300.3" y="239.2" width="3.2" height="3.2"/>
<rect x="308.8" y="234.6" width="3.2" height="3.2"/>
<rect x="357.8" y="88.5" width="3.2" height="3.2"/>
<rect x="362.8" y="110.0" width="3.2" height="3.2"/>
<rect x="360.9" y="116.1" width="3.2" height="3.2"/>
<rect x="366.3" y="114.7" width="3.2" height="3.2"/>
<rect x="389.4" y="106.0" width="3.2" height="3.2"/>
<rect x="396.2" y="110.0" width="3.2" height="3.2"/>
<rect x="414.1" y="136.2" width="3.2" height="3.2"/>
<rect x="355.9" y="149.6" width="3.2" height="3.2"/>
<rect x="362.0" y="148.6" width="3.2" height="3.2"/>
<rect x="357.6" y="159.7" width="3.2" height="3.2"/>
<rect x="361.9" y="171.9" width="3.2" height="3.2"/>
<rect x="360.6" y="173.4" width="3.2" height="3.2"/>
<rect x="356.1" y="176.1" width="3.2" height="3.2"/>
<rect x="356.1" y="179.2" width="3.2" height="3.2"/>
<rect x="365.7" y="178.4" width="3.2" height="3.2"/>
<rect x="367.6" y="178.4" width="3.2" height="3.2"/>
<rect x="368.6" y="183.2" width="3.2" height="3.2"/>
<rect x="377.6" y="190.2" width="3.2" height="3.2"/>
<rect x="359.9" y="189.2" width="3.2" height="3.2"/>
<rect x="363.0" y="189.6" width="3.2" height="3.2"/>
<rect x="358.4" y="191.9" width="3.2" height="3.2"/>
<rect x="361.4" y="191.4" width="3.2" height="3.2"/>
<rect x="388.9" y="160.7" width="3.2" height="3.2"/>
<rect x="397.9" y="164.1" width="3.2" height="3.2"/>
<rect x="369.1" y="183.1" width="3.2" height="3.2"/>
<rect x="385.9" y="195.2" width="3.2" height="3.2"/>
<rect x="372.4" y="202.4" width="3.2" height="3.2"/>
<rect x="377.1" y="202.0" width="3.2" height="3.2"/>
<rect x="413.5" y="210.3" width="3.2" height="3.2"/>
<rect x="386.6" y="222.5" width="3.2" height="3.2"/>
<rect x="381.5" y="240.0" width="3.2" height="3.2"/>
<rect x="362.6" y="204.6" width="3.2" height="3.2"/>
<rect x="368.8" y="209.6" width="3.2" height="3.2"/>
<rect x="373.0" y="208.8" width="3.2" height="3.2"/>
<rect x="375.7" y="208.0" width="3.2" height="3.2"/>
<rect x="378.0" y="208.8" width="3.2" height="3.2"/>
<rect x="380.3" y="210.3" width="3.2" height="3.2"/>
<rect x="371.5" y="212.2" width="3.2" height="3.2"/>
<rect x="373.8" y="213.8" width="3.2" height="3.2"/>
<rect x="379.9" y="212.2" width="3.2" height="3.2"/>
<rect x="382.2" y="214.6" width="3.2" height="3.2"/>
<rect x="374.9" y="216.9" width="3.2" height="3.2"/>
<rect x="368.8" y="217.2" width="3.2" height="3.2"/>
<rect x="364.9" y="216.1" width="3.2" height="3.2"/>
<rect x="379.9" y="218.4" width="3.2" height="3.2"/>
<rect x="369.2" y="221.5" width="3.2" height="3.2"/>
<rect x="377.6" y="223.4" width="3.2" height="3.2"/>
<rect x="381.5" y="221.9" width="3.2" height="3.2"/>
<rect x="386.1" y="222.2" width="3.2" height="3.2"/>
<rect x="366.9" y="226.5" width="3.2" height="3.2"/>
<rect x="365.3" y="225.3" width="3.2" height="3.2"/>
<rect x="366.5" y="226.5" width="3.2" height="3.2"/>
<rect x="372.2" y="234.2" width="3.2" height="3.2"/>
<rect x="371.5" y="235.3" width="3.2" height="3.2"/>
<rect x="369.2" y="221.1" width="3.2" height="3.2"/>
<rect x="370.7" y="219.6" width="3.2" height="3.2"/>
<rect x="374.9" y="216.5" width="3.2" height="3.2"/>
<rect x="381.5" y="222.2" width="3.2" height="3.2"/>
<rect x="315.5" y="218.5" width="3.2" height="3.2"/>
<rect x="313.5" y="214.8" width="3.2" height="3.2"/>
<rect x="320.5" y="234.4" width="3.2" height="3.2"/>
<rect x="321.2" y="212.9" width="3.2" height="3.2"/>
<rect x="318.9" y="220.9" width="3.2" height="3.2"/>
<rect x="318.4" y="227.5" width="3.2" height="3.2"/>
<rect x="314.8" y="239.9" width="3.2" height="3.2"/>
<rect x="311.4" y="233.3" width="3.2" height="3.2"/>
<rect x="320.6" y="226.3" width="3.2" height="3.2"/>
<rect x="317.8" y="240.5" width="3.2" height="3.2"/>
<rect x="313.9" y="229.8" width="3.2" height="3.2"/>
<rect x="319.4" y="222.5" width="3.2" height="3.2"/>
<rect x="319.1" y="222.9" width="3.2" height="3.2"/>
<rect x="317.1" y="229.4" width="3.2" height="3.2"/>
<rect x="318.7" y="220.8" width="3.2" height="3.2"/>
<rect x="318.2" y="227.3" width="3.2" height="3.2"/>
<rect x="313.8" y="229.3" width="3.2" height="3.2"/>
<rect x="314.3" y="238.0" width="3.2" height="3.2"/>
<rect x="316.5" y="232.5" width="3.2" height="3.2"/>
<rect x="317.0" y="225.4" width="3.2" height="3.2"/>
<rect x="313.8" y="215.6" width="3.2" height="3.2"/>
<rect x="321.4" y="226.9" width="3.2" height="3.2"/>
<rect x="317.1" y="226.9" width="3.2" height="3.2"/>
<rect x="320.2" y="218.4" width="3.2" height="3.2"/>
<rect x="313.3" y="235.5" width="3.2" height="3.2"/>
<rect x="316.4" y="230.2" width="3.2" height="3.2"/>
<rect x="320.3" y="237.6" width="3.2" height="3.2"/>
<rect x="320.8" y="212.7" width="3.2" height="3.2"/>
<rect x="315.5" y="235.8" width="3.2" height="3.2"/>
<rect x="320.2" y="215.0" width="3.2" height="3.2"/>
<rect x="313.1" y="218.8" width="3.2" height="3.2"/>
<rect x="312.5" y="221.8" width="3.2" height="3.2"/>
<rect x="320.1" y="226.7" width="3.2" height="3.2"/>
<rect x="316.3" y="214.0" width="3.2" height="3.2"/>
<rect x="315.7" y="240.6" width="3.2" height="3.2"/>
<rect x="318.9" y="224.6" width="3.2" height="3.2"/>
<rect x="316.6" y="234.8" width="3.2" height="3.2"/>
<rect x="319.6" y="215.8" width="3.2" height="3.2"/>
<rect x="318.7" y="222.2" width="3.2" height="3.2"/>
<rect x="317.0" y="218.4" width="3.2" height="3.2"/>
<rect x="315.4" y="221.4" width="3.2" height="3.2"/>
<rect x="315.5" y="211.9" width="3.2" height="3.2"/>
<rect x="313.6" y="228.1" width="3.2" height="3.2"/>
<rect x="312.0" y="216.6" width="3.2" height="3.2"/>
<rect x="319.2" y="219.4" width="3.2" height="3.2"/>
<rect x="313.2" y="227.6" width="3.2" height="3.2"/>
<rect x="320.0" y="225.0" width="3.2" height="3.2"/>
<rect x="317.4" y="238.3" width="3.2" height="3.2"/>
<rect x="311.6" y="230.7" width="3.2" height="3.2"/>
<rect x="319.4" y="234.1" width="3.2" height="3.2"/>
<rect x="313.8" y="224.2" width="3.2" height="3.2"/>
<rect x="314.8" y="229.8" width="3.2" height="3.2"/>
<rect x="318.4" y="228.5" width="3.2" height="3.2"/>
<rect x="314.3" y="234.6" width="3.2" height="3.2"/>
<rect x="319.7" y="229.5" width="3.2" height="3.2"/>
<rect x="314.0" y="233.4" width="3.2" height="3.2"/>
<rect x="321.2" y="226.7" width="3.2" height="3.2"/>
<rect x="321.8" y="235.7" width="3.2" height="3.2"/>
<rect x="313.9" y="234.9" width="3.2" height="3.2"/>
<rect x="313.3" y="224.6" width="3.2" height="3.2"/>
<rect x="319.0" y="230.0" width="3.2" height="3.2"/>
<rect x="315.9" y="232.0" width="3.2" height="3.2"/>
<rect x="320.9" y="236.5" width="3.2" height="3.2"/>
<rect x="309.2" y="233.7" width="3.2" height="3.2"/>
<rect x="315.1" y="231.4" width="3.2" height="3.2"/>
<rect x="320.1" y="230.6" width="3.2" height="3.2"/>
<rect x="315.2" y="238.8" width="3.2" height="3.2"/>
<rect x="314.7" y="231.9" width="3.2" height="3.2"/>
<rect x="315.7" y="237.7" width="3.2" height="3.2"/>
<rect x="317.8" y="236.2" width="3.2" height="3.2"/>
<rect x="314.2" y="224.1" width="3.2" height="3.2"/>
<rect x="317.9" y="233.0" width="3.2" height="3.2"/>
<rect x="319.1" y="236.7" width="3.2" height="3.2"/>
<rect x="310.5" y="227.2" width="3.2" height="3.2"/>
<rect x="309.9" y="237.5" width="3.2" height="3.2"/>
<rect x="310.3" y="224.9" width="3.2" height="3.2"/>
<rect x="318.9" y="233.2" width="3.2" height="3.2"/>
<rect x="309.6" y="235.2" width="3.2" height="3.2"/>
<rect x="318.4" y="231.8" width="3.2" height="3.2"/>
<rect x="309.6" y="235.4" width="3.2" height="3.2"/>
<rect x="314.5" y="233.5" width="3.2" height="3.2"/>
<rect x="322.2" y="237.5" width="3.2" height="3.2"/>
<rect x="320.5" y="225.9" width="3.2" height="3.2"/>
<rect x="313.3" y="232.4" width="3.2" height="3.2"/>
<rect x="309.0" y="240.5" width="3.2" height="3.2"/>
<rect x="312.6" y="227.9" width="3.2" height="3.2"/>
<rect x="313.1" y="227.8" width="3.2" height="3.2"/>
<rect x="320.3" y="233.0" width="3.2" height="3.2"/>
<rect x="315.7" y="230.7" width="3.2" height="3.2"/>
<rect x="309.6" y="228.7" width="3.2" height="3.2"/>
<rect x="320.4" y="237.3" width="3.2" height="3.2"/>
<rect x="320.3" y="227.8" width="3.2" height="3.2"/>
<rect x="311.6" y="224.3" width="3.2" height="3.2"/>
<rect x="316.0" y="229.9" width="3.2" height="3.2"/>
<rect x="315.1" y="231.9" width="3.2" height="3.2"/>
<rect x="316.7" y="229.7" width="3.2" height="3.2"/>
<rect x="319.6" y="226.9" width="3.2" height="3.2"/>
<rect x="321.1" y="233.0" width="3.2" height="3.2"/>
<rect x="309.6" y="228.8" width="3.2" height="3.2"/>
<rect x="316.0" y="230.5" width="3.2" height="3.2"/>
<rect x="318.8" y="202.6" width="3.2" height="3.2"/>
<rect x="316.5" y="208.7" width="3.2" height="3.2"/>
<rect x="316.7" y="207.6" width="3.2" height="3.2"/>
<rect x="320.7" y="206.1" width="3.2" height="3.2"/>
<rect x="317.9" y="210.6" width="3.2" height="3.2"/>
<rect x="317.9" y="209.8" width="3.2" height="3.2"/>
<rect x="314.9" y="204.0" width="3.2" height="3.2"/>
<rect x="319.4" y="199.0" width="3.2" height="3.2"/>
<rect x="362.0" y="194.0" width="3.2" height="3.2"/>
<rect x="360.2" y="199.5" width="3.2" height="3.2"/>
<rect x="362.4" y="218.6" width="3.2" height="3.2"/>
<rect x="361.6" y="215.5" width="3.2" height="3.2"/>
<rect x="360.7" y="224.4" width="3.2" height="3.2"/>
<rect x="358.2" y="201.0" width="3.2" height="3.2"/>
<rect x="361.8" y="197.7" width="3.2" height="3.2"/>
<rect x="362.4" y="200.8" width="3.2" height="3.2"/>
<rect x="357.0" y="195.2" width="3.2" height="3.2"/>
<rect x="361.5" y="238.2" width="3.2" height="3.2"/>
<rect x="359.0" y="223.5" width="3.2" height="3.2"/>
<rect x="358.0" y="236.0" width="3.2" height="3.2"/>
<rect x="360.8" y="198.2" width="3.2" height="3.2"/>
<rect x="356.7" y="225.4" width="3.2" height="3.2"/>
<rect x="356.6" y="232.5" width="3.2" height="3.2"/>
<rect x="358.2" y="202.1" width="3.2" height="3.2"/>
<rect x="360.1" y="206.4" width="3.2" height="3.2"/>
<rect x="360.0" y="198.1" width="3.2" height="3.2"/>
<rect x="362.3" y="206.7" width="3.2" height="3.2"/>
<rect x="361.9" y="198.0" width="3.2" height="3.2"/>
<rect x="361.6" y="239.7" width="3.2" height="3.2"/>
<rect x="358.9" y="192.1" width="3.2" height="3.2"/>
<rect x="358.8" y="222.6" width="3.2" height="3.2"/>
<rect x="357.8" y="217.8" width="3.2" height="3.2"/>
<rect x="356.9" y="213.8" width="3.2" height="3.2"/>
<rect x="361.1" y="212.0" width="3.2" height="3.2"/>
<rect x="360.8" y="196.2" width="3.2" height="3.2"/>
<rect x="361.8" y="196.5" width="3.2" height="3.2"/>
<rect x="362.4" y="240.5" width="3.2" height="3.2"/>
<rect x="362.5" y="216.9" width="3.2" height="3.2"/>
<rect x="358.2" y="207.9" width="3.2" height="3.2"/>
<rect x="361.3" y="215.4" width="3.2" height="3.2"/>
<rect x="362.4" y="195.1" width="3.2" height="3.2"/>
<rect x="359.5" y="233.9" width="3.2" height="3.2"/>
<rect x="360.2" y="217.6" width="3.2" height="3.2"/>
<rect x="356.9" y="197.4" width="3.2" height="3.2"/>
<rect x="358.1" y="235.3" width="3.2" height="3.2"/>
<rect x="361.9" y="201.8" width="3.2" height="3.2"/>
<rect x="362.4" y="192.0" width="3.2" height="3.2"/>
<rect x="360.3" y="239.1" width="3.2" height="3.2"/>
<rect x="358.6" y="237.9" width="3.2" height="3.2"/>
<rect x="360.6" y="192.9" width="3.2" height="3.2"/>
<rect x="358.5" y="213.0" width="3.2" height="3.2"/>
<rect x="357.9" y="227.7" width="3.2" height="3.2"/>
<rect x="357.5" y="230.0" width="3.2" height="3.2"/>
<rect x="358.3" y="193.9" width="3.2" height="3.2"/>
<rect x="360.0" y="195.2" width="3.2" height="3.2"/>
<rect x="359.9" y="230.0" width="3.2" height="3.2"/>
<rect x="360.2" y="213.6" width="3.2" height="3.2"/>
<rect x="356.5" y="216.2" width="3.2" height="3.2"/>
<rect x="356.9" y="222.9" width="3.2" height="3.2"/>
<rect x="357.2" y="219.5" width="3.2" height="3.2"/>
<rect x="358.6" y="209.2" width="3.2" height="3.2"/>
<rect x="360.7" y="198.6" width="3.2" height="3.2"/>
<rect x="357.4" y="237.8" width="3.2" height="3.2"/>
<rect x="359.8" y="239.1" width="3.2" height="3.2"/>
<rect x="365.6" y="235.3" width="3.2" height="3.2"/>
<rect x="357.9" y="231.4" width="3.2" height="3.2"/>
<rect x="365.6" y="231.6" width="3.2" height="3.2"/>
<rect x="361.6" y="235.9" width="3.2" height="3.2"/>
<rect x="357.5" y="235.2" width="3.2" height="3.2"/>
<rect x="358.0" y="235.9" width="3.2" height="3.2"/>
<rect x="361.7" y="234.2" width="3.2" height="3.2"/>
<rect x="358.4" y="234.6" width="3.2" height="3.2"/>
<rect x="358.5" y="231.7" width="3.2" height="3.2"/>
<rect x="358.8" y="239.4" width="3.2" height="3.2"/>
<rect x="361.6" y="239.6" width="3.2" height="3.2"/>
<rect x="356.5" y="240.1" width="3.2" height="3.2"/>
<rect x="361.5" y="238.5" width="3.2" height="3.2"/>
<rect x="362.3" y="237.5" width="3.2" height="3.2"/>
<rect x="358.7" y="238.1" width="3.2" height="3.2"/>
<rect x="357.9" y="233.1" width="3.2" height="3.2"/>
<rect x="356.6" y="234.5" width="3.2" height="3.2"/>
<rect x="361.8" y="233.4" width="3.2" height="3.2"/>
<rect x="365.7" y="231.3" width="3.2" height="3.2"/>
<rect x="362.4" y="232.8" width="3.2" height="3.2"/>
<rect x="362.6" y="238.5" width="3.2" height="3.2"/>
<rect x="363.8" y="231.0" width="3.2" height="3.2"/>
<rect x="358.9" y="236.6" width="3.2" height="3.2"/>
<rect x="366.7" y="230.8" width="3.2" height="3.2"/>
<rect x="362.9" y="237.5" width="3.2" height="3.2"/>
<rect x="364.9" y="233.9" width="3.2" height="3.2"/>
<rect x="364.9" y="235.2" width="3.2" height="3.2"/>
<rect x="366.1" y="230.5" width="3.2" height="3.2"/>
<rect x="366.3" y="234.6" width="3.2" height="3.2"/>
<rect x="365.0" y="205.8" width="3.2" height="3.2"/>
<rect x="364.4" y="223.2" width="3.2" height="3.2"/>
<rect x="366.1" y="207.5" width="3.2" height="3.2"/>
<rect x="364.8" y="207.2" width="3.2" height="3.2"/>
<rect x="364.2" y="209.3" width="3.2" height="3.2"/>
<rect x="364.7" y="229.8" width="3.2" height="3.2"/>
</g>
<text x="273.7" y="138.9" font-size="6.4" style="fill:#222;stroke:#222">RGMB</text>
<text x="264.0" y="155.9" font-size="6.4" style="fill:#222;stroke:#222">C5orf66</text>
<text x="238.7" y="170.9" font-size="6.4" style="fill:#222;stroke:#222">DAB2IP</text>
<text x="260.3" y="192.3" font-size="6.4" style="fill:#222;stroke:#222">KCNJ12</text>
<text x="253.9" y="217.9" font-size="6.4" style="fill:#2a64a0;stroke:#2a64a0">SAMHD1</text>
<text x="267.0" y="239.4" font-size="6.4" style="fill:#222;stroke:#222">TNNI3K</text>
<text x="393.3" y="106.5" font-size="6.4" style="fill:#222;stroke:#222">EVI2A</text>
<text x="401.8" y="113.0" font-size="6.4" style="fill:#222;stroke:#222">LINC01483</text>
<text x="418.8" y="137.3" font-size="6.4" style="fill:#222;stroke:#222">LILRB1</text>
<text x="393.0" y="159.4" font-size="6.4" style="fill:#222;stroke:#222">CD69</text>
<text x="402.9" y="164.9" font-size="6.4" style="fill:#2a64a0;stroke:#2a64a0">TSC22D3</text>
<text x="381.8" y="188.6" font-size="6.4" style="fill:#222;stroke:#222">PPP1R15A</text>
<text x="391.8" y="194.3" font-size="6.4" style="fill:#222;stroke:#222">ZSCAN18</text>
<text x="374.0" y="199.3" font-size="6.4" style="fill:#222;stroke:#222">DDIT4</text>
<text x="381.4" y="204.8" font-size="6.4" style="fill:#222;stroke:#222">NCF2</text>
<text x="385.5" y="210.2" font-size="6.4" style="fill:#222;stroke:#222">TOX2</text>
<text x="385.5" y="214.6" font-size="6.4" style="fill:#222;stroke:#222">RAPGEF4</text>
<text x="418.2" y="210.8" font-size="6.4" style="fill:#222;stroke:#222">CDC42EP6</text>
<text x="385.1" y="219.6" font-size="6.4" style="fill:#222;stroke:#222">FAM134B</text>
<text x="391.3" y="225.1" font-size="6.4" style="fill:#222;stroke:#222">CD300LF</text>
<text x="385.9" y="230.2" font-size="6.4" style="fill:#222;stroke:#222">ZNF816</text>
<text x="377.0" y="235.1" font-size="6.4" style="fill:#222;stroke:#222">DAPP1</text>
<text x="385.1" y="240.8" font-size="6.4" style="fill:#222;stroke:#222">INHBE</text>
<path d="M159.6 27.9 H510.8 V341.6 H159.6 Z" fill="none" stroke="#000" stroke-width="1.4"/>
<line x1="155.3" y1="266.2" x2="159.6" y2="266.2" stroke="#000" stroke-width="1.2"/>
<text transform="translate(153.5,266.2) rotate(-90)" font-size="7.2" text-anchor="middle">1</text>
<line x1="155.3" y1="190.8" x2="159.6" y2="190.8" stroke="#000" stroke-width="1.2"/>
<text transform="translate(153.5,190.8) rotate(-90)" font-size="7.2" text-anchor="middle">2</text>
<line x1="155.3" y1="115.4" x2="159.6" y2="115.4" stroke="#000" stroke-width="1.2"/>
<text transform="translate(153.5,115.4) rotate(-90)" font-size="7.2" text-anchor="middle">3</text>
<line x1="155.3" y1="40.0" x2="159.6" y2="40.0" stroke="#000" stroke-width="1.2"/>
<text transform="translate(153.5,40.0) rotate(-90)" font-size="7.2" text-anchor="middle">4</text>
<line x1="180.3" y1="341.6" x2="180.3" y2="346.3" stroke="#000" stroke-width="1.2"/>
<text transform="translate(180.3,355.5) scale(0.95,1)" font-size="7.3" text-anchor="middle">-10</text>
<line x1="260.8" y1="341.6" x2="260.8" y2="346.3" stroke="#000" stroke-width="1.2"/>
<text transform="translate(260.8,355.5) scale(0.95,1)" font-size="7.3" text-anchor="middle">-5</text>
<line x1="341.4" y1="341.6" x2="341.4" y2="346.3" stroke="#000" stroke-width="1.2"/>
<text transform="translate(341.4,355.5) scale(0.95,1)" font-size="7.3" text-anchor="middle">0</text>
<line x1="421.9" y1="341.6" x2="421.9" y2="346.3" stroke="#000" stroke-width="1.2"/>
<text transform="translate(421.9,355.5) scale(0.95,1)" font-size="7.3" text-anchor="middle">5</text>
<line x1="502.5" y1="341.6" x2="502.5" y2="346.3" stroke="#000" stroke-width="1.2"/>
<text transform="translate(502.5,355.5) scale(0.95,1)" font-size="7.3" text-anchor="middle">10</text>
<text transform="translate(335.2,370) scale(0.73,1)" font-size="9.4" text-anchor="middle" style="stroke-width:0.3px">Log2(IK6/WT)</text>
<text transform="translate(138.4,190.5) rotate(-90) scale(0.8,1)" font-size="8.5" text-anchor="middle" style="stroke-width:0.3px">-log10(P-value)</text>
<line x1="35.4" y1="483.2" x2="35.4" y2="666.6" stroke="#c4c4c4" stroke-width="1.1"/>
<line x1="50.2" y1="483.2" x2="50.2" y2="666.6" stroke="#c4c4c4" stroke-width="1.1"/>
<line x1="51.9" y1="483.2" x2="51.9" y2="666.6" stroke="#c4c4c4" stroke-width="1.1"/>
<line x1="53.6" y1="483.2" x2="53.6" y2="666.6" stroke="#c4c4c4" stroke-width="1.1"/>
<line x1="69.4" y1="483.2" x2="69.4" y2="666.6" stroke="#c4c4c4" stroke-width="1.1"/>
<line x1="98.6" y1="483.2" x2="98.6" y2="666.6" stroke="#c4c4c4" stroke-width="1.1"/>
<line x1="122.8" y1="483.2" x2="122.8" y2="666.6" stroke="#c4c4c4" stroke-width="1.1"/>
<line x1="142.6" y1="483.2" x2="142.6" y2="666.6" stroke="#c4c4c4" stroke-width="1.1"/>
<line x1="157.7" y1="483.2" x2="157.7" y2="666.6" stroke="#c4c4c4" stroke-width="1.1"/>
<line x1="159.2" y1="483.2" x2="159.2" y2="666.6" stroke="#c4c4c4" stroke-width="1.1"/>
<line x1="161.0" y1="483.2" x2="161.0" y2="666.6" stroke="#c4c4c4" stroke-width="1.1"/>
<line x1="176.5" y1="483.2" x2="176.5" y2="666.6" stroke="#c4c4c4" stroke-width="1.1"/>
<line x1="205.9" y1="483.2" x2="205.9" y2="666.6" stroke="#c4c4c4" stroke-width="1.1"/>
<line x1="230.7" y1="483.2" x2="230.7" y2="666.6" stroke="#c4c4c4" stroke-width="1.1"/>
<line x1="248.3" y1="483.2" x2="248.3" y2="666.6" stroke="#c4c4c4" stroke-width="1.1"/>
<line x1="263.8" y1="483.2" x2="263.8" y2="666.6" stroke="#c4c4c4" stroke-width="1.1"/>
<line x1="265.5" y1="483.2" x2="265.5" y2="666.6" stroke="#c4c4c4" stroke-width="1.1"/>
<line x1="267.1" y1="483.2" x2="267.1" y2="666.6" stroke="#c4c4c4" stroke-width="1.1"/>
<line x1="282.6" y1="483.2" x2="282.6" y2="666.6" stroke="#c4c4c4" stroke-width="1.1"/>
<line x1="312.9" y1="483.2" x2="312.9" y2="666.6" stroke="#c4c4c4" stroke-width="1.1"/>
<line x1="336.3" y1="483.2" x2="336.3" y2="666.6" stroke="#c4c4c4" stroke-width="1.1"/>
<line x1="361.0" y1="483.2" x2="361.0" y2="666.6" stroke="#c4c4c4" stroke-width="1.1"/>
<line x1="375.9" y1="483.2" x2="375.9" y2="666.6" stroke="#c4c4c4" stroke-width="1.1"/>
<line x1="378.1" y1="483.2" x2="378.1" y2="666.6" stroke="#c4c4c4" stroke-width="1.1"/>
<line x1="380.4" y1="483.2" x2="380.4" y2="666.6" stroke="#c4c4c4" stroke-width="1.1"/>
<line x1="395.0" y1="483.2" x2="395.0" y2="666.6" stroke="#c4c4c4" stroke-width="1.1"/>
<line x1="424.5" y1="483.2" x2="424.5" y2="666.6" stroke="#c4c4c4" stroke-width="1.1"/>
<line x1="448.7" y1="483.2" x2="448.7" y2="666.6" stroke="#c4c4c4" stroke-width="1.1"/>
<path d="M29.1 520.1L29.1 520.1L29.8 520.1L30.5 520.1L31.2 520.1L31.9 520.1L32.6 520.1L33.3 520.1L34.0 520.1L34.7 520.1L35.4 520.1L36.1 520.1L36.8 520.1L37.5 520.1L38.2 520.1L38.9 520.1L39.6 520.1L40.3 520.1L41.0 520.1L41.7 520.1L42.5 520.1L43.2 520.1L43.9 520.1L44.6 520.1L45.3 520.1L46.0 520.1L46.7 520.1L47.4 520.1L48.1 520.1L48.8 520.1L49.5 520.1L50.2 520.1L50.9 520.1L51.6 520.1L52.3 520.1L53.0 520.1L53.7 520.1L54.4 520.1L55.1 520.1L55.8 520.1L56.5 520.1L57.2 520.1L57.9 520.1L58.6 520.1L59.3 520.1L60.0 520.1L60.7 520.1L61.4 520.1L62.1 520.1L62.8 520.1L63.5 520.1L64.2 520.1L64.9 520.1L65.6 520.1L66.3 520.1L67.0 520.1L67.7 520.1L68.5 520.1L69.2 520.1L69.9 520.1L70.6 520.1L71.3 520.1L72.0 520.1L72.7 520.1L73.4 520.1L74.1 520.1L74.8 520.0L75.5 520.0L76.2 520.0L76.9 520.0L77.6 520.0L78.3 519.9L79.0 519.9L79.7 519.9L80.4 519.8L81.1 519.8L81.8 519.7L82.5 519.7L83.2 519.6L83.9 519.5L84.6 519.4L85.3 519.3L86.0 519.2L86.7 519.1L87.4 519.0L88.1 518.8L88.8 518.6L89.5 518.5L90.2 518.3L90.9 518.1L91.6 517.8L92.3 517.5L93.0 517.1L93.7 516.6L94.4 516.0L95.2 515.2L95.9 514.2L96.6 512.8L97.3 511.1L98.0 509.1L98.7 506.6L99.4 503.9L100.1 500.8L100.8 497.6L101.5 494.5L102.2 491.6L102.9 489.1L103.6 487.4L104.3 486.4L105.0 486.4L105.7 487.5L106.4 489.8L107.1 493.0L107.8 496.7L108.5 500.7L109.2 504.6L109.9 508.2L110.6 511.3L111.3 513.8L112.0 515.8L112.7 517.3L113.4 518.3L114.1 519.0L114.8 519.5L115.5 519.7L116.2 519.9L116.9 520.0L117.6 520.0L118.3 520.1L119.0 520.1L119.7 520.1L120.4 520.1L121.2 520.1L121.9 520.1L122.6 520.1L123.3 520.1L124.0 520.1L124.7 520.1L125.4 520.1L126.1 520.1L126.8 520.1L127.5 520.1L128.2 520.1L128.9 520.1L129.6 520.1L130.3 520.1L131.0 520.1L131.7 520.1L132.4 520.1L133.1 520.1L133.8 520.1L133.8 520.1Z" fill="#e8141e" fill-opacity="0.4"/>
<path d="M29.1 520.1L29.8 520.1L30.5 520.1L31.2 520.1L31.9 520.1L32.6 520.1L33.3 520.1L34.0 520.1L34.7 520.1L35.4 520.1L36.1 520.1L36.8 520.1L37.5 520.1L38.2 520.1L38.9 520.1L39.6 520.1L40.3 520.1L41.0 520.1L41.7 520.1L42.5 520.1L43.2 520.1L43.9 520.1L44.6 520.1L45.3 520.1L46.0 520.1L46.7 520.1L47.4 520.1L48.1 520.1L48.8 520.1L49.5 520.1L50.2 520.1L50.9 520.1L51.6 520.1L52.3 520.1L53.0 520.1L53.7 520.1L54.4 520.1L55.1 520.1L55.8 520.1L56.5 520.1L57.2 520.1L57.9 520.1L58.6 520.1L59.3 520.1L60.0 520.1L60.7 520.1L61.4 520.1L62.1 520.1L62.8 520.1L63.5 520.1L64.2 520.1L64.9 520.1L65.6 520.1L66.3 520.1L67.0 520.1L67.7 520.1L68.5 520.1L69.2 520.1L69.9 520.1L70.6 520.1L71.3 520.1L72.0 520.1L72.7 520.1L73.4 520.1L74.1 520.1L74.8 520.0L75.5 520.0L76.2 520.0L76.9 520.0L77.6 520.0L78.3 519.9L79.0 519.9L79.7 519.9L80.4 519.8L81.1 519.8L81.8 519.7L82.5 519.7L83.2 519.6L83.9 519.5L84.6 519.4L85.3 519.3L86.0 519.2L86.7 519.1L87.4 519.0L88.1 518.8L88.8 518.6L89.5 518.5L90.2 518.3L90.9 518.1L91.6 517.8L92.3 517.5L93.0 517.1L93.7 516.6L94.4 516.0L95.2 515.2L95.9 514.2L96.6 512.8L97.3 511.1L98.0 509.1L98.7 506.6L99.4 503.9L100.1 500.8L100.8 497.6L101.5 494.5L102.2 491.6L102.9 489.1L103.6 487.4L104.3 486.4L105.0 486.4L105.7 487.5L106.4 489.8L107.1 493.0L107.8 496.7L108.5 500.7L109.2 504.6L109.9 508.2L110.6 511.3L111.3 513.8L112.0 515.8L112.7 517.3L113.4 518.3L114.1 519.0L114.8 519.5L115.5 519.7L116.2 519.9L116.9 520.0L117.6 520.0L118.3 520.1L119.0 520.1L119.7 520.1L120.4 520.1L121.2 520.1L121.9 520.1L122.6 520.1L123.3 520.1L124.0 520.1L124.7 520.1L125.4 520.1L126.1 520.1L126.8 520.1L127.5 520.1L128.2 520.1L128.9 520.1L129.6 520.1L130.3 520.1L131.0 520.1L131.7 520.1L132.4 520.1L133.1 520.1L133.8 520.1" fill="none" stroke="#e8141e" stroke-width="1.9" stroke-linejoin="round"/>
<path d="M29.1 556.8L29.1 556.8L29.8 556.8L30.5 556.8L31.2 556.8L31.9 556.8L32.6 556.8L33.3 556.8L34.0 556.8L34.7 556.8L35.4 556.8L36.1 556.8L36.8 556.8L37.5 556.8L38.2 556.8L38.9 556.8L39.6 556.8L40.3 556.8L41.0 556.8L41.7 556.8L42.5 556.8L43.2 556.8L43.9 556.8L44.6 556.8L45.3 556.8L46.0 556.8L46.7 556.8L47.4 556.8L48.1 556.8L48.8 556.8L49.5 556.8L50.2 556.8L50.9 556.8L51.6 556.8L52.3 556.8L53.0 556.8L53.7 556.8L54.4 556.8L55.1 556.8L55.8 556.8L56.5 556.8L57.2 556.8L57.9 556.8L58.6 556.8L59.3 556.8L60.0 556.8L60.7 556.8L61.4 556.8L62.1 556.8L62.8 556.8L63.5 556.8L64.2 556.8L64.9 556.8L65.6 556.8L66.3 556.8L67.0 556.8L67.7 556.8L68.5 556.8L69.2 556.8L69.9 556.8L70.6 556.8L71.3 556.8L72.0 556.8L72.7 556.7L73.4 556.7L74.1 556.7L74.8 556.7L75.5 556.7L76.2 556.6L76.9 556.6L77.6 556.6L78.3 556.5L79.0 556.5L79.7 556.4L80.4 556.4L81.1 556.3L81.8 556.2L82.5 556.1L83.2 556.0L83.9 555.9L84.6 555.8L85.3 555.7L86.0 555.5L86.7 555.4L87.4 555.2L88.1 555.0L88.8 554.8L89.5 554.5L90.2 554.2L90.9 553.9L91.6 553.4L92.3 552.8L93.0 552.0L93.7 551.0L94.4 549.7L95.2 548.1L95.9 546.1L96.6 543.7L97.3 541.0L98.0 538.0L98.7 534.8L99.4 531.6L100.1 528.7L100.8 526.2L101.5 524.3L102.2 523.2L102.9 523.0L103.6 523.9L104.3 526.0L105.0 529.1L105.7 532.8L106.4 536.8L107.1 540.7L107.8 544.4L108.5 547.6L109.2 550.2L109.9 552.2L110.6 553.8L111.3 554.9L112.0 555.6L112.7 556.1L113.4 556.4L114.1 556.6L114.8 556.7L115.5 556.7L116.2 556.8L116.9 556.8L117.6 556.8L118.3 556.8L119.0 556.8L119.7 556.8L120.4 556.8L121.2 556.8L121.9 556.8L122.6 556.8L123.3 556.8L124.0 556.8L124.7 556.8L125.4 556.8L126.1 556.8L126.8 556.8L127.5 556.8L128.2 556.8L128.9 556.8L129.6 556.8L130.3 556.8L131.0 556.8L131.7 556.8L132.4 556.8L133.1 556.8L133.8 556.8L133.8 556.8Z" fill="#f47a1a" fill-opacity="0.4"/>
<path d="M29.1 556.8L29.8 556.8L30.5 556.8L31.2 556.8L31.9 556.8L32.6 556.8L33.3 556.8L34.0 556.8L34.7 556.8L35.4 556.8L36.1 556.8L36.8 556.8L37.5 556.8L38.2 556.8L38.9 556.8L39.6 556.8L40.3 556.8L41.0 556.8L41.7 556.8L42.5 556.8L43.2 556.8L43.9 556.8L44.6 556.8L45.3 556.8L46.0 556.8L46.7 556.8L47.4 556.8L48.1 556.8L48.8 556.8L49.5 556.8L50.2 556.8L50.9 556.8L51.6 556.8L52.3 556.8L53.0 556.8L53.7 556.8L54.4 556.8L55.1 556.8L55.8 556.8L56.5 556.8L57.2 556.8L57.9 556.8L58.6 556.8L59.3 556.8L60.0 556.8L60.7 556.8L61.4 556.8L62.1 556.8L62.8 556.8L63.5 556.8L64.2 556.8L64.9 556.8L65.6 556.8L66.3 556.8L67.0 556.8L67.7 556.8L68.5 556.8L69.2 556.8L69.9 556.8L70.6 556.8L71.3 556.8L72.0 556.8L72.7 556.7L73.4 556.7L74.1 556.7L74.8 556.7L75.5 556.7L76.2 556.6L76.9 556.6L77.6 556.6L78.3 556.5L79.0 556.5L79.7 556.4L80.4 556.4L81.1 556.3L81.8 556.2L82.5 556.1L83.2 556.0L83.9 555.9L84.6 555.8L85.3 555.7L86.0 555.5L86.7 555.4L87.4 555.2L88.1 555.0L88.8 554.8L89.5 554.5L90.2 554.2L90.9 553.9L91.6 553.4L92.3 552.8L93.0 552.0L93.7 551.0L94.4 549.7L95.2 548.1L95.9 546.1L96.6 543.7L97.3 541.0L98.0 538.0L98.7 534.8L99.4 531.6L100.1 528.7L100.8 526.2L101.5 524.3L102.2 523.2L102.9 523.0L103.6 523.9L104.3 526.0L105.0 529.1L105.7 532.8L106.4 536.8L107.1 540.7L107.8 544.4L108.5 547.6L109.2 550.2L109.9 552.2L110.6 553.8L111.3 554.9L112.0 555.6L112.7 556.1L113.4 556.4L114.1 556.6L114.8 556.7L115.5 556.7L116.2 556.8L116.9 556.8L117.6 556.8L118.3 556.8L119.0 556.8L119.7 556.8L120.4 556.8L121.2 556.8L121.9 556.8L122.6 556.8L123.3 556.8L124.0 556.8L124.7 556.8L125.4 556.8L126.1 556.8L126.8 556.8L127.5 556.8L128.2 556.8L128.9 556.8L129.6 556.8L130.3 556.8L131.0 556.8L131.7 556.8L132.4 556.8L133.1 556.8L133.8 556.8" fill="none" stroke="#f47a1a" stroke-width="1.9" stroke-linejoin="round"/>
<path d="M29.1 593.5L29.1 593.5L29.8 593.5L30.5 593.5L31.2 593.5L31.9 593.5L32.6 593.5L33.3 593.5L34.0 593.5L34.7 593.5L35.4 593.5L36.1 593.5L36.8 593.5L37.5 593.5L38.2 593.5L38.9 593.5L39.6 593.5L40.3 593.5L41.0 593.5L41.7 593.5L42.5 593.5L43.2 593.5L43.9 593.5L44.6 593.5L45.3 593.5L46.0 593.5L46.7 593.5L47.4 593.5L48.1 593.5L48.8 593.5L49.5 593.5L50.2 593.5L50.9 593.5L51.6 593.5L52.3 593.5L53.0 593.5L53.7 593.5L54.4 593.5L55.1 593.5L55.8 593.5L56.5 593.5L57.2 593.5L57.9 593.5L58.6 593.5L59.3 593.5L60.0 593.5L60.7 593.5L61.4 593.5L62.1 593.5L62.8 593.5L63.5 593.5L64.2 593.5L64.9 593.5L65.6 593.5L66.3 593.5L67.0 593.5L67.7 593.5L68.5 593.5L69.2 593.5L69.9 593.5L70.6 593.5L71.3 593.5L72.0 593.5L72.7 593.5L73.4 593.5L74.1 593.5L74.8 593.5L75.5 593.5L76.2 593.5L76.9 593.5L77.6 593.5L78.3 593.5L79.0 593.5L79.7 593.4L80.4 593.4L81.1 593.4L81.8 593.4L82.5 593.4L83.2 593.3L83.9 593.3L84.6 593.3L85.3 593.2L86.0 593.2L86.7 593.1L87.4 593.1L88.1 593.0L88.8 592.9L89.5 592.8L90.2 592.7L90.9 592.6L91.6 592.4L92.3 592.3L93.0 592.1L93.7 591.8L94.4 591.5L95.2 591.1L95.9 590.5L96.6 589.7L97.3 588.6L98.0 587.1L98.7 585.2L99.4 582.9L100.1 580.1L100.8 577.0L101.5 573.5L102.2 570.0L102.9 566.7L103.6 563.7L104.3 561.4L105.0 560.0L105.7 559.6L106.4 560.4L107.1 562.1L107.8 564.8L108.5 568.1L109.2 571.8L109.9 575.6L110.6 579.2L111.3 582.4L112.0 585.2L112.7 587.5L113.4 589.3L114.1 590.7L114.8 591.7L115.5 592.3L116.2 592.8L116.9 593.1L117.6 593.3L118.3 593.4L119.0 593.4L119.7 593.5L120.4 593.5L121.2 593.5L121.9 593.5L122.6 593.5L123.3 593.5L124.0 593.5L124.7 593.5L125.4 593.5L126.1 593.5L126.8 593.5L127.5 593.5L128.2 593.5L128.9 593.5L129.6 593.5L130.3 593.5L131.0 593.5L131.7 593.5L132.4 593.5L133.1 593.5L133.8 593.5L133.8 593.5Z" fill="#86c63c" fill-opacity="0.4"/>
<path d="M29.1 593.5L29.8 593.5L30.5 593.5L31.2 593.5L31.9 593.5L32.6 593.5L33.3 593.5L34.0 593.5L34.7 593.5L35.4 593.5L36.1 593.5L36.8 593.5L37.5 593.5L38.2 593.5L38.9 593.5L39.6 593.5L40.3 593.5L41.0 593.5L41.7 593.5L42.5 593.5L43.2 593.5L43.9 593.5L44.6 593.5L45.3 593.5L46.0 593.5L46.7 593.5L47.4 593.5L48.1 593.5L48.8 593.5L49.5 593.5L50.2 593.5L50.9 593.5L51.6 593.5L52.3 593.5L53.0 593.5L53.7 593.5L54.4 593.5L55.1 593.5L55.8 593.5L56.5 593.5L57.2 593.5L57.9 593.5L58.6 593.5L59.3 593.5L60.0 593.5L60.7 593.5L61.4 593.5L62.1 593.5L62.8 593.5L63.5 593.5L64.2 593.5L64.9 593.5L65.6 593.5L66.3 593.5L67.0 593.5L67.7 593.5L68.5 593.5L69.2 593.5L69.9 593.5L70.6 593.5L71.3 593.5L72.0 593.5L72.7 593.5L73.4 593.5L74.1 593.5L74.8 593.5L75.5 593.5L76.2 593.5L76.9 593.5L77.6 593.5L78.3 593.5L79.0 593.5L79.7 593.4L80.4 593.4L81.1 593.4L81.8 593.4L82.5 593.4L83.2 593.3L83.9 593.3L84.6 593.3L85.3 593.2L86.0 593.2L86.7 593.1L87.4 593.1L88.1 593.0L88.8 592.9L89.5 592.8L90.2 592.7L90.9 592.6L91.6 592.4L92.3 592.3L93.0 592.1L93.7 591.8L94.4 591.5L95.2 591.1L95.9 590.5L96.6 589.7L97.3 588.6L98.0 587.1L98.7 585.2L99.4 582.9L100.1 580.1L100.8 577.0L101.5 573.5L102.2 570.0L102.9 566.7L103.6 563.7L104.3 561.4L105.0 560.0L105.7 559.6L106.4 560.4L107.1 562.1L107.8 564.8L108.5 568.1L109.2 571.8L109.9 575.6L110.6 579.2L111.3 582.4L112.0 585.2L112.7 587.5L113.4 589.3L114.1 590.7L114.8 591.7L115.5 592.3L116.2 592.8L116.9 593.1L117.6 593.3L118.3 593.4L119.0 593.4L119.7 593.5L120.4 593.5L121.2 593.5L121.9 593.5L122.6 593.5L123.3 593.5L124.0 593.5L124.7 593.5L125.4 593.5L126.1 593.5L126.8 593.5L127.5 593.5L128.2 593.5L128.9 593.5L129.6 593.5L130.3 593.5L131.0 593.5L131.7 593.5L132.4 593.5L133.1 593.5L133.8 593.5" fill="none" stroke="#86c63c" stroke-width="1.9" stroke-linejoin="round"/>
<path d="M29.1 630.1L29.1 630.1L29.8 630.1L30.5 630.1L31.2 630.1L31.9 630.1L32.6 630.1L33.3 630.1L34.0 630.1L34.7 630.1L35.4 630.1L36.1 630.1L36.8 630.1L37.5 630.1L38.2 630.1L38.9 630.1L39.6 630.1L40.3 630.1L41.0 630.1L41.7 630.1L42.5 630.1L43.2 630.1L43.9 630.1L44.6 630.1L45.3 630.1L46.0 630.1L46.7 630.1L47.4 630.1L48.1 630.1L48.8 630.1L49.5 630.1L50.2 630.1L50.9 630.1L51.6 630.1L52.3 630.1L53.0 630.1L53.7 630.1L54.4 630.1L55.1 630.1L55.8 630.1L56.5 630.1L57.2 630.1L57.9 630.1L58.6 630.1L59.3 630.1L60.0 630.1L60.7 630.1L61.4 630.1L62.1 630.1L62.8 630.1L63.5 630.1L64.2 630.1L64.9 630.1L65.6 630.1L66.3 630.1L67.0 630.1L67.7 630.1L68.5 630.1L69.2 630.1L69.9 630.1L70.6 630.0L71.3 630.0L72.0 630.0L72.7 630.0L73.4 630.0L74.1 630.0L74.8 629.9L75.5 629.9L76.2 629.9L76.9 629.8L77.6 629.8L78.3 629.7L79.0 629.7L79.7 629.6L80.4 629.5L81.1 629.5L81.8 629.4L82.5 629.3L83.2 629.2L83.9 629.1L84.6 628.9L85.3 628.8L86.0 628.7L86.7 628.5L87.4 628.3L88.1 628.2L88.8 628.0L89.5 627.8L90.2 627.5L90.9 627.2L91.6 626.9L92.3 626.5L93.0 625.9L93.7 625.2L94.4 624.2L95.2 623.0L95.9 621.4L96.6 619.5L97.3 617.2L98.0 614.5L98.7 611.5L99.4 608.4L100.1 605.2L100.8 602.2L101.5 599.6L102.2 597.6L102.9 596.4L103.6 596.1L104.3 596.8L105.0 598.7L105.7 601.5L106.4 605.0L107.1 608.9L107.8 612.8L108.5 616.4L109.2 619.7L109.9 622.5L110.6 624.7L111.3 626.4L112.0 627.7L112.7 628.6L113.4 629.2L114.1 629.5L114.8 629.8L115.5 629.9L116.2 630.0L116.9 630.1L117.6 630.1L118.3 630.1L119.0 630.1L119.7 630.1L120.4 630.1L121.2 630.1L121.9 630.1L122.6 630.1L123.3 630.1L124.0 630.1L124.7 630.1L125.4 630.1L126.1 630.1L126.8 630.1L127.5 630.1L128.2 630.1L128.9 630.1L129.6 630.1L130.3 630.1L131.0 630.1L131.7 630.1L132.4 630.1L133.1 630.1L133.8 630.1L133.8 630.1Z" fill="#2a47a8" fill-opacity="0.4"/>
<path d="M29.1 630.1L29.8 630.1L30.5 630.1L31.2 630.1L31.9 630.1L32.6 630.1L33.3 630.1L34.0 630.1L34.7 630.1L35.4 630.1L36.1 630.1L36.8 630.1L37.5 630.1L38.2 630.1L38.9 630.1L39.6 630.1L40.3 630.1L41.0 630.1L41.7 630.1L42.5 630.1L43.2 630.1L43.9 630.1L44.6 630.1L45.3 630.1L46.0 630.1L46.7 630.1L47.4 630.1L48.1 630.1L48.8 630.1L49.5 630.1L50.2 630.1L50.9 630.1L51.6 630.1L52.3 630.1L53.0 630.1L53.7 630.1L54.4 630.1L55.1 630.1L55.8 630.1L56.5 630.1L57.2 630.1L57.9 630.1L58.6 630.1L59.3 630.1L60.0 630.1L60.7 630.1L61.4 630.1L62.1 630.1L62.8 630.1L63.5 630.1L64.2 630.1L64.9 630.1L65.6 630.1L66.3 630.1L67.0 630.1L67.7 630.1L68.5 630.1L69.2 630.1L69.9 630.1L70.6 630.0L71.3 630.0L72.0 630.0L72.7 630.0L73.4 630.0L74.1 630.0L74.8 629.9L75.5 629.9L76.2 629.9L76.9 629.8L77.6 629.8L78.3 629.7L79.0 629.7L79.7 629.6L80.4 629.5L81.1 629.5L81.8 629.4L82.5 629.3L83.2 629.2L83.9 629.1L84.6 628.9L85.3 628.8L86.0 628.7L86.7 628.5L87.4 628.3L88.1 628.2L88.8 628.0L89.5 627.8L90.2 627.5L90.9 627.2L91.6 626.9L92.3 626.5L93.0 625.9L93.7 625.2L94.4 624.2L95.2 623.0L95.9 621.4L96.6 619.5L97.3 617.2L98.0 614.5L98.7 611.5L99.4 608.4L100.1 605.2L100.8 602.2L101.5 599.6L102.2 597.6L102.9 596.4L103.6 596.1L104.3 596.8L105.0 598.7L105.7 601.5L106.4 605.0L107.1 608.9L107.8 612.8L108.5 616.4L109.2 619.7L109.9 622.5L110.6 624.7L111.3 626.4L112.0 627.7L112.7 628.6L113.4 629.2L114.1 629.5L114.8 629.8L115.5 629.9L116.2 630.0L116.9 630.1L117.6 630.1L118.3 630.1L119.0 630.1L119.7 630.1L120.4 630.1L121.2 630.1L121.9 630.1L122.6 630.1L123.3 630.1L124.0 630.1L124.7 630.1L125.4 630.1L126.1 630.1L126.8 630.1L127.5 630.1L128.2 630.1L128.9 630.1L129.6 630.1L130.3 630.1L131.0 630.1L131.7 630.1L132.4 630.1L133.1 630.1L133.8 630.1" fill="none" stroke="#2a47a8" stroke-width="1.9" stroke-linejoin="round"/>
<path d="M29.1 666.6L29.1 666.6L29.8 666.6L30.5 666.6L31.2 666.6L31.9 666.6L32.6 666.6L33.3 666.6L34.0 666.6L34.7 666.6L35.4 666.6L36.1 666.6L36.8 666.6L37.5 666.6L38.2 666.6L38.9 666.6L39.6 666.6L40.3 666.6L41.0 666.6L41.7 666.6L42.5 666.6L43.2 666.6L43.9 666.6L44.6 666.6L45.3 666.6L46.0 666.6L46.7 666.6L47.4 666.6L48.1 666.6L48.8 666.6L49.5 666.6L50.2 666.6L50.9 666.6L51.6 666.6L52.3 666.6L53.0 666.6L53.7 666.6L54.4 666.6L55.1 666.6L55.8 666.6L56.5 666.6L57.2 666.6L57.9 666.6L58.6 666.6L59.3 666.6L60.0 666.6L60.7 666.6L61.4 666.6L62.1 666.6L62.8 666.5L63.5 666.5L64.2 666.5L64.9 666.5L65.6 666.5L66.3 666.5L67.0 666.4L67.7 666.4L68.5 666.4L69.2 666.4L69.9 666.3L70.6 666.3L71.3 666.2L72.0 666.2L72.7 666.1L73.4 666.0L74.1 665.9L74.8 665.9L75.5 665.8L76.2 665.7L76.9 665.6L77.6 665.4L78.3 665.3L79.0 665.2L79.7 665.0L80.4 664.8L81.1 664.7L81.8 664.5L82.5 664.2L83.2 664.0L83.9 663.7L84.6 663.4L85.3 663.1L86.0 662.7L86.7 662.2L87.4 661.6L88.1 660.9L88.8 660.0L89.5 659.0L90.2 657.7L90.9 656.3L91.6 654.6L92.3 652.7L93.0 650.7L93.7 648.4L94.4 646.1L95.2 643.8L95.9 641.5L96.6 639.3L97.3 637.5L98.0 636.0L98.7 634.9L99.4 634.3L100.1 634.2L100.8 634.8L101.5 636.0L102.2 637.8L102.9 640.0L103.6 642.6L104.3 645.3L105.0 648.1L105.7 650.9L106.4 653.5L107.1 655.9L107.8 658.1L108.5 659.9L109.2 661.5L109.9 662.7L110.6 663.8L111.3 664.6L112.0 665.2L112.7 665.6L113.4 665.9L114.1 666.1L114.8 666.3L115.5 666.4L116.2 666.5L116.9 666.5L117.6 666.6L118.3 666.6L119.0 666.6L119.7 666.6L120.4 666.6L121.2 666.6L121.9 666.6L122.6 666.6L123.3 666.6L124.0 666.6L124.7 666.6L125.4 666.6L126.1 666.6L126.8 666.6L127.5 666.6L128.2 666.6L128.9 666.6L129.6 666.6L130.3 666.6L131.0 666.6L131.7 666.6L132.4 666.6L133.1 666.6L133.8 666.6L133.8 666.6Z" fill="#000000" fill-opacity="0.4"/>
<path d="M29.1 666.6L29.8 666.6L30.5 666.6L31.2 666.6L31.9 666.6L32.6 666.6L33.3 666.6L34.0 666.6L34.7 666.6L35.4 666.6L36.1 666.6L36.8 666.6L37.5 666.6L38.2 666.6L38.9 666.6L39.6 666.6L40.3 666.6L41.0 666.6L41.7 666.6L42.5 666.6L43.2 666.6L43.9 666.6L44.6 666.6L45.3 666.6L46.0 666.6L46.7 666.6L47.4 666.6L48.1 666.6L48.8 666.6L49.5 666.6L50.2 666.6L50.9 666.6L51.6 666.6L52.3 666.6L53.0 666.6L53.7 666.6L54.4 666.6L55.1 666.6L55.8 666.6L56.5 666.6L57.2 666.6L57.9 666.6L58.6 666.6L59.3 666.6L60.0 666.6L60.7 666.6L61.4 666.6L62.1 666.6L62.8 666.5L63.5 666.5L64.2 666.5L64.9 666.5L65.6 666.5L66.3 666.5L67.0 666.4L67.7 666.4L68.5 666.4L69.2 666.4L69.9 666.3L70.6 666.3L71.3 666.2L72.0 666.2L72.7 666.1L73.4 666.0L74.1 665.9L74.8 665.9L75.5 665.8L76.2 665.7L76.9 665.6L77.6 665.4L78.3 665.3L79.0 665.2L79.7 665.0L80.4 664.8L81.1 664.7L81.8 664.5L82.5 664.2L83.2 664.0L83.9 663.7L84.6 663.4L85.3 663.1L86.0 662.7L86.7 662.2L87.4 661.6L88.1 660.9L88.8 660.0L89.5 659.0L90.2 657.7L90.9 656.3L91.6 654.6L92.3 652.7L93.0 650.7L93.7 648.4L94.4 646.1L95.2 643.8L95.9 641.5L96.6 639.3L97.3 637.5L98.0 636.0L98.7 634.9L99.4 634.3L100.1 634.2L100.8 634.8L101.5 636.0L102.2 637.8L102.9 640.0L103.6 642.6L104.3 645.3L105.0 648.1L105.7 650.9L106.4 653.5L107.1 655.9L107.8 658.1L108.5 659.9L109.2 661.5L109.9 662.7L110.6 663.8L111.3 664.6L112.0 665.2L112.7 665.6L113.4 665.9L114.1 666.1L114.8 666.3L115.5 666.4L116.2 666.5L116.9 666.5L117.6 666.6L118.3 666.6L119.0 666.6L119.7 666.6L120.4 666.6L121.2 666.6L121.9 666.6L122.6 666.6L123.3 666.6L124.0 666.6L124.7 666.6L125.4 666.6L126.1 666.6L126.8 666.6L127.5 666.6L128.2 666.6L128.9 666.6L129.6 666.6L130.3 666.6L131.0 666.6L131.7 666.6L132.4 666.6L133.1 666.6L133.8 666.6" fill="none" stroke="#000000" stroke-width="2.1" stroke-linejoin="round"/>
<path d="M135.0 520.1L135.0 520.1L135.7 520.1L136.4 520.1L137.1 520.1L137.8 520.1L138.5 520.1L139.2 520.1L139.9 520.1L140.6 520.1L141.3 520.1L142.0 520.1L142.7 520.0L143.4 520.0L144.1 520.0L144.8 520.0L145.5 520.0L146.2 520.0L146.9 519.9L147.6 519.9L148.3 519.8L149.0 519.8L149.7 519.7L150.4 519.7L151.1 519.6L151.8 519.5L152.5 519.4L153.2 519.3L153.9 519.1L154.6 519.0L155.3 518.8L156.0 518.6L156.7 518.4L157.4 518.1L158.1 517.8L158.8 517.3L159.5 517.0L160.2 516.6L160.9 516.3L161.6 515.9L162.3 515.3L163.0 514.6L163.7 513.9L164.4 513.2L165.1 512.7L165.8 511.9L166.5 511.1L167.2 510.2L167.9 509.2L168.6 508.2L169.3 507.2L170.0 506.2L170.7 505.1L171.4 503.9L172.1 502.7L172.8 501.5L173.5 500.2L174.2 498.8L174.9 497.4L175.6 496.4L176.3 495.6L177.0 494.6L177.7 493.5L178.4 492.1L179.1 491.2L179.8 490.2L180.5 489.7L181.2 489.0L181.9 488.6L182.6 488.2L183.3 487.8L184.0 487.4L184.7 487.1L185.4 486.8L186.1 486.3L186.8 486.2L187.5 486.5L188.3 486.8L189.0 486.9L189.7 487.1L190.4 488.0L191.1 488.9L191.8 489.8L192.5 491.0L193.2 492.2L193.9 493.7L194.6 495.1L195.3 497.1L196.0 499.4L196.7 501.6L197.4 503.8L198.1 505.9L198.8 508.0L199.5 509.7L200.2 511.6L200.9 513.2L201.6 514.7L202.3 515.8L203.0 517.0L203.7 517.7L204.4 518.4L205.1 518.8L205.8 519.2L206.5 519.5L207.2 519.7L207.9 519.9L208.6 519.9L209.3 520.0L210.0 520.0L210.7 520.1L211.4 520.1L212.1 520.1L212.8 520.1L213.5 520.1L214.2 520.1L214.9 520.1L215.6 520.1L216.3 520.1L217.0 520.1L217.7 520.1L218.4 520.1L219.1 520.1L219.8 520.1L220.5 520.1L221.2 520.1L221.9 520.1L222.6 520.1L223.3 520.1L224.0 520.1L224.7 520.1L225.4 520.1L226.1 520.1L226.8 520.1L227.5 520.1L228.2 520.1L228.9 520.1L229.6 520.1L230.3 520.1L231.0 520.1L231.7 520.1L232.4 520.1L233.1 520.1L233.8 520.1L234.5 520.1L235.2 520.1L235.9 520.1L236.6 520.1L237.3 520.1L238.0 520.1L238.7 520.1L239.4 520.1L240.1 520.1L240.8 520.1L240.8 520.1Z" fill="#e8141e" fill-opacity="0.4"/>
<path d="M135.0 520.1L135.7 520.1L136.4 520.1L137.1 520.1L137.8 520.1L138.5 520.1L139.2 520.1L139.9 520.1L140.6 520.1L141.3 520.1L142.0 520.1L142.7 520.0L143.4 520.0L144.1 520.0L144.8 520.0L145.5 520.0L146.2 520.0L146.9 519.9L147.6 519.9L148.3 519.8L149.0 519.8L149.7 519.7L150.4 519.7L151.1 519.6L151.8 519.5L152.5 519.4L153.2 519.3L153.9 519.1L154.6 519.0L155.3 518.8L156.0 518.6L156.7 518.4L157.4 518.1L158.1 517.8L158.8 517.3L159.5 517.0L160.2 516.6L160.9 516.3L161.6 515.9L162.3 515.3L163.0 514.6L163.7 513.9L164.4 513.2L165.1 512.7L165.8 511.9L166.5 511.1L167.2 510.2L167.9 509.2L168.6 508.2L169.3 507.2L170.0 506.2L170.7 505.1L171.4 503.9L172.1 502.7L172.8 501.5L173.5 500.2L174.2 498.8L174.9 497.4L175.6 496.4L176.3 495.6L177.0 494.6L177.7 493.5L178.4 492.1L179.1 491.2L179.8 490.2L180.5 489.7L181.2 489.0L181.9 488.6L182.6 488.2L183.3 487.8L184.0 487.4L184.7 487.1L185.4 486.8L186.1 486.3L186.8 486.2L187.5 486.5L188.3 486.8L189.0 486.9L189.7 487.1L190.4 488.0L191.1 488.9L191.8 489.8L192.5 491.0L193.2 492.2L193.9 493.7L194.6 495.1L195.3 497.1L196.0 499.4L196.7 501.6L197.4 503.8L198.1 505.9L198.8 508.0L199.5 509.7L200.2 511.6L200.9 513.2L201.6 514.7L202.3 515.8L203.0 517.0L203.7 517.7L204.4 518.4L205.1 518.8L205.8 519.2L206.5 519.5L207.2 519.7L207.9 519.9L208.6 519.9L209.3 520.0L210.0 520.0L210.7 520.1L211.4 520.1L212.1 520.1L212.8 520.1L213.5 520.1L214.2 520.1L214.9 520.1L215.6 520.1L216.3 520.1L217.0 520.1L217.7 520.1L218.4 520.1L219.1 520.1L219.8 520.1L220.5 520.1L221.2 520.1L221.9 520.1L222.6 520.1L223.3 520.1L224.0 520.1L224.7 520.1L225.4 520.1L226.1 520.1L226.8 520.1L227.5 520.1L228.2 520.1L228.9 520.1L229.6 520.1L230.3 520.1L231.0 520.1L231.7 520.1L232.4 520.1L233.1 520.1L233.8 520.1L234.5 520.1L235.2 520.1L235.9 520.1L236.6 520.1L237.3 520.1L238.0 520.1L238.7 520.1L239.4 520.1L240.1 520.1L240.8 520.1" fill="none" stroke="#e8141e" stroke-width="1.9" stroke-linejoin="round"/>
<path d="M135.0 556.8L135.0 556.8L135.7 556.8L136.4 556.8L137.1 556.8L137.8 556.8L138.5 556.8L139.2 556.8L139.9 556.8L140.6 556.8L141.3 556.8L142.0 556.8L142.7 556.8L143.4 556.8L144.1 556.8L144.8 556.8L145.5 556.8L146.2 556.8L146.9 556.8L147.6 556.8L148.3 556.8L149.0 556.7L149.7 556.7L150.4 556.7L151.1 556.7L151.8 556.7L152.5 556.6L153.2 556.6L153.9 556.5L154.6 556.5L155.3 556.4L156.0 556.3L156.7 556.2L157.4 556.1L158.1 555.9L158.8 555.7L159.5 555.5L160.2 555.3L160.9 554.8L161.6 554.7L162.3 554.3L163.0 553.9L163.7 553.3L164.4 552.7L165.1 552.2L165.8 551.6L166.5 550.8L167.2 550.1L167.9 548.9L168.6 548.1L169.3 546.9L170.0 546.0L170.7 544.6L171.4 543.5L172.1 542.1L172.8 540.9L173.5 539.3L174.2 538.0L174.9 536.5L175.6 535.4L176.3 534.0L177.0 532.6L177.7 530.9L178.4 529.8L179.1 528.6L179.8 527.7L180.5 526.5L181.2 525.7L181.9 525.0L182.6 524.6L183.3 524.4L184.0 524.2L184.7 523.8L185.4 523.3L186.1 523.1L186.8 523.0L187.5 523.2L188.3 523.5L189.0 524.0L189.7 524.5L190.4 525.2L191.1 526.5L191.8 528.4L192.5 530.4L193.2 532.9L193.9 535.6L194.6 539.0L195.3 542.5L196.0 545.5L196.7 548.4L197.4 550.9L198.1 553.0L198.8 554.6L199.5 555.6L200.2 556.2L200.9 556.5L201.6 556.7L202.3 556.8L203.0 556.8L203.7 556.8L204.4 556.8L205.1 556.8L205.8 556.8L206.5 556.8L207.2 556.8L207.9 556.8L208.6 556.8L209.3 556.8L210.0 556.8L210.7 556.8L211.4 556.8L212.1 556.8L212.8 556.8L213.5 556.8L214.2 556.8L214.9 556.8L215.6 556.8L216.3 556.8L217.0 556.8L217.7 556.8L218.4 556.8L219.1 556.8L219.8 556.8L220.5 556.8L221.2 556.8L221.9 556.8L222.6 556.8L223.3 556.8L224.0 556.8L224.7 556.8L225.4 556.8L226.1 556.8L226.8 556.8L227.5 556.8L228.2 556.8L228.9 556.8L229.6 556.8L230.3 556.8L231.0 556.8L231.7 556.8L232.4 556.8L233.1 556.8L233.8 556.8L234.5 556.8L235.2 556.8L235.9 556.8L236.6 556.8L237.3 556.8L238.0 556.8L238.7 556.8L239.4 556.8L240.1 556.8L240.8 556.8L240.8 556.8Z" fill="#f47a1a" fill-opacity="0.4"/>
<path d="M135.0 556.8L135.7 556.8L136.4 556.8L137.1 556.8L137.8 556.8L138.5 556.8L139.2 556.8L139.9 556.8L140.6 556.8L141.3 556.8L142.0 556.8L142.7 556.8L143.4 556.8L144.1 556.8L144.8 556.8L145.5 556.8L146.2 556.8L146.9 556.8L147.6 556.8L148.3 556.8L149.0 556.7L149.7 556.7L150.4 556.7L151.1 556.7L151.8 556.7L152.5 556.6L153.2 556.6L153.9 556.5L154.6 556.5L155.3 556.4L156.0 556.3L156.7 556.2L157.4 556.1L158.1 555.9L158.8 555.7L159.5 555.5L160.2 555.3L160.9 554.8L161.6 554.7L162.3 554.3L163.0 553.9L163.7 553.3L164.4 552.7L165.1 552.2L165.8 551.6L166.5 550.8L167.2 550.1L167.9 548.9L168.6 548.1L169.3 546.9L170.0 546.0L170.7 544.6L171.4 543.5L172.1 542.1L172.8 540.9L173.5 539.3L174.2 538.0L174.9 536.5L175.6 535.4L176.3 534.0L177.0 532.6L177.7 530.9L178.4 529.8L179.1 528.6L179.8 527.7L180.5 526.5L181.2 525.7L181.9 525.0L182.6 524.6L183.3 524.4L184.0 524.2L184.7 523.8L185.4 523.3L186.1 523.1L186.8 523.0L187.5 523.2L188.3 523.5L189.0 524.0L189.7 524.5L190.4 525.2L191.1 526.5L191.8 528.4L192.5 530.4L193.2 532.9L193.9 535.6L194.6 539.0L195.3 542.5L196.0 545.5L196.7 548.4L197.4 550.9L198.1 553.0L198.8 554.6L199.5 555.6L200.2 556.2L200.9 556.5L201.6 556.7L202.3 556.8L203.0 556.8L203.7 556.8L204.4 556.8L205.1 556.8L205.8 556.8L206.5 556.8L207.2 556.8L207.9 556.8L208.6 556.8L209.3 556.8L210.0 556.8L210.7 556.8L211.4 556.8L212.1 556.8L212.8 556.8L213.5 556.8L214.2 556.8L214.9 556.8L215.6 556.8L216.3 556.8L217.0 556.8L217.7 556.8L218.4 556.8L219.1 556.8L219.8 556.8L220.5 556.8L221.2 556.8L221.9 556.8L222.6 556.8L223.3 556.8L224.0 556.8L224.7 556.8L225.4 556.8L226.1 556.8L226.8 556.8L227.5 556.8L228.2 556.8L228.9 556.8L229.6 556.8L230.3 556.8L231.0 556.8L231.7 556.8L232.4 556.8L233.1 556.8L233.8 556.8L234.5 556.8L235.2 556.8L235.9 556.8L236.6 556.8L237.3 556.8L238.0 556.8L238.7 556.8L239.4 556.8L240.1 556.8L240.8 556.8" fill="none" stroke="#f47a1a" stroke-width="1.9" stroke-linejoin="round"/>
<path d="M135.0 593.5L135.0 593.5L135.7 593.5L136.4 593.5L137.1 593.5L137.8 593.5L138.5 593.5L139.2 593.5L139.9 593.5L140.6 593.5L141.3 593.5L142.0 593.5L142.7 593.5L143.4 593.5L144.1 593.5L144.8 593.5L145.5 593.5L146.2 593.5L146.9 593.5L147.6 593.5L148.3 593.5L149.0 593.5L149.7 593.5L150.4 593.5L151.1 593.4L151.8 593.4L152.5 593.4L153.2 593.4L153.9 593.4L154.6 593.4L155.3 593.4L156.0 593.4L156.7 593.4L157.4 593.3L158.1 593.3L158.8 593.3L159.5 593.3L160.2 593.3L160.9 593.2L161.6 593.2L162.3 593.2L163.0 593.1L163.7 593.1L164.4 593.1L165.1 593.0L165.8 593.0L166.5 592.9L167.2 592.8L167.9 592.8L168.6 592.7L169.3 592.6L170.0 592.5L170.7 592.3L171.4 592.2L172.1 592.0L172.8 591.8L173.5 591.6L174.2 591.3L174.9 591.0L175.6 590.7L176.3 590.2L177.0 589.8L177.7 589.3L178.4 588.8L179.1 588.1L179.8 587.2L180.5 586.6L181.2 585.6L181.9 584.6L182.6 583.4L183.3 582.3L184.0 581.0L184.7 579.7L185.4 578.3L186.1 577.2L186.8 575.6L187.5 574.0L188.3 572.3L189.0 570.9L189.7 569.4L190.4 568.4L191.1 566.9L191.8 566.1L192.5 564.4L193.2 563.1L193.9 561.4L194.6 560.7L195.3 560.1L196.0 560.0L196.7 560.1L197.4 559.9L198.1 559.9L198.8 559.6L199.5 560.3L200.2 560.9L200.9 561.9L201.6 563.0L202.3 564.9L203.0 566.7L203.7 569.7L204.4 572.8L205.1 576.5L205.8 579.6L206.5 582.4L207.2 585.0L207.9 587.4L208.6 589.3L209.3 590.7L210.0 591.8L210.7 592.5L211.4 592.9L212.1 593.2L212.8 593.3L213.5 593.4L214.2 593.5L214.9 593.5L215.6 593.5L216.3 593.5L217.0 593.5L217.7 593.5L218.4 593.5L219.1 593.5L219.8 593.5L220.5 593.5L221.2 593.5L221.9 593.5L222.6 593.5L223.3 593.5L224.0 593.5L224.7 593.5L225.4 593.5L226.1 593.5L226.8 593.5L227.5 593.5L228.2 593.5L228.9 593.5L229.6 593.5L230.3 593.5L231.0 593.5L231.7 593.5L232.4 593.5L233.1 593.5L233.8 593.5L234.5 593.5L235.2 593.5L235.9 593.5L236.6 593.5L237.3 593.5L238.0 593.5L238.7 593.5L239.4 593.5L240.1 593.5L240.8 593.5L240.8 593.5Z" fill="#86c63c" fill-opacity="0.4"/>
<path d="M135.0 593.5L135.7 593.5L136.4 593.5L137.1 593.5L137.8 593.5L138.5 593.5L139.2 593.5L139.9 593.5L140.6 593.5L141.3 593.5L142.0 593.5L142.7 593.5L143.4 593.5L144.1 593.5L144.8 593.5L145.5 593.5L146.2 593.5L146.9 593.5L147.6 593.5L148.3 593.5L149.0 593.5L149.7 593.5L150.4 593.5L151.1 593.4L151.8 593.4L152.5 593.4L153.2 593.4L153.9 593.4L154.6 593.4L155.3 593.4L156.0 593.4L156.7 593.4L157.4 593.3L158.1 593.3L158.8 593.3L159.5 593.3L160.2 593.3L160.9 593.2L161.6 593.2L162.3 593.2L163.0 593.1L163.7 593.1L164.4 593.1L165.1 593.0L165.8 593.0L166.5 592.9L167.2 592.8L167.9 592.8L168.6 592.7L169.3 592.6L170.0 592.5L170.7 592.3L171.4 592.2L172.1 592.0L172.8 591.8L173.5 591.6L174.2 591.3L174.9 591.0L175.6 590.7L176.3 590.2L177.0 589.8L177.7 589.3L178.4 588.8L179.1 588.1L179.8 587.2L180.5 586.6L181.2 585.6L181.9 584.6L182.6 583.4L183.3 582.3L184.0 581.0L184.7 579.7L185.4 578.3L186.1 577.2L186.8 575.6L187.5 574.0L188.3 572.3L189.0 570.9L189.7 569.4L190.4 568.4L191.1 566.9L191.8 566.1L192.5 564.4L193.2 563.1L193.9 561.4L194.6 560.7L195.3 560.1L196.0 560.0L196.7 560.1L197.4 559.9L198.1 559.9L198.8 559.6L199.5 560.3L200.2 560.9L200.9 561.9L201.6 563.0L202.3 564.9L203.0 566.7L203.7 569.7L204.4 572.8L205.1 576.5L205.8 579.6L206.5 582.4L207.2 585.0L207.9 587.4L208.6 589.3L209.3 590.7L210.0 591.8L210.7 592.5L211.4 592.9L212.1 593.2L212.8 593.3L213.5 593.4L214.2 593.5L214.9 593.5L215.6 593.5L216.3 593.5L217.0 593.5L217.7 593.5L218.4 593.5L219.1 593.5L219.8 593.5L220.5 593.5L221.2 593.5L221.9 593.5L222.6 593.5L223.3 593.5L224.0 593.5L224.7 593.5L225.4 593.5L226.1 593.5L226.8 593.5L227.5 593.5L228.2 593.5L228.9 593.5L229.6 593.5L230.3 593.5L231.0 593.5L231.7 593.5L232.4 593.5L233.1 593.5L233.8 593.5L234.5 593.5L235.2 593.5L235.9 593.5L236.6 593.5L237.3 593.5L238.0 593.5L238.7 593.5L239.4 593.5L240.1 593.5L240.8 593.5" fill="none" stroke="#86c63c" stroke-width="1.9" stroke-linejoin="round"/>
<path d="M135.0 630.1L135.0 630.0L135.7 630.0L136.4 630.0L137.1 630.0L137.8 630.0L138.5 629.9L139.2 629.9L139.9 629.9L140.6 629.9L141.3 629.8L142.0 629.8L142.7 629.8L143.4 629.8L144.1 629.7L144.8 629.7L145.5 629.6L146.2 629.6L146.9 629.6L147.6 629.5L148.3 629.4L149.0 629.4L149.7 629.3L150.4 629.2L151.1 629.2L151.8 629.1L152.5 629.0L153.2 628.9L153.9 628.8L154.6 628.7L155.3 628.6L156.0 628.5L156.7 628.5L157.4 628.3L158.1 628.1L158.8 627.9L159.5 627.8L160.2 627.7L160.9 627.5L161.6 627.3L162.3 627.2L163.0 627.1L163.7 626.8L164.4 626.5L165.1 626.3L165.8 626.1L166.5 625.9L167.2 625.5L167.9 625.3L168.6 625.0L169.3 624.8L170.0 624.5L170.7 624.3L171.4 623.8L172.1 623.3L172.8 623.0L173.5 622.6L174.2 622.0L174.9 621.4L175.6 620.8L176.3 620.2L177.0 619.7L177.7 619.1L178.4 618.7L179.1 617.7L179.8 616.7L180.5 615.4L181.2 614.6L181.9 613.6L182.6 612.5L183.3 611.3L184.0 609.8L184.7 608.3L185.4 606.9L186.1 605.6L186.8 604.2L187.5 602.9L188.3 601.6L189.0 600.5L189.7 598.9L190.4 598.4L191.1 598.2L191.8 597.8L192.5 596.9L193.2 596.7L193.9 596.7L194.6 597.5L195.3 598.1L196.0 599.7L196.7 601.7L197.4 604.4L198.1 607.1L198.8 610.1L199.5 613.2L200.2 616.1L200.9 618.7L201.6 621.2L202.3 623.3L203.0 624.9L203.7 626.2L204.4 627.2L205.1 628.1L205.8 628.7L206.5 629.2L207.2 629.5L207.9 629.7L208.6 629.8L209.3 629.9L210.0 630.0L210.7 630.0L211.4 630.1L212.1 630.1L212.8 630.1L213.5 630.1L214.2 630.1L214.9 630.1L215.6 630.1L216.3 630.1L217.0 630.1L217.7 630.1L218.4 630.1L219.1 630.1L219.8 630.1L220.5 630.1L221.2 630.1L221.9 630.1L222.6 630.1L223.3 630.1L224.0 630.1L224.7 630.1L225.4 630.1L226.1 630.1L226.8 630.1L227.5 630.1L228.2 630.1L228.9 630.1L229.6 630.1L230.3 630.1L231.0 630.1L231.7 630.1L232.4 630.1L233.1 630.1L233.8 630.1L234.5 630.1L235.2 630.1L235.9 630.1L236.6 630.1L237.3 630.1L238.0 630.1L238.7 630.1L239.4 630.1L240.1 630.1L240.8 630.1L240.8 630.1Z" fill="#2a47a8" fill-opacity="0.4"/>
<path d="M135.0 630.0L135.7 630.0L136.4 630.0L137.1 630.0L137.8 630.0L138.5 629.9L139.2 629.9L139.9 629.9L140.6 629.9L141.3 629.8L142.0 629.8L142.7 629.8L143.4 629.8L144.1 629.7L144.8 629.7L145.5 629.6L146.2 629.6L146.9 629.6L147.6 629.5L148.3 629.4L149.0 629.4L149.7 629.3L150.4 629.2L151.1 629.2L151.8 629.1L152.5 629.0L153.2 628.9L153.9 628.8L154.6 628.7L155.3 628.6L156.0 628.5L156.7 628.5L157.4 628.3L158.1 628.1L158.8 627.9L159.5 627.8L160.2 627.7L160.9 627.5L161.6 627.3L162.3 627.2L163.0 627.1L163.7 626.8L164.4 626.5L165.1 626.3L165.8 626.1L166.5 625.9L167.2 625.5L167.9 625.3L168.6 625.0L169.3 624.8L170.0 624.5L170.7 624.3L171.4 623.8L172.1 623.3L172.8 623.0L173.5 622.6L174.2 622.0L174.9 621.4L175.6 620.8L176.3 620.2L177.0 619.7L177.7 619.1L178.4 618.7L179.1 617.7L179.8 616.7L180.5 615.4L181.2 614.6L181.9 613.6L182.6 612.5L183.3 611.3L184.0 609.8L184.7 608.3L185.4 606.9L186.1 605.6L186.8 604.2L187.5 602.9L188.3 601.6L189.0 600.5L189.7 598.9L190.4 598.4L191.1 598.2L191.8 597.8L192.5 596.9L193.2 596.7L193.9 596.7L194.6 597.5L195.3 598.1L196.0 599.7L196.7 601.7L197.4 604.4L198.1 607.1L198.8 610.1L199.5 613.2L200.2 616.1L200.9 618.7L201.6 621.2L202.3 623.3L203.0 624.9L203.7 626.2L204.4 627.2L205.1 628.1L205.8 628.7L206.5 629.2L207.2 629.5L207.9 629.7L208.6 629.8L209.3 629.9L210.0 630.0L210.7 630.0L211.4 630.1L212.1 630.1L212.8 630.1L213.5 630.1L214.2 630.1L214.9 630.1L215.6 630.1L216.3 630.1L217.0 630.1L217.7 630.1L218.4 630.1L219.1 630.1L219.8 630.1L220.5 630.1L221.2 630.1L221.9 630.1L222.6 630.1L223.3 630.1L224.0 630.1L224.7 630.1L225.4 630.1L226.1 630.1L226.8 630.1L227.5 630.1L228.2 630.1L228.9 630.1L229.6 630.1L230.3 630.1L231.0 630.1L231.7 630.1L232.4 630.1L233.1 630.1L233.8 630.1L234.5 630.1L235.2 630.1L235.9 630.1L236.6 630.1L237.3 630.1L238.0 630.1L238.7 630.1L239.4 630.1L240.1 630.1L240.8 630.1" fill="none" stroke="#2a47a8" stroke-width="1.9" stroke-linejoin="round"/>
<path d="M135.0 666.6L135.0 666.6L135.7 666.6L136.4 666.6L137.1 666.6L137.8 666.6L138.5 666.6L139.2 666.6L139.9 666.6L140.6 666.6L141.3 666.6L142.0 666.6L142.7 666.6L143.4 666.6L144.1 666.6L144.8 666.6L145.5 666.6L146.2 666.6L146.9 666.6L147.6 666.6L148.3 666.6L149.0 666.6L149.7 666.6L150.4 666.6L151.1 666.5L151.8 666.5L152.5 666.4L153.2 666.3L153.9 666.2L154.6 666.0L155.3 665.7L156.0 665.3L156.7 664.8L157.4 664.3L158.1 663.6L158.8 662.6L159.5 661.5L160.2 660.3L160.9 658.8L161.6 657.0L162.3 655.1L163.0 653.4L163.7 651.4L164.4 649.5L165.1 647.3L165.8 645.2L166.5 643.6L167.2 641.9L167.9 640.6L168.6 639.1L169.3 637.9L170.0 636.8L170.7 635.8L171.4 635.2L172.1 634.7L172.8 634.3L173.5 634.2L174.2 633.9L174.9 634.0L175.6 633.8L176.3 634.0L177.0 633.8L177.7 633.8L178.4 633.7L179.1 634.0L179.8 634.1L180.5 634.0L181.2 634.6L181.9 635.1L182.6 636.0L183.3 636.6L184.0 637.8L184.7 638.7L185.4 639.9L186.1 641.0L186.8 642.9L187.5 644.7L188.3 646.4L189.0 648.1L189.7 649.9L190.4 651.9L191.1 653.7L191.8 655.4L192.5 657.1L193.2 658.6L193.9 659.9L194.6 661.0L195.3 662.0L196.0 662.9L196.7 663.8L197.4 664.5L198.1 665.0L198.8 665.4L199.5 665.8L200.2 666.0L200.9 666.2L201.6 666.3L202.3 666.4L203.0 666.5L203.7 666.5L204.4 666.6L205.1 666.6L205.8 666.6L206.5 666.6L207.2 666.6L207.9 666.6L208.6 666.6L209.3 666.6L210.0 666.6L210.7 666.6L211.4 666.6L212.1 666.6L212.8 666.6L213.5 666.6L214.2 666.6L214.9 666.6L215.6 666.6L216.3 666.6L217.0 666.6L217.7 666.6L218.4 666.6L219.1 666.6L219.8 666.6L220.5 666.6L221.2 666.6L221.9 666.6L222.6 666.6L223.3 666.6L224.0 666.6L224.7 666.6L225.4 666.6L226.1 666.6L226.8 666.6L227.5 666.6L228.2 666.6L228.9 666.6L229.6 666.6L230.3 666.6L231.0 666.6L231.7 666.6L232.4 666.6L233.1 666.6L233.8 666.6L234.5 666.6L235.2 666.6L235.9 666.6L236.6 666.6L237.3 666.6L238.0 666.6L238.7 666.6L239.4 666.6L240.1 666.6L240.8 666.6L240.8 666.6Z" fill="#000000" fill-opacity="0.4"/>
<path d="M135.0 666.6L135.7 666.6L136.4 666.6L137.1 666.6L137.8 666.6L138.5 666.6L139.2 666.6L139.9 666.6L140.6 666.6L141.3 666.6L142.0 666.6L142.7 666.6L143.4 666.6L144.1 666.6L144.8 666.6L145.5 666.6L146.2 666.6L146.9 666.6L147.6 666.6L148.3 666.6L149.0 666.6L149.7 666.6L150.4 666.6L151.1 666.5L151.8 666.5L152.5 666.4L153.2 666.3L153.9 666.2L154.6 666.0L155.3 665.7L156.0 665.3L156.7 664.8L157.4 664.3L158.1 663.6L158.8 662.6L159.5 661.5L160.2 660.3L160.9 658.8L161.6 657.0L162.3 655.1L163.0 653.4L163.7 651.4L164.4 649.5L165.1 647.3L165.8 645.2L166.5 643.6L167.2 641.9L167.9 640.6L168.6 639.1L169.3 637.9L170.0 636.8L170.7 635.8L171.4 635.2L172.1 634.7L172.8 634.3L173.5 634.2L174.2 633.9L174.9 634.0L175.6 633.8L176.3 634.0L177.0 633.8L177.7 633.8L178.4 633.7L179.1 634.0L179.8 634.1L180.5 634.0L181.2 634.6L181.9 635.1L182.6 636.0L183.3 636.6L184.0 637.8L184.7 638.7L185.4 639.9L186.1 641.0L186.8 642.9L187.5 644.7L188.3 646.4L189.0 648.1L189.7 649.9L190.4 651.9L191.1 653.7L191.8 655.4L192.5 657.1L193.2 658.6L193.9 659.9L194.6 661.0L195.3 662.0L196.0 662.9L196.7 663.8L197.4 664.5L198.1 665.0L198.8 665.4L199.5 665.8L200.2 666.0L200.9 666.2L201.6 666.3L202.3 666.4L203.0 666.5L203.7 666.5L204.4 666.6L205.1 666.6L205.8 666.6L206.5 666.6L207.2 666.6L207.9 666.6L208.6 666.6L209.3 666.6L210.0 666.6L210.7 666.6L211.4 666.6L212.1 666.6L212.8 666.6L213.5 666.6L214.2 666.6L214.9 666.6L215.6 666.6L216.3 666.6L217.0 666.6L217.7 666.6L218.4 666.6L219.1 666.6L219.8 666.6L220.5 666.6L221.2 666.6L221.9 666.6L222.6 666.6L223.3 666.6L224.0 666.6L224.7 666.6L225.4 666.6L226.1 666.6L226.8 666.6L227.5 666.6L228.2 666.6L228.9 666.6L229.6 666.6L230.3 666.6L231.0 666.6L231.7 666.6L232.4 666.6L233.1 666.6L233.8 666.6L234.5 666.6L235.2 666.6L235.9 666.6L236.6 666.6L237.3 666.6L238.0 666.6L238.7 666.6L239.4 666.6L240.1 666.6L240.8 666.6" fill="none" stroke="#000000" stroke-width="2.1" stroke-linejoin="round"/>
<path d="M242.0 520.1L242.0 520.1L242.7 520.1L243.4 520.1L244.1 520.1L244.8 520.1L245.5 520.1L246.2 520.1L246.9 520.1L247.6 520.1L248.3 520.1L249.0 520.1L249.7 520.1L250.4 520.1L251.1 520.1L251.8 520.1L252.5 520.1L253.2 520.1L253.9 520.1L254.6 520.1L255.3 520.1L256.0 520.1L256.7 520.1L257.4 520.1L258.1 520.1L258.8 520.0L259.5 520.0L260.2 520.0L261.0 519.9L261.7 519.9L262.4 519.9L263.1 519.8L263.8 519.8L264.5 519.7L265.2 519.7L265.9 519.6L266.6 519.5L267.3 519.4L268.0 519.3L268.7 519.1L269.4 519.0L270.1 518.9L270.8 518.8L271.5 518.7L272.2 518.6L272.9 518.5L273.6 518.4L274.3 518.3L275.0 518.2L275.7 518.2L276.4 518.2L277.1 518.0L277.8 517.9L278.5 517.9L279.2 517.9L279.9 517.9L280.6 517.8L281.3 517.8L282.0 517.7L282.7 517.7L283.4 517.8L284.1 517.7L284.8 517.6L285.5 517.4L286.2 517.4L286.9 517.4L287.6 517.3L288.3 517.3L289.0 517.3L289.7 517.3L290.4 517.3L291.1 517.2L291.8 517.0L292.5 516.8L293.2 516.6L293.9 516.6L294.6 516.5L295.3 516.4L296.0 516.3L296.7 516.2L297.4 516.0L298.2 515.7L298.9 515.4L299.6 515.1L300.3 514.7L301.0 514.2L301.7 513.5L302.4 512.7L303.1 511.8L303.8 510.8L304.5 509.8L305.2 508.6L305.9 507.0L306.6 504.6L307.3 501.7L308.0 498.9L308.7 496.6L309.4 494.1L310.1 491.7L310.8 489.5L311.5 488.0L312.2 486.3L312.9 485.3L313.6 485.6L314.3 487.0L315.0 488.9L315.7 490.5L316.4 492.7L317.1 495.9L317.8 499.1L318.5 503.6L319.2 508.4L319.9 512.5L320.6 515.1L321.3 517.3L322.0 518.8L322.7 519.3L323.4 519.7L324.1 520.0L324.8 520.1L325.5 520.1L326.2 520.1L326.9 520.1L327.6 520.1L328.3 520.1L329.0 520.1L329.7 520.1L330.4 520.1L331.1 520.1L331.8 520.1L332.5 520.1L333.2 520.1L333.9 520.1L334.7 520.1L335.4 520.1L336.1 520.1L336.8 520.1L337.5 520.1L338.2 520.1L338.9 520.1L339.6 520.1L340.3 520.1L341.0 520.1L341.7 520.1L342.4 520.1L343.1 520.1L343.8 520.1L344.5 520.1L345.2 520.1L345.9 520.1L346.6 520.1L347.3 520.1L348.0 520.1L348.7 520.1L349.4 520.1L350.1 520.1L350.8 520.1L351.5 520.1L352.2 520.1L352.9 520.1L352.9 520.1Z" fill="#e8141e" fill-opacity="0.4"/>
<path d="M242.0 520.1L242.7 520.1L243.4 520.1L244.1 520.1L244.8 520.1L245.5 520.1L246.2 520.1L246.9 520.1L247.6 520.1L248.3 520.1L249.0 520.1L249.7 520.1L250.4 520.1L251.1 520.1L251.8 520.1L252.5 520.1L253.2 520.1L253.9 520.1L254.6 520.1L255.3 520.1L256.0 520.1L256.7 520.1L257.4 520.1L258.1 520.1L258.8 520.0L259.5 520.0L260.2 520.0L261.0 519.9L261.7 519.9L262.4 519.9L263.1 519.8L263.8 519.8L264.5 519.7L265.2 519.7L265.9 519.6L266.6 519.5L267.3 519.4L268.0 519.3L268.7 519.1L269.4 519.0L270.1 518.9L270.8 518.8L271.5 518.7L272.2 518.6L272.9 518.5L273.6 518.4L274.3 518.3L275.0 518.2L275.7 518.2L276.4 518.2L277.1 518.0L277.8 517.9L278.5 517.9L279.2 517.9L279.9 517.9L280.6 517.8L281.3 517.8L282.0 517.7L282.7 517.7L283.4 517.8L284.1 517.7L284.8 517.6L285.5 517.4L286.2 517.4L286.9 517.4L287.6 517.3L288.3 517.3L289.0 517.3L289.7 517.3L290.4 517.3L291.1 517.2L291.8 517.0L292.5 516.8L293.2 516.6L293.9 516.6L294.6 516.5L295.3 516.4L296.0 516.3L296.7 516.2L297.4 516.0L298.2 515.7L298.9 515.4L299.6 515.1L300.3 514.7L301.0 514.2L301.7 513.5L302.4 512.7L303.1 511.8L303.8 510.8L304.5 509.8L305.2 508.6L305.9 507.0L306.6 504.6L307.3 501.7L308.0 498.9L308.7 496.6L309.4 494.1L310.1 491.7L310.8 489.5L311.5 488.0L312.2 486.3L312.9 485.3L313.6 485.6L314.3 487.0L315.0 488.9L315.7 490.5L316.4 492.7L317.1 495.9L317.8 499.1L318.5 503.6L319.2 508.4L319.9 512.5L320.6 515.1L321.3 517.3L322.0 518.8L322.7 519.3L323.4 519.7L324.1 520.0L324.8 520.1L325.5 520.1L326.2 520.1L326.9 520.1L327.6 520.1L328.3 520.1L329.0 520.1L329.7 520.1L330.4 520.1L331.1 520.1L331.8 520.1L332.5 520.1L333.2 520.1L333.9 520.1L334.7 520.1L335.4 520.1L336.1 520.1L336.8 520.1L337.5 520.1L338.2 520.1L338.9 520.1L339.6 520.1L340.3 520.1L341.0 520.1L341.7 520.1L342.4 520.1L343.1 520.1L343.8 520.1L344.5 520.1L345.2 520.1L345.9 520.1L346.6 520.1L347.3 520.1L348.0 520.1L348.7 520.1L349.4 520.1L350.1 520.1L350.8 520.1L351.5 520.1L352.2 520.1L352.9 520.1" fill="none" stroke="#e8141e" stroke-width="1.9" stroke-linejoin="round"/>
<path d="M242.0 556.8L242.0 556.8L242.7 556.8L243.4 556.8L244.1 556.8L244.8 556.8L245.5 556.8L246.2 556.8L246.9 556.8L247.6 556.8L248.3 556.8L249.0 556.8L249.7 556.8L250.4 556.8L251.1 556.8L251.8 556.8L252.5 556.8L253.2 556.8L253.9 556.8L254.6 556.8L255.3 556.8L256.0 556.8L256.7 556.8L257.4 556.8L258.1 556.8L258.8 556.8L259.5 556.8L260.2 556.8L261.0 556.7L261.7 556.7L262.4 556.6L263.1 556.4L263.8 555.8L264.5 555.1L265.2 554.6L265.9 553.9L266.6 553.5L267.3 553.0L268.0 552.5L268.7 552.1L269.4 551.6L270.1 551.2L270.8 550.4L271.5 549.9L272.2 549.2L272.9 549.0L273.6 548.5L274.3 548.1L275.0 547.4L275.7 546.7L276.4 546.1L277.1 545.8L277.8 545.3L278.5 545.0L279.2 544.7L279.9 544.6L280.6 544.4L281.3 544.1L282.0 544.0L282.7 543.8L283.4 543.7L284.1 543.8L284.8 543.8L285.5 544.1L286.2 544.2L286.9 544.0L287.6 543.7L288.3 543.5L289.0 543.2L289.7 542.6L290.4 542.5L291.1 542.3L291.8 542.1L292.5 541.5L293.2 541.2L293.9 540.5L294.6 540.1L295.3 539.1L296.0 538.6L296.7 537.6L297.4 536.7L298.2 535.7L298.9 534.9L299.6 534.5L300.3 533.8L301.0 533.1L301.7 531.7L302.4 530.9L303.1 530.2L303.8 529.4L304.5 528.1L305.2 526.8L305.9 526.0L306.6 525.5L307.3 524.8L308.0 524.2L308.7 523.7L309.4 523.6L310.1 523.5L310.8 523.9L311.5 524.4L312.2 525.7L312.9 526.8L313.6 528.3L314.3 530.9L315.0 534.0L315.7 537.2L316.4 540.7L317.1 544.2L317.8 547.1L318.5 549.7L319.2 552.4L319.9 554.1L320.6 555.2L321.3 556.0L322.0 556.5L322.7 556.7L323.4 556.7L324.1 556.8L324.8 556.8L325.5 556.8L326.2 556.8L326.9 556.8L327.6 556.8L328.3 556.8L329.0 556.8L329.7 556.8L330.4 556.8L331.1 556.8L331.8 556.8L332.5 556.8L333.2 556.8L333.9 556.8L334.7 556.8L335.4 556.8L336.1 556.8L336.8 556.8L337.5 556.8L338.2 556.8L338.9 556.8L339.6 556.8L340.3 556.8L341.0 556.8L341.7 556.8L342.4 556.8L343.1 556.8L343.8 556.8L344.5 556.8L345.2 556.8L345.9 556.8L346.6 556.8L347.3 556.8L348.0 556.8L348.7 556.8L349.4 556.8L350.1 556.8L350.8 556.8L351.5 556.8L352.2 556.8L352.9 556.8L352.9 556.8Z" fill="#f47a1a" fill-opacity="0.4"/>
<path d="M242.0 556.8L242.7 556.8L243.4 556.8L244.1 556.8L244.8 556.8L245.5 556.8L246.2 556.8L246.9 556.8L247.6 556.8L248.3 556.8L249.0 556.8L249.7 556.8L250.4 556.8L251.1 556.8L251.8 556.8L252.5 556.8L253.2 556.8L253.9 556.8L254.6 556.8L255.3 556.8L256.0 556.8L256.7 556.8L257.4 556.8L258.1 556.8L258.8 556.8L259.5 556.8L260.2 556.8L261.0 556.7L261.7 556.7L262.4 556.6L263.1 556.4L263.8 555.8L264.5 555.1L265.2 554.6L265.9 553.9L266.6 553.5L267.3 553.0L268.0 552.5L268.7 552.1L269.4 551.6L270.1 551.2L270.8 550.4L271.5 549.9L272.2 549.2L272.9 549.0L273.6 548.5L274.3 548.1L275.0 547.4L275.7 546.7L276.4 546.1L277.1 545.8L277.8 545.3L278.5 545.0L279.2 544.7L279.9 544.6L280.6 544.4L281.3 544.1L282.0 544.0L282.7 543.8L283.4 543.7L284.1 543.8L284.8 543.8L285.5 544.1L286.2 544.2L286.9 544.0L287.6 543.7L288.3 543.5L289.0 543.2L289.7 542.6L290.4 542.5L291.1 542.3L291.8 542.1L292.5 541.5L293.2 541.2L293.9 540.5L294.6 540.1L295.3 539.1L296.0 538.6L296.7 537.6L297.4 536.7L298.2 535.7L298.9 534.9L299.6 534.5L300.3 533.8L301.0 533.1L301.7 531.7L302.4 530.9L303.1 530.2L303.8 529.4L304.5 528.1L305.2 526.8L305.9 526.0L306.6 525.5L307.3 524.8L308.0 524.2L308.7 523.7L309.4 523.6L310.1 523.5L310.8 523.9L311.5 524.4L312.2 525.7L312.9 526.8L313.6 528.3L314.3 530.9L315.0 534.0L315.7 537.2L316.4 540.7L317.1 544.2L317.8 547.1L318.5 549.7L319.2 552.4L319.9 554.1L320.6 555.2L321.3 556.0L322.0 556.5L322.7 556.7L323.4 556.7L324.1 556.8L324.8 556.8L325.5 556.8L326.2 556.8L326.9 556.8L327.6 556.8L328.3 556.8L329.0 556.8L329.7 556.8L330.4 556.8L331.1 556.8L331.8 556.8L332.5 556.8L333.2 556.8L333.9 556.8L334.7 556.8L335.4 556.8L336.1 556.8L336.8 556.8L337.5 556.8L338.2 556.8L338.9 556.8L339.6 556.8L340.3 556.8L341.0 556.8L341.7 556.8L342.4 556.8L343.1 556.8L343.8 556.8L344.5 556.8L345.2 556.8L345.9 556.8L346.6 556.8L347.3 556.8L348.0 556.8L348.7 556.8L349.4 556.8L350.1 556.8L350.8 556.8L351.5 556.8L352.2 556.8L352.9 556.8" fill="none" stroke="#f47a1a" stroke-width="1.9" stroke-linejoin="round"/>
<path d="M242.0 593.5L242.0 593.5L242.7 593.5L243.4 593.5L244.1 593.5L244.8 593.5L245.5 593.5L246.2 593.5L246.9 593.5L247.6 593.5L248.3 593.5L249.0 593.5L249.7 593.5L250.4 593.5L251.1 593.5L251.8 593.5L252.5 593.5L253.2 593.5L253.9 593.4L254.6 593.4L255.3 593.3L256.0 593.1L256.7 592.8L257.4 592.5L258.1 592.1L258.8 591.8L259.5 591.3L260.2 591.0L261.0 590.5L261.7 590.1L262.4 589.5L263.1 588.7L263.8 588.0L264.5 587.1L265.2 586.2L265.9 585.2L266.6 584.1L267.3 582.9L268.0 581.7L268.7 580.7L269.4 579.4L270.1 577.9L270.8 576.1L271.5 574.7L272.2 573.4L272.9 572.4L273.6 571.3L274.3 569.6L275.0 568.1L275.7 566.7L276.4 565.9L277.1 565.0L277.8 564.2L278.5 563.1L279.2 562.8L279.9 562.2L280.6 562.2L281.3 562.0L282.0 561.4L282.7 561.0L283.4 561.0L284.1 561.5L284.8 562.2L285.5 562.0L286.2 562.0L286.9 561.8L287.6 562.2L288.3 562.4L289.0 562.2L289.7 562.2L290.4 562.3L291.1 562.4L291.8 562.4L292.5 562.0L293.2 561.9L293.9 561.8L294.6 562.2L295.3 562.3L296.0 562.5L296.7 562.4L297.4 562.5L298.2 562.7L298.9 563.1L299.6 563.2L300.3 563.2L301.0 563.4L301.7 564.0L302.4 565.0L303.1 566.1L303.8 567.2L304.5 567.8L305.2 568.7L305.9 570.1L306.6 571.6L307.3 573.0L308.0 574.2L308.7 575.5L309.4 576.8L310.1 578.1L310.8 579.5L311.5 580.3L312.2 581.2L312.9 582.3L313.6 583.6L314.3 584.7L315.0 585.7L315.7 586.9L316.4 588.0L317.1 588.8L317.8 589.7L318.5 590.6L319.2 591.5L319.9 592.2L320.6 592.6L321.3 592.9L322.0 593.0L322.7 593.2L323.4 593.3L324.1 593.4L324.8 593.5L325.5 593.5L326.2 593.5L326.9 593.5L327.6 593.5L328.3 593.5L329.0 593.5L329.7 593.5L330.4 593.5L331.1 593.5L331.8 593.5L332.5 593.5L333.2 593.5L333.9 593.5L334.7 593.5L335.4 593.5L336.1 593.5L336.8 593.5L337.5 593.5L338.2 593.5L338.9 593.5L339.6 593.5L340.3 593.5L341.0 593.5L341.7 593.5L342.4 593.5L343.1 593.5L343.8 593.5L344.5 593.5L345.2 593.5L345.9 593.5L346.6 593.5L347.3 593.5L348.0 593.5L348.7 593.5L349.4 593.5L350.1 593.5L350.8 593.5L351.5 593.5L352.2 593.5L352.9 593.5L352.9 593.5Z" fill="#86c63c" fill-opacity="0.4"/>
<path d="M242.0 593.5L242.7 593.5L243.4 593.5L244.1 593.5L244.8 593.5L245.5 593.5L246.2 593.5L246.9 593.5L247.6 593.5L248.3 593.5L249.0 593.5L249.7 593.5L250.4 593.5L251.1 593.5L251.8 593.5L252.5 593.5L253.2 593.5L253.9 593.4L254.6 593.4L255.3 593.3L256.0 593.1L256.7 592.8L257.4 592.5L258.1 592.1L258.8 591.8L259.5 591.3L260.2 591.0L261.0 590.5L261.7 590.1L262.4 589.5L263.1 588.7L263.8 588.0L264.5 587.1L265.2 586.2L265.9 585.2L266.6 584.1L267.3 582.9L268.0 581.7L268.7 580.7L269.4 579.4L270.1 577.9L270.8 576.1L271.5 574.7L272.2 573.4L272.9 572.4L273.6 571.3L274.3 569.6L275.0 568.1L275.7 566.7L276.4 565.9L277.1 565.0L277.8 564.2L278.5 563.1L279.2 562.8L279.9 562.2L280.6 562.2L281.3 562.0L282.0 561.4L282.7 561.0L283.4 561.0L284.1 561.5L284.8 562.2L285.5 562.0L286.2 562.0L286.9 561.8L287.6 562.2L288.3 562.4L289.0 562.2L289.7 562.2L290.4 562.3L291.1 562.4L291.8 562.4L292.5 562.0L293.2 561.9L293.9 561.8L294.6 562.2L295.3 562.3L296.0 562.5L296.7 562.4L297.4 562.5L298.2 562.7L298.9 563.1L299.6 563.2L300.3 563.2L301.0 563.4L301.7 564.0L302.4 565.0L303.1 566.1L303.8 567.2L304.5 567.8L305.2 568.7L305.9 570.1L306.6 571.6L307.3 573.0L308.0 574.2L308.7 575.5L309.4 576.8L310.1 578.1L310.8 579.5L311.5 580.3L312.2 581.2L312.9 582.3L313.6 583.6L314.3 584.7L315.0 585.7L315.7 586.9L316.4 588.0L317.1 588.8L317.8 589.7L318.5 590.6L319.2 591.5L319.9 592.2L320.6 592.6L321.3 592.9L322.0 593.0L322.7 593.2L323.4 593.3L324.1 593.4L324.8 593.5L325.5 593.5L326.2 593.5L326.9 593.5L327.6 593.5L328.3 593.5L329.0 593.5L329.7 593.5L330.4 593.5L331.1 593.5L331.8 593.5L332.5 593.5L333.2 593.5L333.9 593.5L334.7 593.5L335.4 593.5L336.1 593.5L336.8 593.5L337.5 593.5L338.2 593.5L338.9 593.5L339.6 593.5L340.3 593.5L341.0 593.5L341.7 593.5L342.4 593.5L343.1 593.5L343.8 593.5L344.5 593.5L345.2 593.5L345.9 593.5L346.6 593.5L347.3 593.5L348.0 593.5L348.7 593.5L349.4 593.5L350.1 593.5L350.8 593.5L351.5 593.5L352.2 593.5L352.9 593.5" fill="none" stroke="#86c63c" stroke-width="1.9" stroke-linejoin="round"/>
<path d="M242.0 630.1L242.0 630.1L242.7 630.1L243.4 630.1L244.1 630.1L244.8 630.1L245.5 630.1L246.2 630.1L246.9 630.1L247.6 630.1L248.3 630.1L249.0 630.1L249.7 630.1L250.4 630.1L251.1 630.1L251.8 630.1L252.5 630.1L253.2 630.1L253.9 630.1L254.6 630.1L255.3 630.1L256.0 630.1L256.7 630.1L257.4 630.1L258.1 630.0L258.8 630.0L259.5 629.9L260.2 629.7L261.0 629.4L261.7 629.0L262.4 628.6L263.1 628.1L263.8 627.6L264.5 626.8L265.2 625.8L265.9 624.4L266.6 623.0L267.3 621.3L268.0 619.5L268.7 617.7L269.4 615.7L270.1 613.6L270.8 611.3L271.5 609.0L272.2 606.6L272.9 604.7L273.6 603.2L274.3 601.7L275.0 600.2L275.7 598.6L276.4 597.9L277.1 597.4L277.8 597.3L278.5 597.3L279.2 597.3L279.9 597.2L280.6 597.0L281.3 597.7L282.0 598.3L282.7 599.2L283.4 600.1L284.1 601.1L284.8 602.1L285.5 602.8L286.2 603.4L286.9 603.8L287.6 604.5L288.3 605.7L289.0 606.9L289.7 607.9L290.4 609.0L291.1 610.3L291.8 611.0L292.5 611.8L293.2 612.5L293.9 613.4L294.6 613.8L295.3 614.2L296.0 614.7L296.7 615.5L297.4 616.3L298.2 617.3L298.9 618.2L299.6 619.1L300.3 619.8L301.0 620.5L301.7 621.3L302.4 622.1L303.1 622.7L303.8 623.4L304.5 624.1L305.2 624.7L305.9 625.2L306.6 625.5L307.3 625.9L308.0 626.5L308.7 627.1L309.4 627.4L310.1 627.8L310.8 628.2L311.5 628.5L312.2 628.7L312.9 628.9L313.6 629.0L314.3 629.2L315.0 629.4L315.7 629.5L316.4 629.6L317.1 629.7L317.8 629.8L318.5 629.9L319.2 629.9L319.9 630.0L320.6 630.0L321.3 630.1L322.0 630.1L322.7 630.1L323.4 630.1L324.1 630.1L324.8 630.1L325.5 630.1L326.2 630.1L326.9 630.1L327.6 630.1L328.3 630.1L329.0 630.1L329.7 630.1L330.4 630.1L331.1 630.1L331.8 630.1L332.5 630.1L333.2 630.1L333.9 630.1L334.7 630.1L335.4 630.1L336.1 630.1L336.8 630.1L337.5 630.1L338.2 630.1L338.9 630.1L339.6 630.1L340.3 630.1L341.0 630.1L341.7 630.1L342.4 630.1L343.1 630.1L343.8 630.1L344.5 630.1L345.2 630.1L345.9 630.1L346.6 630.1L347.3 630.1L348.0 630.1L348.7 630.1L349.4 630.1L350.1 630.1L350.8 630.1L351.5 630.1L352.2 630.1L352.9 630.1L352.9 630.1Z" fill="#2a47a8" fill-opacity="0.4"/>
<path d="M242.0 630.1L242.7 630.1L243.4 630.1L244.1 630.1L244.8 630.1L245.5 630.1L246.2 630.1L246.9 630.1L247.6 630.1L248.3 630.1L249.0 630.1L249.7 630.1L250.4 630.1L251.1 630.1L251.8 630.1L252.5 630.1L253.2 630.1L253.9 630.1L254.6 630.1L255.3 630.1L256.0 630.1L256.7 630.1L257.4 630.1L258.1 630.0L258.8 630.0L259.5 629.9L260.2 629.7L261.0 629.4L261.7 629.0L262.4 628.6L263.1 628.1L263.8 627.6L264.5 626.8L265.2 625.8L265.9 624.4L266.6 623.0L267.3 621.3L268.0 619.5L268.7 617.7L269.4 615.7L270.1 613.6L270.8 611.3L271.5 609.0L272.2 606.6L272.9 604.7L273.6 603.2L274.3 601.7L275.0 600.2L275.7 598.6L276.4 597.9L277.1 597.4L277.8 597.3L278.5 597.3L279.2 597.3L279.9 597.2L280.6 597.0L281.3 597.7L282.0 598.3L282.7 599.2L283.4 600.1L284.1 601.1L284.8 602.1L285.5 602.8L286.2 603.4L286.9 603.8L287.6 604.5L288.3 605.7L289.0 606.9L289.7 607.9L290.4 609.0L291.1 610.3L291.8 611.0L292.5 611.8L293.2 612.5L293.9 613.4L294.6 613.8L295.3 614.2L296.0 614.7L296.7 615.5L297.4 616.3L298.2 617.3L298.9 618.2L299.6 619.1L300.3 619.8L301.0 620.5L301.7 621.3L302.4 622.1L303.1 622.7L303.8 623.4L304.5 624.1L305.2 624.7L305.9 625.2L306.6 625.5L307.3 625.9L308.0 626.5L308.7 627.1L309.4 627.4L310.1 627.8L310.8 628.2L311.5 628.5L312.2 628.7L312.9 628.9L313.6 629.0L314.3 629.2L315.0 629.4L315.7 629.5L316.4 629.6L317.1 629.7L317.8 629.8L318.5 629.9L319.2 629.9L319.9 630.0L320.6 630.0L321.3 630.1L322.0 630.1L322.7 630.1L323.4 630.1L324.1 630.1L324.8 630.1L325.5 630.1L326.2 630.1L326.9 630.1L327.6 630.1L328.3 630.1L329.0 630.1L329.7 630.1L330.4 630.1L331.1 630.1L331.8 630.1L332.5 630.1L333.2 630.1L333.9 630.1L334.7 630.1L335.4 630.1L336.1 630.1L336.8 630.1L337.5 630.1L338.2 630.1L338.9 630.1L339.6 630.1L340.3 630.1L341.0 630.1L341.7 630.1L342.4 630.1L343.1 630.1L343.8 630.1L344.5 630.1L345.2 630.1L345.9 630.1L346.6 630.1L347.3 630.1L348.0 630.1L348.7 630.1L349.4 630.1L350.1 630.1L350.8 630.1L351.5 630.1L352.2 630.1L352.9 630.1" fill="none" stroke="#2a47a8" stroke-width="1.9" stroke-linejoin="round"/>
<path d="M242.0 666.6L242.0 666.6L242.7 666.6L243.4 666.6L244.1 666.6L244.8 666.6L245.5 666.6L246.2 666.6L246.9 666.6L247.6 666.6L248.3 666.6L249.0 666.6L249.7 666.6L250.4 666.6L251.1 666.6L251.8 666.6L252.5 666.6L253.2 666.6L253.9 666.6L254.6 666.6L255.3 666.6L256.0 666.5L256.7 666.5L257.4 666.2L258.1 665.9L258.8 665.5L259.5 665.0L260.2 664.4L261.0 663.8L261.7 663.0L262.4 661.9L263.1 660.7L263.8 659.3L264.5 657.9L265.2 656.2L265.9 654.7L266.6 653.4L267.3 652.0L268.0 650.1L268.7 648.6L269.4 646.6L270.1 645.1L270.8 642.8L271.5 641.1L272.2 638.7L272.9 636.6L273.6 634.6L274.3 633.8L275.0 633.9L275.7 633.8L276.4 633.7L277.1 633.4L277.8 634.6L278.5 635.8L279.2 637.0L279.9 637.9L280.6 639.2L281.3 640.6L282.0 642.1L282.7 643.6L283.4 645.5L284.1 647.2L284.8 649.0L285.5 650.6L286.2 652.1L286.9 653.2L287.6 654.0L288.3 654.6L289.0 655.5L289.7 656.2L290.4 656.8L291.1 657.4L291.8 657.8L292.5 658.3L293.2 658.8L293.9 659.2L294.6 659.7L295.3 659.9L296.0 660.1L296.7 660.2L297.4 660.6L298.2 661.3L298.9 661.7L299.6 662.0L300.3 662.2L301.0 662.3L301.7 662.5L302.4 662.7L303.1 663.0L303.8 663.1L304.5 663.3L305.2 663.6L305.9 663.8L306.6 664.1L307.3 664.2L308.0 664.4L308.7 664.5L309.4 664.7L310.1 665.0L310.8 665.1L311.5 665.2L312.2 665.4L312.9 665.5L313.6 665.6L314.3 665.7L315.0 665.8L315.7 665.9L316.4 666.0L317.1 666.1L317.8 666.2L318.5 666.3L319.2 666.3L319.9 666.4L320.6 666.5L321.3 666.5L322.0 666.6L322.7 666.6L323.4 666.6L324.1 666.6L324.8 666.6L325.5 666.6L326.2 666.6L326.9 666.6L327.6 666.6L328.3 666.6L329.0 666.6L329.7 666.6L330.4 666.6L331.1 666.6L331.8 666.6L332.5 666.6L333.2 666.6L333.9 666.6L334.7 666.6L335.4 666.6L336.1 666.6L336.8 666.6L337.5 666.6L338.2 666.6L338.9 666.6L339.6 666.6L340.3 666.6L341.0 666.6L341.7 666.6L342.4 666.6L343.1 666.6L343.8 666.6L344.5 666.6L345.2 666.6L345.9 666.6L346.6 666.6L347.3 666.6L348.0 666.6L348.7 666.6L349.4 666.6L350.1 666.6L350.8 666.6L351.5 666.6L352.2 666.6L352.9 666.6L352.9 666.6Z" fill="#000000" fill-opacity="0.4"/>
<path d="M242.0 666.6L242.7 666.6L243.4 666.6L244.1 666.6L244.8 666.6L245.5 666.6L246.2 666.6L246.9 666.6L247.6 666.6L248.3 666.6L249.0 666.6L249.7 666.6L250.4 666.6L251.1 666.6L251.8 666.6L252.5 666.6L253.2 666.6L253.9 666.6L254.6 666.6L255.3 666.6L256.0 666.5L256.7 666.5L257.4 666.2L258.1 665.9L258.8 665.5L259.5 665.0L260.2 664.4L261.0 663.8L261.7 663.0L262.4 661.9L263.1 660.7L263.8 659.3L264.5 657.9L265.2 656.2L265.9 654.7L266.6 653.4L267.3 652.0L268.0 650.1L268.7 648.6L269.4 646.6L270.1 645.1L270.8 642.8L271.5 641.1L272.2 638.7L272.9 636.6L273.6 634.6L274.3 633.8L275.0 633.9L275.7 633.8L276.4 633.7L277.1 633.4L277.8 634.6L278.5 635.8L279.2 637.0L279.9 637.9L280.6 639.2L281.3 640.6L282.0 642.1L282.7 643.6L283.4 645.5L284.1 647.2L284.8 649.0L285.5 650.6L286.2 652.1L286.9 653.2L287.6 654.0L288.3 654.6L289.0 655.5L289.7 656.2L290.4 656.8L291.1 657.4L291.8 657.8L292.5 658.3L293.2 658.8L293.9 659.2L294.6 659.7L295.3 659.9L296.0 660.1L296.7 660.2L297.4 660.6L298.2 661.3L298.9 661.7L299.6 662.0L300.3 662.2L301.0 662.3L301.7 662.5L302.4 662.7L303.1 663.0L303.8 663.1L304.5 663.3L305.2 663.6L305.9 663.8L306.6 664.1L307.3 664.2L308.0 664.4L308.7 664.5L309.4 664.7L310.1 665.0L310.8 665.1L311.5 665.2L312.2 665.4L312.9 665.5L313.6 665.6L314.3 665.7L315.0 665.8L315.7 665.9L316.4 666.0L317.1 666.1L317.8 666.2L318.5 666.3L319.2 666.3L319.9 666.4L320.6 666.5L321.3 666.5L322.0 666.6L322.7 666.6L323.4 666.6L324.1 666.6L324.8 666.6L325.5 666.6L326.2 666.6L326.9 666.6L327.6 666.6L328.3 666.6L329.0 666.6L329.7 666.6L330.4 666.6L331.1 666.6L331.8 666.6L332.5 666.6L333.2 666.6L333.9 666.6L334.7 666.6L335.4 666.6L336.1 666.6L336.8 666.6L337.5 666.6L338.2 666.6L338.9 666.6L339.6 666.6L340.3 666.6L341.0 666.6L341.7 666.6L342.4 666.6L343.1 666.6L343.8 666.6L344.5 666.6L345.2 666.6L345.9 666.6L346.6 666.6L347.3 666.6L348.0 666.6L348.7 666.6L349.4 666.6L350.1 666.6L350.8 666.6L351.5 666.6L352.2 666.6L352.9 666.6" fill="none" stroke="#000000" stroke-width="2.1" stroke-linejoin="round"/>
<path d="M354.1 520.1L354.1 520.1L354.8 520.1L355.5 520.1L356.2 520.1L356.9 520.1L357.6 520.1L358.3 520.1L359.0 520.1L359.7 520.1L360.4 520.1L361.1 520.1L361.8 520.1L362.5 520.1L363.2 520.1L363.9 520.1L364.6 520.1L365.3 520.1L366.0 520.1L366.7 520.1L367.5 520.1L368.2 520.1L368.9 520.1L369.6 520.1L370.3 520.1L371.0 520.1L371.7 520.1L372.4 520.1L373.1 520.0L373.8 520.0L374.5 519.9L375.2 519.8L375.9 519.6L376.6 519.4L377.3 519.1L378.0 518.7L378.7 518.2L379.4 517.5L380.1 516.5L380.8 515.4L381.5 514.0L382.2 512.3L382.9 510.4L383.6 508.1L384.3 505.7L385.0 503.0L385.7 500.2L386.4 497.4L387.1 494.6L387.8 492.0L388.5 489.7L389.2 487.8L389.9 486.4L390.6 485.6L391.3 485.5L392.0 485.8L392.7 486.6L393.5 487.8L394.2 489.4L394.9 491.3L395.6 493.5L396.3 495.8L397.0 498.3L397.7 500.7L398.4 503.1L399.1 505.4L399.8 507.6L400.5 509.6L401.2 511.4L401.9 513.0L402.6 514.4L403.3 515.5L404.0 516.5L404.7 517.3L405.4 518.0L406.1 518.5L406.8 518.9L407.5 519.2L408.2 519.5L408.9 519.7L409.6 519.8L410.3 519.9L411.0 520.0L411.7 520.0L412.4 520.0L413.1 520.1L413.8 520.1L414.5 520.1L415.2 520.1L415.9 520.1L416.6 520.1L417.3 520.1L418.0 520.1L418.7 520.1L419.4 520.1L420.2 520.1L420.9 520.1L421.6 520.1L422.3 520.1L423.0 520.1L423.7 520.1L424.4 520.1L425.1 520.1L425.8 520.1L426.5 520.1L427.2 520.1L427.9 520.1L428.6 520.1L429.3 520.1L430.0 520.1L430.7 520.1L431.4 520.1L432.1 520.1L432.8 520.1L433.5 520.1L434.2 520.1L434.9 520.1L435.6 520.1L436.3 520.1L437.0 520.1L437.7 520.1L438.4 520.1L439.1 520.1L439.8 520.1L440.5 520.1L441.2 520.1L441.9 520.1L442.6 520.1L443.3 520.1L444.0 520.1L444.7 520.1L445.4 520.1L446.2 520.1L446.9 520.1L447.6 520.1L448.3 520.1L449.0 520.1L449.7 520.1L450.4 520.1L451.1 520.1L451.8 520.1L452.5 520.1L453.2 520.1L453.9 520.1L454.6 520.1L455.3 520.1L456.0 520.1L456.7 520.1L457.4 520.1L458.1 520.1L458.8 520.1L458.8 520.1Z" fill="#e8141e" fill-opacity="0.4"/>
<path d="M354.1 520.1L354.8 520.1L355.5 520.1L356.2 520.1L356.9 520.1L357.6 520.1L358.3 520.1L359.0 520.1L359.7 520.1L360.4 520.1L361.1 520.1L361.8 520.1L362.5 520.1L363.2 520.1L363.9 520.1L364.6 520.1L365.3 520.1L366.0 520.1L366.7 520.1L367.5 520.1L368.2 520.1L368.9 520.1L369.6 520.1L370.3 520.1L371.0 520.1L371.7 520.1L372.4 520.1L373.1 520.0L373.8 520.0L374.5 519.9L375.2 519.8L375.9 519.6L376.6 519.4L377.3 519.1L378.0 518.7L378.7 518.2L379.4 517.5L380.1 516.5L380.8 515.4L381.5 514.0L382.2 512.3L382.9 510.4L383.6 508.1L384.3 505.7L385.0 503.0L385.7 500.2L386.4 497.4L387.1 494.6L387.8 492.0L388.5 489.7L389.2 487.8L389.9 486.4L390.6 485.6L391.3 485.5L392.0 485.8L392.7 486.6L393.5 487.8L394.2 489.4L394.9 491.3L395.6 493.5L396.3 495.8L397.0 498.3L397.7 500.7L398.4 503.1L399.1 505.4L399.8 507.6L400.5 509.6L401.2 511.4L401.9 513.0L402.6 514.4L403.3 515.5L404.0 516.5L404.7 517.3L405.4 518.0L406.1 518.5L406.8 518.9L407.5 519.2L408.2 519.5L408.9 519.7L409.6 519.8L410.3 519.9L411.0 520.0L411.7 520.0L412.4 520.0L413.1 520.1L413.8 520.1L414.5 520.1L415.2 520.1L415.9 520.1L416.6 520.1L417.3 520.1L418.0 520.1L418.7 520.1L419.4 520.1L420.2 520.1L420.9 520.1L421.6 520.1L422.3 520.1L423.0 520.1L423.7 520.1L424.4 520.1L425.1 520.1L425.8 520.1L426.5 520.1L427.2 520.1L427.9 520.1L428.6 520.1L429.3 520.1L430.0 520.1L430.7 520.1L431.4 520.1L432.1 520.1L432.8 520.1L433.5 520.1L434.2 520.1L434.9 520.1L435.6 520.1L436.3 520.1L437.0 520.1L437.7 520.1L438.4 520.1L439.1 520.1L439.8 520.1L440.5 520.1L441.2 520.1L441.9 520.1L442.6 520.1L443.3 520.1L444.0 520.1L444.7 520.1L445.4 520.1L446.2 520.1L446.9 520.1L447.6 520.1L448.3 520.1L449.0 520.1L449.7 520.1L450.4 520.1L451.1 520.1L451.8 520.1L452.5 520.1L453.2 520.1L453.9 520.1L454.6 520.1L455.3 520.1L456.0 520.1L456.7 520.1L457.4 520.1L458.1 520.1L458.8 520.1" fill="none" stroke="#e8141e" stroke-width="1.9" stroke-linejoin="round"/>
<path d="M354.1 556.8L354.1 556.8L354.8 556.8L355.5 556.8L356.2 556.8L356.9 556.8L357.6 556.8L358.3 556.8L359.0 556.8L359.7 556.8L360.4 556.8L361.1 556.8L361.8 556.8L362.5 556.8L363.2 556.8L363.9 556.8L364.6 556.8L365.3 556.8L366.0 556.8L366.7 556.8L367.5 556.8L368.2 556.8L368.9 556.8L369.6 556.8L370.3 556.8L371.0 556.8L371.7 556.7L372.4 556.7L373.1 556.7L373.8 556.6L374.5 556.5L375.2 556.3L375.9 556.0L376.6 555.7L377.3 555.3L378.0 554.7L378.7 553.9L379.4 552.9L380.1 551.7L380.8 550.3L381.5 548.5L382.2 546.5L382.9 544.3L383.6 541.8L384.3 539.1L385.0 536.4L385.7 533.7L386.4 531.1L387.1 528.7L387.8 526.6L388.5 525.0L389.2 523.9L389.9 523.4L390.6 523.4L391.3 524.0L392.0 525.1L392.7 526.7L393.5 528.7L394.2 530.9L394.9 533.4L395.6 536.0L396.3 538.6L397.0 541.1L397.7 543.5L398.4 545.7L399.1 547.7L399.8 549.4L400.5 551.0L401.2 552.2L401.9 553.3L402.6 554.1L403.3 554.8L404.0 555.4L404.7 555.8L405.4 556.1L406.1 556.3L406.8 556.4L407.5 556.6L408.2 556.6L408.9 556.7L409.6 556.7L410.3 556.8L411.0 556.8L411.7 556.8L412.4 556.8L413.1 556.8L413.8 556.8L414.5 556.8L415.2 556.8L415.9 556.8L416.6 556.8L417.3 556.8L418.0 556.8L418.7 556.8L419.4 556.8L420.2 556.8L420.9 556.8L421.6 556.8L422.3 556.8L423.0 556.8L423.7 556.8L424.4 556.8L425.1 556.8L425.8 556.8L426.5 556.8L427.2 556.8L427.9 556.8L428.6 556.8L429.3 556.8L430.0 556.8L430.7 556.8L431.4 556.8L432.1 556.8L432.8 556.8L433.5 556.8L434.2 556.8L434.9 556.8L435.6 556.8L436.3 556.8L437.0 556.8L437.7 556.8L438.4 556.8L439.1 556.8L439.8 556.8L440.5 556.8L441.2 556.8L441.9 556.8L442.6 556.8L443.3 556.8L444.0 556.8L444.7 556.8L445.4 556.8L446.2 556.8L446.9 556.8L447.6 556.8L448.3 556.8L449.0 556.8L449.7 556.8L450.4 556.8L451.1 556.8L451.8 556.8L452.5 556.8L453.2 556.8L453.9 556.8L454.6 556.8L455.3 556.8L456.0 556.8L456.7 556.8L457.4 556.8L458.1 556.8L458.8 556.8L458.8 556.8Z" fill="#f47a1a" fill-opacity="0.4"/>
<path d="M354.1 556.8L354.8 556.8L355.5 556.8L356.2 556.8L356.9 556.8L357.6 556.8L358.3 556.8L359.0 556.8L359.7 556.8L360.4 556.8L361.1 556.8L361.8 556.8L362.5 556.8L363.2 556.8L363.9 556.8L364.6 556.8L365.3 556.8L366.0 556.8L366.7 556.8L367.5 556.8L368.2 556.8L368.9 556.8L369.6 556.8L370.3 556.8L371.0 556.8L371.7 556.7L372.4 556.7L373.1 556.7L373.8 556.6L374.5 556.5L375.2 556.3L375.9 556.0L376.6 555.7L377.3 555.3L378.0 554.7L378.7 553.9L379.4 552.9L380.1 551.7L380.8 550.3L381.5 548.5L382.2 546.5L382.9 544.3L383.6 541.8L384.3 539.1L385.0 536.4L385.7 533.7L386.4 531.1L387.1 528.7L387.8 526.6L388.5 525.0L389.2 523.9L389.9 523.4L390.6 523.4L391.3 524.0L392.0 525.1L392.7 526.7L393.5 528.7L394.2 530.9L394.9 533.4L395.6 536.0L396.3 538.6L397.0 541.1L397.7 543.5L398.4 545.7L399.1 547.7L399.8 549.4L400.5 551.0L401.2 552.2L401.9 553.3L402.6 554.1L403.3 554.8L404.0 555.4L404.7 555.8L405.4 556.1L406.1 556.3L406.8 556.4L407.5 556.6L408.2 556.6L408.9 556.7L409.6 556.7L410.3 556.8L411.0 556.8L411.7 556.8L412.4 556.8L413.1 556.8L413.8 556.8L414.5 556.8L415.2 556.8L415.9 556.8L416.6 556.8L417.3 556.8L418.0 556.8L418.7 556.8L419.4 556.8L420.2 556.8L420.9 556.8L421.6 556.8L422.3 556.8L423.0 556.8L423.7 556.8L424.4 556.8L425.1 556.8L425.8 556.8L426.5 556.8L427.2 556.8L427.9 556.8L428.6 556.8L429.3 556.8L430.0 556.8L430.7 556.8L431.4 556.8L432.1 556.8L432.8 556.8L433.5 556.8L434.2 556.8L434.9 556.8L435.6 556.8L436.3 556.8L437.0 556.8L437.7 556.8L438.4 556.8L439.1 556.8L439.8 556.8L440.5 556.8L441.2 556.8L441.9 556.8L442.6 556.8L443.3 556.8L444.0 556.8L444.7 556.8L445.4 556.8L446.2 556.8L446.9 556.8L447.6 556.8L448.3 556.8L449.0 556.8L449.7 556.8L450.4 556.8L451.1 556.8L451.8 556.8L452.5 556.8L453.2 556.8L453.9 556.8L454.6 556.8L455.3 556.8L456.0 556.8L456.7 556.8L457.4 556.8L458.1 556.8L458.8 556.8" fill="none" stroke="#f47a1a" stroke-width="1.9" stroke-linejoin="round"/>
<path d="M354.1 593.5L354.1 593.5L354.8 593.5L355.5 593.5L356.2 593.5L356.9 593.5L357.6 593.5L358.3 593.5L359.0 593.5L359.7 593.5L360.4 593.5L361.1 593.5L361.8 593.5L362.5 593.5L363.2 593.5L363.9 593.5L364.6 593.5L365.3 593.5L366.0 593.5L366.7 593.5L367.5 593.5L368.2 593.5L368.9 593.5L369.6 593.4L370.3 593.4L371.0 593.3L371.7 593.2L372.4 593.1L373.1 592.9L373.8 592.6L374.5 592.2L375.2 591.7L375.9 591.0L376.6 590.2L377.3 589.1L378.0 587.8L378.7 586.2L379.4 584.4L380.1 582.3L380.8 580.0L381.5 577.5L382.2 574.8L382.9 572.1L383.6 569.4L384.3 566.8L385.0 564.5L385.7 562.5L386.4 561.0L387.1 560.0L387.8 559.6L388.5 559.7L389.2 560.5L389.9 561.9L390.6 563.8L391.3 566.1L392.0 568.7L392.7 571.5L393.5 574.3L394.2 577.1L394.9 579.7L395.6 582.2L396.3 584.4L397.0 586.3L397.7 587.9L398.4 589.2L399.1 590.3L399.8 591.1L400.5 591.8L401.2 592.3L401.9 592.7L402.6 592.9L403.3 593.1L404.0 593.3L404.7 593.3L405.4 593.4L406.1 593.4L406.8 593.5L407.5 593.5L408.2 593.5L408.9 593.5L409.6 593.5L410.3 593.5L411.0 593.5L411.7 593.5L412.4 593.5L413.1 593.5L413.8 593.5L414.5 593.5L415.2 593.5L415.9 593.5L416.6 593.5L417.3 593.5L418.0 593.5L418.7 593.5L419.4 593.5L420.2 593.5L420.9 593.5L421.6 593.5L422.3 593.5L423.0 593.5L423.7 593.5L424.4 593.5L425.1 593.5L425.8 593.5L426.5 593.5L427.2 593.5L427.9 593.5L428.6 593.5L429.3 593.5L430.0 593.5L430.7 593.5L431.4 593.5L432.1 593.5L432.8 593.5L433.5 593.5L434.2 593.5L434.9 593.5L435.6 593.5L436.3 593.5L437.0 593.5L437.7 593.5L438.4 593.5L439.1 593.5L439.8 593.5L440.5 593.5L441.2 593.5L441.9 593.5L442.6 593.5L443.3 593.5L444.0 593.5L444.7 593.5L445.4 593.5L446.2 593.5L446.9 593.5L447.6 593.5L448.3 593.5L449.0 593.5L449.7 593.5L450.4 593.5L451.1 593.5L451.8 593.5L452.5 593.5L453.2 593.5L453.9 593.5L454.6 593.5L455.3 593.5L456.0 593.5L456.7 593.5L457.4 593.5L458.1 593.5L458.8 593.5L458.8 593.5Z" fill="#86c63c" fill-opacity="0.4"/>
<path d="M354.1 593.5L354.8 593.5L355.5 593.5L356.2 593.5L356.9 593.5L357.6 593.5L358.3 593.5L359.0 593.5L359.7 593.5L360.4 593.5L361.1 593.5L361.8 593.5L362.5 593.5L363.2 593.5L363.9 593.5L364.6 593.5L365.3 593.5L366.0 593.5L366.7 593.5L367.5 593.5L368.2 593.5L368.9 593.5L369.6 593.4L370.3 593.4L371.0 593.3L371.7 593.2L372.4 593.1L373.1 592.9L373.8 592.6L374.5 592.2L375.2 591.7L375.9 591.0L376.6 590.2L377.3 589.1L378.0 587.8L378.7 586.2L379.4 584.4L380.1 582.3L380.8 580.0L381.5 577.5L382.2 574.8L382.9 572.1L383.6 569.4L384.3 566.8L385.0 564.5L385.7 562.5L386.4 561.0L387.1 560.0L387.8 559.6L388.5 559.7L389.2 560.5L389.9 561.9L390.6 563.8L391.3 566.1L392.0 568.7L392.7 571.5L393.5 574.3L394.2 577.1L394.9 579.7L395.6 582.2L396.3 584.4L397.0 586.3L397.7 587.9L398.4 589.2L399.1 590.3L399.8 591.1L400.5 591.8L401.2 592.3L401.9 592.7L402.6 592.9L403.3 593.1L404.0 593.3L404.7 593.3L405.4 593.4L406.1 593.4L406.8 593.5L407.5 593.5L408.2 593.5L408.9 593.5L409.6 593.5L410.3 593.5L411.0 593.5L411.7 593.5L412.4 593.5L413.1 593.5L413.8 593.5L414.5 593.5L415.2 593.5L415.9 593.5L416.6 593.5L417.3 593.5L418.0 593.5L418.7 593.5L419.4 593.5L420.2 593.5L420.9 593.5L421.6 593.5L422.3 593.5L423.0 593.5L423.7 593.5L424.4 593.5L425.1 593.5L425.8 593.5L426.5 593.5L427.2 593.5L427.9 593.5L428.6 593.5L429.3 593.5L430.0 593.5L430.7 593.5L431.4 593.5L432.1 593.5L432.8 593.5L433.5 593.5L434.2 593.5L434.9 593.5L435.6 593.5L436.3 593.5L437.0 593.5L437.7 593.5L438.4 593.5L439.1 593.5L439.8 593.5L440.5 593.5L441.2 593.5L441.9 593.5L442.6 593.5L443.3 593.5L444.0 593.5L444.7 593.5L445.4 593.5L446.2 593.5L446.9 593.5L447.6 593.5L448.3 593.5L449.0 593.5L449.7 593.5L450.4 593.5L451.1 593.5L451.8 593.5L452.5 593.5L453.2 593.5L453.9 593.5L454.6 593.5L455.3 593.5L456.0 593.5L456.7 593.5L457.4 593.5L458.1 593.5L458.8 593.5" fill="none" stroke="#86c63c" stroke-width="1.9" stroke-linejoin="round"/>
<path d="M354.1 630.1L354.1 630.1L354.8 630.1L355.5 630.1L356.2 630.1L356.9 630.1L357.6 630.1L358.3 630.1L359.0 630.1L359.7 630.1L360.4 630.1L361.1 630.1L361.8 630.1L362.5 630.1L363.2 630.1L363.9 630.1L364.6 630.1L365.3 630.1L366.0 630.1L366.7 630.1L367.5 630.1L368.2 630.1L368.9 630.1L369.6 630.1L370.3 630.0L371.0 630.0L371.7 629.9L372.4 629.9L373.1 629.8L373.8 629.6L374.5 629.4L375.2 629.0L375.9 628.6L376.6 628.1L377.3 627.4L378.0 626.5L378.7 625.4L379.4 624.0L380.1 622.5L380.8 620.6L381.5 618.5L382.2 616.2L382.9 613.7L383.6 611.1L384.3 608.5L385.0 605.9L385.7 603.4L386.4 601.2L387.1 599.3L387.8 597.8L388.5 596.9L389.2 596.5L389.9 596.6L390.6 597.3L391.3 598.5L392.0 600.2L392.7 602.3L393.5 604.7L394.2 607.2L394.9 609.9L395.6 612.5L396.3 615.1L397.0 617.5L397.7 619.7L398.4 621.6L399.1 623.3L399.8 624.8L400.5 626.0L401.2 627.0L401.9 627.8L402.6 628.4L403.3 628.9L404.0 629.2L404.7 629.5L405.4 629.7L406.1 629.8L406.8 629.9L407.5 630.0L408.2 630.0L408.9 630.1L409.6 630.1L410.3 630.1L411.0 630.1L411.7 630.1L412.4 630.1L413.1 630.1L413.8 630.1L414.5 630.1L415.2 630.1L415.9 630.1L416.6 630.1L417.3 630.1L418.0 630.1L418.7 630.1L419.4 630.1L420.2 630.1L420.9 630.1L421.6 630.1L422.3 630.1L423.0 630.1L423.7 630.1L424.4 630.1L425.1 630.1L425.8 630.1L426.5 630.1L427.2 630.1L427.9 630.1L428.6 630.1L429.3 630.1L430.0 630.1L430.7 630.1L431.4 630.1L432.1 630.1L432.8 630.1L433.5 630.1L434.2 630.1L434.9 630.1L435.6 630.1L436.3 630.1L437.0 630.1L437.7 630.1L438.4 630.1L439.1 630.1L439.8 630.1L440.5 630.1L441.2 630.1L441.9 630.1L442.6 630.1L443.3 630.1L444.0 630.1L444.7 630.1L445.4 630.1L446.2 630.1L446.9 630.1L447.6 630.1L448.3 630.1L449.0 630.1L449.7 630.1L450.4 630.1L451.1 630.1L451.8 630.1L452.5 630.1L453.2 630.1L453.9 630.1L454.6 630.1L455.3 630.1L456.0 630.1L456.7 630.1L457.4 630.1L458.1 630.1L458.8 630.1L458.8 630.1Z" fill="#2a47a8" fill-opacity="0.4"/>
<path d="M354.1 630.1L354.8 630.1L355.5 630.1L356.2 630.1L356.9 630.1L357.6 630.1L358.3 630.1L359.0 630.1L359.7 630.1L360.4 630.1L361.1 630.1L361.8 630.1L362.5 630.1L363.2 630.1L363.9 630.1L364.6 630.1L365.3 630.1L366.0 630.1L366.7 630.1L367.5 630.1L368.2 630.1L368.9 630.1L369.6 630.1L370.3 630.0L371.0 630.0L371.7 629.9L372.4 629.9L373.1 629.8L373.8 629.6L374.5 629.4L375.2 629.0L375.9 628.6L376.6 628.1L377.3 627.4L378.0 626.5L378.7 625.4L379.4 624.0L380.1 622.5L380.8 620.6L381.5 618.5L382.2 616.2L382.9 613.7L383.6 611.1L384.3 608.5L385.0 605.9L385.7 603.4L386.4 601.2L387.1 599.3L387.8 597.8L388.5 596.9L389.2 596.5L389.9 596.6L390.6 597.3L391.3 598.5L392.0 600.2L392.7 602.3L393.5 604.7L394.2 607.2L394.9 609.9L395.6 612.5L396.3 615.1L397.0 617.5L397.7 619.7L398.4 621.6L399.1 623.3L399.8 624.8L400.5 626.0L401.2 627.0L401.9 627.8L402.6 628.4L403.3 628.9L404.0 629.2L404.7 629.5L405.4 629.7L406.1 629.8L406.8 629.9L407.5 630.0L408.2 630.0L408.9 630.1L409.6 630.1L410.3 630.1L411.0 630.1L411.7 630.1L412.4 630.1L413.1 630.1L413.8 630.1L414.5 630.1L415.2 630.1L415.9 630.1L416.6 630.1L417.3 630.1L418.0 630.1L418.7 630.1L419.4 630.1L420.2 630.1L420.9 630.1L421.6 630.1L422.3 630.1L423.0 630.1L423.7 630.1L424.4 630.1L425.1 630.1L425.8 630.1L426.5 630.1L427.2 630.1L427.9 630.1L428.6 630.1L429.3 630.1L430.0 630.1L430.7 630.1L431.4 630.1L432.1 630.1L432.8 630.1L433.5 630.1L434.2 630.1L434.9 630.1L435.6 630.1L436.3 630.1L437.0 630.1L437.7 630.1L438.4 630.1L439.1 630.1L439.8 630.1L440.5 630.1L441.2 630.1L441.9 630.1L442.6 630.1L443.3 630.1L444.0 630.1L444.7 630.1L445.4 630.1L446.2 630.1L446.9 630.1L447.6 630.1L448.3 630.1L449.0 630.1L449.7 630.1L450.4 630.1L451.1 630.1L451.8 630.1L452.5 630.1L453.2 630.1L453.9 630.1L454.6 630.1L455.3 630.1L456.0 630.1L456.7 630.1L457.4 630.1L458.1 630.1L458.8 630.1" fill="none" stroke="#2a47a8" stroke-width="1.9" stroke-linejoin="round"/>
<path d="M354.1 666.6L354.1 666.6L354.8 666.6L355.5 666.6L356.2 666.6L356.9 666.6L357.6 666.6L358.3 666.6L359.0 666.6L359.7 666.6L360.4 666.6L361.1 666.6L361.8 666.6L362.5 666.6L363.2 666.6L363.9 666.6L364.6 666.6L365.3 666.6L366.0 666.6L366.7 666.6L367.5 666.6L368.2 666.6L368.9 666.6L369.6 666.6L370.3 666.6L371.0 666.6L371.7 666.6L372.4 666.5L373.1 666.5L373.8 666.4L374.5 666.2L375.2 666.0L375.9 665.7L376.6 665.3L377.3 664.7L378.0 663.9L378.7 662.9L379.4 661.5L380.1 659.9L380.8 657.9L381.5 655.6L382.2 652.9L382.9 650.0L383.6 647.0L384.3 644.0L385.0 641.1L385.7 638.5L386.4 636.3L387.1 634.8L387.8 633.9L388.5 633.8L389.2 634.4L389.9 635.7L390.6 637.7L391.3 640.2L392.0 643.0L392.7 646.0L393.5 649.0L394.2 652.0L394.9 654.7L395.6 657.1L396.3 659.2L397.0 661.0L397.7 662.5L398.4 663.6L399.1 664.5L399.8 665.1L400.5 665.6L401.2 665.9L401.9 666.2L402.6 666.3L403.3 666.4L404.0 666.5L404.7 666.5L405.4 666.6L406.1 666.6L406.8 666.6L407.5 666.6L408.2 666.6L408.9 666.6L409.6 666.6L410.3 666.6L411.0 666.6L411.7 666.6L412.4 666.6L413.1 666.6L413.8 666.6L414.5 666.6L415.2 666.6L415.9 666.6L416.6 666.6L417.3 666.6L418.0 666.6L418.7 666.6L419.4 666.6L420.2 666.6L420.9 666.6L421.6 666.6L422.3 666.6L423.0 666.6L423.7 666.6L424.4 666.6L425.1 666.6L425.8 666.6L426.5 666.6L427.2 666.6L427.9 666.6L428.6 666.6L429.3 666.6L430.0 666.6L430.7 666.6L431.4 666.6L432.1 666.6L432.8 666.6L433.5 666.6L434.2 666.6L434.9 666.6L435.6 666.6L436.3 666.6L437.0 666.6L437.7 666.6L438.4 666.6L439.1 666.6L439.8 666.6L440.5 666.6L441.2 666.6L441.9 666.6L442.6 666.6L443.3 666.6L444.0 666.6L444.7 666.6L445.4 666.6L446.2 666.6L446.9 666.6L447.6 666.6L448.3 666.6L449.0 666.6L449.7 666.6L450.4 666.6L451.1 666.6L451.8 666.6L452.5 666.6L453.2 666.6L453.9 666.6L454.6 666.6L455.3 666.6L456.0 666.6L456.7 666.6L457.4 666.6L458.1 666.6L458.8 666.6L458.8 666.6Z" fill="#000000" fill-opacity="0.4"/>
<path d="M354.1 666.6L354.8 666.6L355.5 666.6L356.2 666.6L356.9 666.6L357.6 666.6L358.3 666.6L359.0 666.6L359.7 666.6L360.4 666.6L361.1 666.6L361.8 666.6L362.5 666.6L363.2 666.6L363.9 666.6L364.6 666.6L365.3 666.6L366.0 666.6L366.7 666.6L367.5 666.6L368.2 666.6L368.9 666.6L369.6 666.6L370.3 666.6L371.0 666.6L371.7 666.6L372.4 666.5L373.1 666.5L373.8 666.4L374.5 666.2L375.2 666.0L375.9 665.7L376.6 665.3L377.3 664.7L378.0 663.9L378.7 662.9L379.4 661.5L380.1 659.9L380.8 657.9L381.5 655.6L382.2 652.9L382.9 650.0L383.6 647.0L384.3 644.0L385.0 641.1L385.7 638.5L386.4 636.3L387.1 634.8L387.8 633.9L388.5 633.8L389.2 634.4L389.9 635.7L390.6 637.7L391.3 640.2L392.0 643.0L392.7 646.0L393.5 649.0L394.2 652.0L394.9 654.7L395.6 657.1L396.3 659.2L397.0 661.0L397.7 662.5L398.4 663.6L399.1 664.5L399.8 665.1L400.5 665.6L401.2 665.9L401.9 666.2L402.6 666.3L403.3 666.4L404.0 666.5L404.7 666.5L405.4 666.6L406.1 666.6L406.8 666.6L407.5 666.6L408.2 666.6L408.9 666.6L409.6 666.6L410.3 666.6L411.0 666.6L411.7 666.6L412.4 666.6L413.1 666.6L413.8 666.6L414.5 666.6L415.2 666.6L415.9 666.6L416.6 666.6L417.3 666.6L418.0 666.6L418.7 666.6L419.4 666.6L420.2 666.6L420.9 666.6L421.6 666.6L422.3 666.6L423.0 666.6L423.7 666.6L424.4 666.6L425.1 666.6L425.8 666.6L426.5 666.6L427.2 666.6L427.9 666.6L428.6 666.6L429.3 666.6L430.0 666.6L430.7 666.6L431.4 666.6L432.1 666.6L432.8 666.6L433.5 666.6L434.2 666.6L434.9 666.6L435.6 666.6L436.3 666.6L437.0 666.6L437.7 666.6L438.4 666.6L439.1 666.6L439.8 666.6L440.5 666.6L441.2 666.6L441.9 666.6L442.6 666.6L443.3 666.6L444.0 666.6L444.7 666.6L445.4 666.6L446.2 666.6L446.9 666.6L447.6 666.6L448.3 666.6L449.0 666.6L449.7 666.6L450.4 666.6L451.1 666.6L451.8 666.6L452.5 666.6L453.2 666.6L453.9 666.6L454.6 666.6L455.3 666.6L456.0 666.6L456.7 666.6L457.4 666.6L458.1 666.6L458.8 666.6" fill="none" stroke="#000000" stroke-width="2.1" stroke-linejoin="round"/>
<line x1="28.5" y1="483.2" x2="459.4" y2="483.2" stroke="#666" stroke-width="1.2"/>
<line x1="28.5" y1="483.2" x2="28.5" y2="666.6" stroke="#444" stroke-width="1.4"/>
<line x1="134.4" y1="483.2" x2="134.4" y2="666.6" stroke="#8a8a8a" stroke-width="2.7"/>
<line x1="133.55" y1="483.2" x2="133.55" y2="666.6" stroke="#5a5a5a" stroke-width="0.9"/>
<line x1="135.25" y1="483.2" x2="135.25" y2="666.6" stroke="#5a5a5a" stroke-width="0.9"/>
<line x1="241.4" y1="483.2" x2="241.4" y2="666.6" stroke="#8a8a8a" stroke-width="2.7"/>
<line x1="240.55" y1="483.2" x2="240.55" y2="666.6" stroke="#5a5a5a" stroke-width="0.9"/>
<line x1="242.25" y1="483.2" x2="242.25" y2="666.6" stroke="#5a5a5a" stroke-width="0.9"/>
<line x1="353.5" y1="483.2" x2="353.5" y2="666.6" stroke="#8a8a8a" stroke-width="2.7"/>
<line x1="352.65" y1="483.2" x2="352.65" y2="666.6" stroke="#5a5a5a" stroke-width="0.9"/>
<line x1="354.35" y1="483.2" x2="354.35" y2="666.6" stroke="#5a5a5a" stroke-width="0.9"/>
<line x1="459.4" y1="483.2" x2="459.4" y2="666.6" stroke="#222" stroke-width="1.1"/>
<line x1="28.5" y1="666.6" x2="459.4" y2="666.6" stroke="#111" stroke-width="1.8"/>
<text x="69.9" y="504.0" font-size="9.2">16682</text>
<text x="69.9" y="540.7" font-size="9.2">14644</text>
<text x="69.9" y="577.4" font-size="9.2">19452</text>
<text x="69.9" y="614.0" font-size="9.2">15241</text>
<text x="69.9" y="650.5" font-size="9.2">10810</text>
<text x="208.6" y="504.0" font-size="9.2">2030</text>
<text x="208.6" y="540.7" font-size="9.2">1987</text>
<text x="208.6" y="577.4" font-size="9.2">5299</text>
<text x="208.6" y="614.0" font-size="9.2">3414</text>
<text x="208.6" y="650.5" font-size="9.2">1233</text>
<text x="314.4" y="504.0" font-size="9.2">9488</text>
<text x="314.4" y="540.7" font-size="9.2">5242</text>
<text x="314.4" y="577.4" font-size="9.2">2816</text>
<text x="314.4" y="614.0" font-size="9.2">1550</text>
<text x="314.4" y="650.5" font-size="9.2">1040</text>
<text x="406.9" y="504.0" font-size="9.2">811</text>
<text x="406.9" y="540.7" font-size="9.2">685</text>
<text x="406.9" y="577.4" font-size="9.2">523</text>
<text x="406.9" y="614.0" font-size="9.2">629</text>
<text x="406.9" y="650.5" font-size="9.2">546</text>
<text transform="translate(78.8,679.8) scale(0.6,1)" font-size="9.8" text-anchor="middle" letter-spacing="0.5" style="stroke-width:0.35px">CD 19</text>
<text transform="translate(185.5,679.8) scale(0.6,1)" font-size="9.8" text-anchor="middle" letter-spacing="0.5" style="stroke-width:0.35px">CD 22</text>
<text transform="translate(294.8,679.8) scale(0.6,1)" font-size="9.8" text-anchor="middle" letter-spacing="0.5" style="stroke-width:0.35px">CD 33</text>
<text transform="translate(404.1,679.8) scale(0.6,1)" font-size="9.8" text-anchor="middle" letter-spacing="0.5" style="stroke-width:0.35px">FLT 3</text>
<text transform="translate(20.3,574.9) rotate(-90) scale(0.69,1)" font-size="9.4" text-anchor="middle" style="stroke-width:0.4px">MFI</text>
<rect x="459.4" y="484.6" width="46.4" height="181.7" fill="none" stroke="#333" stroke-width="1"/>
<line x1="459.4" y1="519.9" x2="505.8" y2="519.9" stroke="#777" stroke-width="1"/>
<line x1="459.4" y1="557.2" x2="505.8" y2="557.2" stroke="#777" stroke-width="1"/>
<line x1="459.4" y1="593.7" x2="505.8" y2="593.7" stroke="#777" stroke-width="1"/>
<line x1="459.4" y1="630.6" x2="505.8" y2="630.6" stroke="#777" stroke-width="1"/>
<text x="461.9" y="504.0" font-size="9">KO 55-7</text>
<text x="461.9" y="541.2" font-size="9">KO 55-3</text>
<text x="461.9" y="577.4" font-size="9">IK6 3-5</text>
<text x="461.9" y="614.4" font-size="9">Het 26</text>
<text x="461.9" y="651.3" font-size="9">WT 57-2</text>
<text transform="translate(468,470.2) scale(0.93,1)" font-size="9.6" font-style="italic">IKZF1</text>
<text x="461.3" y="479.3" font-size="9">Genotype</text>
<rect x="0.7" y="0.7" width="518.6" height="685.6" fill="none" stroke="#000" stroke-width="1.5"/>
</svg></body></html>
